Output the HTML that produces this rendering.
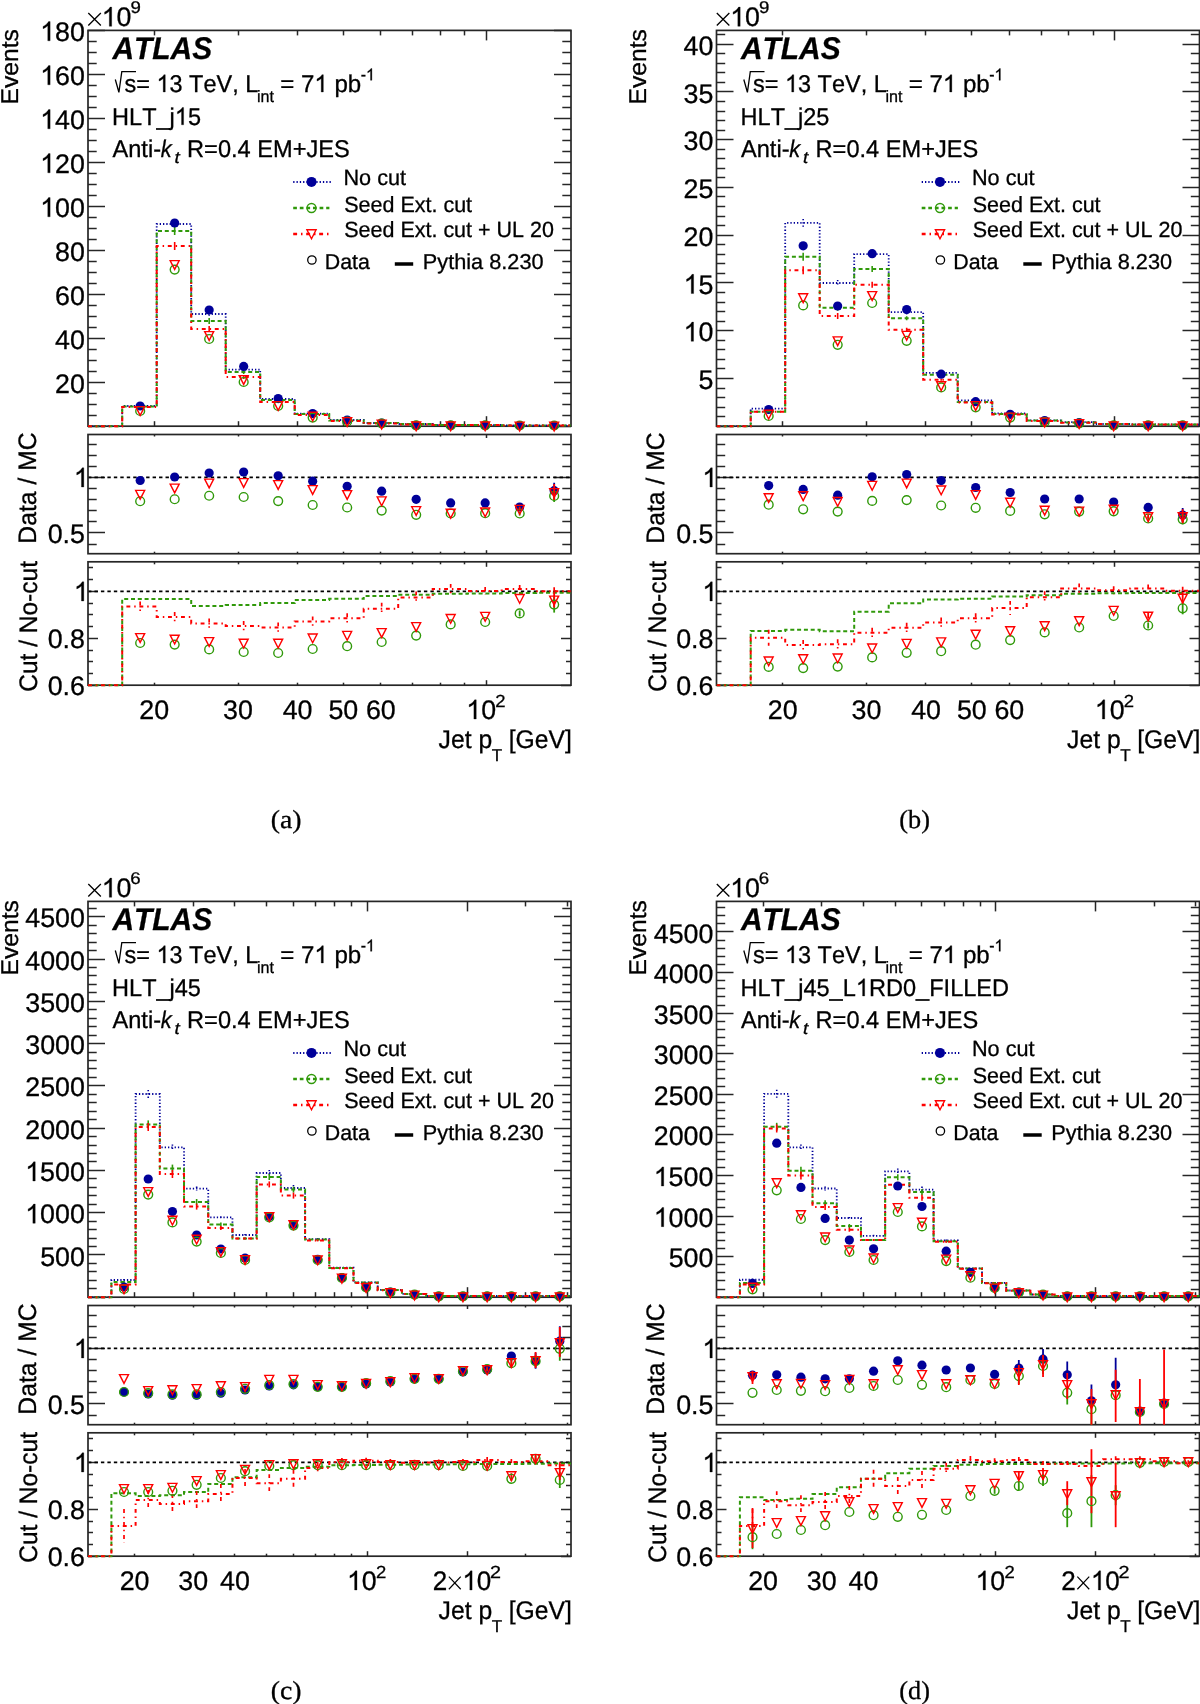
<!DOCTYPE html>
<html><head><meta charset="utf-8"><style>
html,body{margin:0;padding:0;background:#fff;}
body{width:1200px;height:1704px;overflow:hidden;}
svg{display:block;}
text{white-space:pre;fill:#000;stroke:#000;stroke-width:0.3px;font-kerning:none;text-rendering:geometricPrecision;}
svg{will-change:transform;}
</style></head><body>
<svg width="1200" height="1704" viewBox="0 0 1200 1704">
<rect x="0" y="0" width="1200" height="1704" fill="#fff"/>
<clipPath id="ca0"><rect x="88" y="29.4" width="483" height="401.8"/></clipPath>
<clipPath id="ca1"><rect x="82" y="434.5" width="495" height="119.2"/></clipPath>
<clipPath id="ca2"><rect x="88" y="561.8" width="483" height="124.9"/></clipPath>
<line x1="88" y1="415.5" x2="96.7" y2="415.5" stroke="#262626" stroke-width="1.5"/>
<line x1="571" y1="415.5" x2="562.3" y2="415.5" stroke="#262626" stroke-width="1.5"/>
<line x1="88" y1="404.5" x2="96.7" y2="404.5" stroke="#262626" stroke-width="1.5"/>
<line x1="571" y1="404.5" x2="562.3" y2="404.5" stroke="#262626" stroke-width="1.5"/>
<line x1="88" y1="393.5" x2="96.7" y2="393.5" stroke="#262626" stroke-width="1.5"/>
<line x1="571" y1="393.5" x2="562.3" y2="393.5" stroke="#262626" stroke-width="1.5"/>
<line x1="88" y1="371.5" x2="96.7" y2="371.5" stroke="#262626" stroke-width="1.5"/>
<line x1="571" y1="371.5" x2="562.3" y2="371.5" stroke="#262626" stroke-width="1.5"/>
<line x1="88" y1="360.5" x2="96.7" y2="360.5" stroke="#262626" stroke-width="1.5"/>
<line x1="571" y1="360.5" x2="562.3" y2="360.5" stroke="#262626" stroke-width="1.5"/>
<line x1="88" y1="349.5" x2="96.7" y2="349.5" stroke="#262626" stroke-width="1.5"/>
<line x1="571" y1="349.5" x2="562.3" y2="349.5" stroke="#262626" stroke-width="1.5"/>
<line x1="88" y1="327.5" x2="96.7" y2="327.5" stroke="#262626" stroke-width="1.5"/>
<line x1="571" y1="327.5" x2="562.3" y2="327.5" stroke="#262626" stroke-width="1.5"/>
<line x1="88" y1="316.5" x2="96.7" y2="316.5" stroke="#262626" stroke-width="1.5"/>
<line x1="571" y1="316.5" x2="562.3" y2="316.5" stroke="#262626" stroke-width="1.5"/>
<line x1="88" y1="305.5" x2="96.7" y2="305.5" stroke="#262626" stroke-width="1.5"/>
<line x1="571" y1="305.5" x2="562.3" y2="305.5" stroke="#262626" stroke-width="1.5"/>
<line x1="88" y1="283.5" x2="96.7" y2="283.5" stroke="#262626" stroke-width="1.5"/>
<line x1="571" y1="283.5" x2="562.3" y2="283.5" stroke="#262626" stroke-width="1.5"/>
<line x1="88" y1="272.5" x2="96.7" y2="272.5" stroke="#262626" stroke-width="1.5"/>
<line x1="571" y1="272.5" x2="562.3" y2="272.5" stroke="#262626" stroke-width="1.5"/>
<line x1="88" y1="261.5" x2="96.7" y2="261.5" stroke="#262626" stroke-width="1.5"/>
<line x1="571" y1="261.5" x2="562.3" y2="261.5" stroke="#262626" stroke-width="1.5"/>
<line x1="88" y1="239.5" x2="96.7" y2="239.5" stroke="#262626" stroke-width="1.5"/>
<line x1="571" y1="239.5" x2="562.3" y2="239.5" stroke="#262626" stroke-width="1.5"/>
<line x1="88" y1="228.5" x2="96.7" y2="228.5" stroke="#262626" stroke-width="1.5"/>
<line x1="571" y1="228.5" x2="562.3" y2="228.5" stroke="#262626" stroke-width="1.5"/>
<line x1="88" y1="217.5" x2="96.7" y2="217.5" stroke="#262626" stroke-width="1.5"/>
<line x1="571" y1="217.5" x2="562.3" y2="217.5" stroke="#262626" stroke-width="1.5"/>
<line x1="88" y1="195.5" x2="96.7" y2="195.5" stroke="#262626" stroke-width="1.5"/>
<line x1="571" y1="195.5" x2="562.3" y2="195.5" stroke="#262626" stroke-width="1.5"/>
<line x1="88" y1="184.5" x2="96.7" y2="184.5" stroke="#262626" stroke-width="1.5"/>
<line x1="571" y1="184.5" x2="562.3" y2="184.5" stroke="#262626" stroke-width="1.5"/>
<line x1="88" y1="173.5" x2="96.7" y2="173.5" stroke="#262626" stroke-width="1.5"/>
<line x1="571" y1="173.5" x2="562.3" y2="173.5" stroke="#262626" stroke-width="1.5"/>
<line x1="88" y1="151.5" x2="96.7" y2="151.5" stroke="#262626" stroke-width="1.5"/>
<line x1="571" y1="151.5" x2="562.3" y2="151.5" stroke="#262626" stroke-width="1.5"/>
<line x1="88" y1="140.5" x2="96.7" y2="140.5" stroke="#262626" stroke-width="1.5"/>
<line x1="571" y1="140.5" x2="562.3" y2="140.5" stroke="#262626" stroke-width="1.5"/>
<line x1="88" y1="129.5" x2="96.7" y2="129.5" stroke="#262626" stroke-width="1.5"/>
<line x1="571" y1="129.5" x2="562.3" y2="129.5" stroke="#262626" stroke-width="1.5"/>
<line x1="88" y1="107.5" x2="96.7" y2="107.5" stroke="#262626" stroke-width="1.5"/>
<line x1="571" y1="107.5" x2="562.3" y2="107.5" stroke="#262626" stroke-width="1.5"/>
<line x1="88" y1="96.5" x2="96.7" y2="96.5" stroke="#262626" stroke-width="1.5"/>
<line x1="571" y1="96.5" x2="562.3" y2="96.5" stroke="#262626" stroke-width="1.5"/>
<line x1="88" y1="85.5" x2="96.7" y2="85.5" stroke="#262626" stroke-width="1.5"/>
<line x1="571" y1="85.5" x2="562.3" y2="85.5" stroke="#262626" stroke-width="1.5"/>
<line x1="88" y1="63.5" x2="96.7" y2="63.5" stroke="#262626" stroke-width="1.5"/>
<line x1="571" y1="63.5" x2="562.3" y2="63.5" stroke="#262626" stroke-width="1.5"/>
<line x1="88" y1="52.5" x2="96.7" y2="52.5" stroke="#262626" stroke-width="1.5"/>
<line x1="571" y1="52.5" x2="562.3" y2="52.5" stroke="#262626" stroke-width="1.5"/>
<line x1="88" y1="41.5" x2="96.7" y2="41.5" stroke="#262626" stroke-width="1.5"/>
<line x1="571" y1="41.5" x2="562.3" y2="41.5" stroke="#262626" stroke-width="1.5"/>
<line x1="88" y1="426.5" x2="105" y2="426.5" stroke="#262626" stroke-width="1.5"/>
<line x1="571" y1="426.5" x2="554" y2="426.5" stroke="#262626" stroke-width="1.5"/>
<line x1="88" y1="382.5" x2="105" y2="382.5" stroke="#262626" stroke-width="1.5"/>
<line x1="571" y1="382.5" x2="554" y2="382.5" stroke="#262626" stroke-width="1.5"/>
<line x1="88" y1="338.5" x2="105" y2="338.5" stroke="#262626" stroke-width="1.5"/>
<line x1="571" y1="338.5" x2="554" y2="338.5" stroke="#262626" stroke-width="1.5"/>
<line x1="88" y1="294.5" x2="105" y2="294.5" stroke="#262626" stroke-width="1.5"/>
<line x1="571" y1="294.5" x2="554" y2="294.5" stroke="#262626" stroke-width="1.5"/>
<line x1="88" y1="250.5" x2="105" y2="250.5" stroke="#262626" stroke-width="1.5"/>
<line x1="571" y1="250.5" x2="554" y2="250.5" stroke="#262626" stroke-width="1.5"/>
<line x1="88" y1="206.5" x2="105" y2="206.5" stroke="#262626" stroke-width="1.5"/>
<line x1="571" y1="206.5" x2="554" y2="206.5" stroke="#262626" stroke-width="1.5"/>
<line x1="88" y1="162.5" x2="105" y2="162.5" stroke="#262626" stroke-width="1.5"/>
<line x1="571" y1="162.5" x2="554" y2="162.5" stroke="#262626" stroke-width="1.5"/>
<line x1="88" y1="118.5" x2="105" y2="118.5" stroke="#262626" stroke-width="1.5"/>
<line x1="571" y1="118.5" x2="554" y2="118.5" stroke="#262626" stroke-width="1.5"/>
<line x1="88" y1="74.5" x2="105" y2="74.5" stroke="#262626" stroke-width="1.5"/>
<line x1="571" y1="74.5" x2="554" y2="74.5" stroke="#262626" stroke-width="1.5"/>
<line x1="88" y1="30.5" x2="105" y2="30.5" stroke="#262626" stroke-width="1.5"/>
<line x1="571" y1="30.5" x2="554" y2="30.5" stroke="#262626" stroke-width="1.5"/>
<g transform="translate(55.04 392.8)"><text xml:space="preserve" x="0" y="0" font-size="26.8" font-family='"Liberation Sans", sans-serif'>20</text></g>
<g transform="translate(55.04 348.8)"><text xml:space="preserve" x="0" y="0" font-size="26.8" font-family='"Liberation Sans", sans-serif'>40</text></g>
<g transform="translate(55.04 304.8)"><text xml:space="preserve" x="0" y="0" font-size="26.8" font-family='"Liberation Sans", sans-serif'>60</text></g>
<g transform="translate(55.04 260.8)"><text xml:space="preserve" x="0" y="0" font-size="26.8" font-family='"Liberation Sans", sans-serif'>80</text></g>
<g transform="translate(40.13 216.8)"><path d="M10 0L7.64 0L7.64 -15.01C7.07 -14.46 6.32 -13.91 5.4 -13.36C4.49 -12.81 3.66 -12.39 2.92 -12.1L2.92 -14.38C4.21 -15 5.35 -15.74 6.33 -16.62C7.32 -17.5 8.01 -18.35 8.41 -19.18L10 -19.18Z" fill="#000" stroke="#000" stroke-width="0.3"/><text xml:space="preserve" x="14.9" y="0" font-size="26.8" font-family='"Liberation Sans", sans-serif'>00</text></g>
<g transform="translate(40.13 172.8)"><path d="M10 0L7.64 0L7.64 -15.01C7.07 -14.46 6.32 -13.91 5.4 -13.36C4.49 -12.81 3.66 -12.39 2.92 -12.1L2.92 -14.38C4.21 -15 5.35 -15.74 6.33 -16.62C7.32 -17.5 8.01 -18.35 8.41 -19.18L10 -19.18Z" fill="#000" stroke="#000" stroke-width="0.3"/><text xml:space="preserve" x="14.9" y="0" font-size="26.8" font-family='"Liberation Sans", sans-serif'>20</text></g>
<g transform="translate(40.13 128.8)"><path d="M10 0L7.64 0L7.64 -15.01C7.07 -14.46 6.32 -13.91 5.4 -13.36C4.49 -12.81 3.66 -12.39 2.92 -12.1L2.92 -14.38C4.21 -15 5.35 -15.74 6.33 -16.62C7.32 -17.5 8.01 -18.35 8.41 -19.18L10 -19.18Z" fill="#000" stroke="#000" stroke-width="0.3"/><text xml:space="preserve" x="14.9" y="0" font-size="26.8" font-family='"Liberation Sans", sans-serif'>40</text></g>
<g transform="translate(40.13 84.8)"><path d="M10 0L7.64 0L7.64 -15.01C7.07 -14.46 6.32 -13.91 5.4 -13.36C4.49 -12.81 3.66 -12.39 2.92 -12.1L2.92 -14.38C4.21 -15 5.35 -15.74 6.33 -16.62C7.32 -17.5 8.01 -18.35 8.41 -19.18L10 -19.18Z" fill="#000" stroke="#000" stroke-width="0.3"/><text xml:space="preserve" x="14.9" y="0" font-size="26.8" font-family='"Liberation Sans", sans-serif'>60</text></g>
<g transform="translate(40.13 40.8)"><path d="M10 0L7.64 0L7.64 -15.01C7.07 -14.46 6.32 -13.91 5.4 -13.36C4.49 -12.81 3.66 -12.39 2.92 -12.1L2.92 -14.38C4.21 -15 5.35 -15.74 6.33 -16.62C7.32 -17.5 8.01 -18.35 8.41 -19.18L10 -19.18Z" fill="#000" stroke="#000" stroke-width="0.3"/><text xml:space="preserve" x="14.9" y="0" font-size="26.8" font-family='"Liberation Sans", sans-serif'>80</text></g>
<line x1="154.5" y1="426.2" x2="154.5" y2="421.2" stroke="#262626" stroke-width="1.5"/>
<line x1="154.5" y1="30.4" x2="154.5" y2="35.4" stroke="#262626" stroke-width="1.5"/>
<line x1="238.5" y1="426.2" x2="238.5" y2="421.2" stroke="#262626" stroke-width="1.5"/>
<line x1="238.5" y1="30.4" x2="238.5" y2="35.4" stroke="#262626" stroke-width="1.5"/>
<line x1="297.5" y1="426.2" x2="297.5" y2="421.2" stroke="#262626" stroke-width="1.5"/>
<line x1="297.5" y1="30.4" x2="297.5" y2="35.4" stroke="#262626" stroke-width="1.5"/>
<line x1="343.5" y1="426.2" x2="343.5" y2="421.2" stroke="#262626" stroke-width="1.5"/>
<line x1="343.5" y1="30.4" x2="343.5" y2="35.4" stroke="#262626" stroke-width="1.5"/>
<line x1="380.5" y1="426.2" x2="380.5" y2="421.2" stroke="#262626" stroke-width="1.5"/>
<line x1="380.5" y1="30.4" x2="380.5" y2="35.4" stroke="#262626" stroke-width="1.5"/>
<line x1="412.5" y1="426.2" x2="412.5" y2="421.2" stroke="#262626" stroke-width="1.5"/>
<line x1="412.5" y1="30.4" x2="412.5" y2="35.4" stroke="#262626" stroke-width="1.5"/>
<line x1="440.5" y1="426.2" x2="440.5" y2="421.2" stroke="#262626" stroke-width="1.5"/>
<line x1="440.5" y1="30.4" x2="440.5" y2="35.4" stroke="#262626" stroke-width="1.5"/>
<line x1="464.5" y1="426.2" x2="464.5" y2="421.2" stroke="#262626" stroke-width="1.5"/>
<line x1="464.5" y1="30.4" x2="464.5" y2="35.4" stroke="#262626" stroke-width="1.5"/>
<line x1="486.5" y1="426.2" x2="486.5" y2="416.2" stroke="#262626" stroke-width="1.5"/>
<line x1="486.5" y1="30.4" x2="486.5" y2="40.4" stroke="#262626" stroke-width="1.5"/>
<rect x="88" y="30.4" width="483" height="395.8" fill="none" stroke="#262626" stroke-width="1.7"/>
<g clip-path="url(#ca0)">
<path d="M88 426.2L122.2 426.2L122.2 406L156.7 406L156.7 224L191.2 224L191.2 314L225.7 314L225.7 369.6L260.2 369.6L260.2 399L294.7 399L294.7 413.6L329.2 413.6L329.2 420L363.7 420L363.7 423L398.2 423L398.2 424L432.7 424L432.7 425L467.2 425L467.2 425L501.7 425L501.7 425.5L536.2 425.5L536.2 425.5L570.7 425.5" stroke="#000099" stroke-width="1.8" fill="none" stroke-dasharray="1.3 2.0" stroke-linejoin="miter"/>
<path d="M88 426.2L122.2 426.2L122.2 406.5L156.7 406.5L156.7 231L191.2 231L191.2 321L225.7 321L225.7 372L260.2 372L260.2 400L294.7 400L294.7 414L329.2 414L329.2 420.5L363.7 420.5L363.7 423L398.2 423L398.2 424L432.7 424L432.7 425L467.2 425L467.2 425L501.7 425L501.7 425.5L536.2 425.5L536.2 425.5L570.7 425.5" stroke="#30990a" stroke-width="2" fill="none" stroke-dasharray="4 2.8" stroke-linejoin="miter"/>
<path d="M88 426.2L122.2 426.2L122.2 407L156.7 407L156.7 246L191.2 246L191.2 329L225.7 329L225.7 377L260.2 377L260.2 402L294.7 402L294.7 415L329.2 415L329.2 421L363.7 421L363.7 423.5L398.2 423.5L398.2 424.5L432.7 424.5L432.7 425L467.2 425L467.2 425L501.7 425L501.7 425.5L536.2 425.5L536.2 425.5L570.7 425.5" stroke="#ff0000" stroke-width="2" fill="none" stroke-dasharray="3.9 3.9 1.5 3.7" stroke-linejoin="miter"/>
<line x1="140.17" y1="405" x2="140.17" y2="407" stroke="#000099" stroke-width="1.6" stroke-dasharray="1.3 2.0"/>
<line x1="174.67" y1="221" x2="174.67" y2="227" stroke="#000099" stroke-width="1.6" stroke-dasharray="1.3 2.0"/>
<line x1="209.17" y1="312" x2="209.17" y2="316" stroke="#000099" stroke-width="1.6" stroke-dasharray="1.3 2.0"/>
<line x1="243.67" y1="368.6" x2="243.67" y2="370.6" stroke="#000099" stroke-width="1.6" stroke-dasharray="1.3 2.0"/>
<line x1="278.17" y1="398" x2="278.17" y2="400" stroke="#000099" stroke-width="1.6" stroke-dasharray="1.3 2.0"/>
<line x1="140.17" y1="405.5" x2="140.17" y2="407.5" stroke="#30990a" stroke-width="1.6"/>
<line x1="174.67" y1="227" x2="174.67" y2="235" stroke="#30990a" stroke-width="1.6"/>
<line x1="209.17" y1="318" x2="209.17" y2="324" stroke="#30990a" stroke-width="1.6"/>
<line x1="243.67" y1="370" x2="243.67" y2="374" stroke="#30990a" stroke-width="1.6"/>
<line x1="278.17" y1="399" x2="278.17" y2="401" stroke="#30990a" stroke-width="1.6"/>
<line x1="140.17" y1="406" x2="140.17" y2="408" stroke="#ff0000" stroke-width="1.6"/>
<line x1="174.67" y1="242" x2="174.67" y2="250" stroke="#ff0000" stroke-width="1.6"/>
<line x1="209.17" y1="326" x2="209.17" y2="332" stroke="#ff0000" stroke-width="1.6"/>
<line x1="243.67" y1="375" x2="243.67" y2="379" stroke="#ff0000" stroke-width="1.6"/>
<line x1="278.17" y1="401" x2="278.17" y2="403" stroke="#ff0000" stroke-width="1.6"/>
</g>
<circle cx="140.17" cy="406" r="4.6" fill="#000099"/>
<circle cx="140.17" cy="411" r="4.4" fill="none" stroke="#30990a" stroke-width="1.4"/>
<path d="M135.67 406.58L144.67 406.58L140.17 415.4Z" stroke="#ff0000" stroke-width="1.4" fill="none" stroke-linejoin="miter"/>
<circle cx="174.67" cy="223" r="4.6" fill="#000099"/>
<circle cx="174.67" cy="269.6" r="4.4" fill="none" stroke="#30990a" stroke-width="1.4"/>
<path d="M170.17 260.58L179.17 260.58L174.67 269.4Z" stroke="#ff0000" stroke-width="1.4" fill="none" stroke-linejoin="miter"/>
<circle cx="209.17" cy="310" r="4.6" fill="#000099"/>
<circle cx="209.17" cy="339" r="4.4" fill="none" stroke="#30990a" stroke-width="1.4"/>
<path d="M204.67 331.58L213.67 331.58L209.17 340.4Z" stroke="#ff0000" stroke-width="1.4" fill="none" stroke-linejoin="miter"/>
<circle cx="243.67" cy="366.4" r="4.6" fill="#000099"/>
<circle cx="243.67" cy="382" r="4.4" fill="none" stroke="#30990a" stroke-width="1.4"/>
<path d="M239.17 375.58L248.17 375.58L243.67 384.4Z" stroke="#ff0000" stroke-width="1.4" fill="none" stroke-linejoin="miter"/>
<circle cx="278.17" cy="398.6" r="4.6" fill="#000099"/>
<circle cx="278.17" cy="406" r="4.4" fill="none" stroke="#30990a" stroke-width="1.4"/>
<path d="M273.67 401.58L282.67 401.58L278.17 410.4Z" stroke="#ff0000" stroke-width="1.4" fill="none" stroke-linejoin="miter"/>
<circle cx="312.67" cy="413.6" r="4.6" fill="#000099"/>
<circle cx="312.67" cy="417.6" r="4.4" fill="none" stroke="#30990a" stroke-width="1.4"/>
<path d="M308.17 412.18L317.17 412.18L312.67 421Z" stroke="#ff0000" stroke-width="1.4" fill="none" stroke-linejoin="miter"/>
<circle cx="347.17" cy="420" r="4.6" fill="#000099"/>
<circle cx="347.17" cy="421.5" r="4.4" fill="none" stroke="#30990a" stroke-width="1.4"/>
<path d="M342.67 417.58L351.67 417.58L347.17 426.4Z" stroke="#ff0000" stroke-width="1.4" fill="none" stroke-linejoin="miter"/>
<circle cx="381.67" cy="423" r="4.6" fill="#000099"/>
<circle cx="381.67" cy="423.5" r="4.4" fill="none" stroke="#30990a" stroke-width="1.4"/>
<path d="M377.17 420.08L386.17 420.08L381.67 428.9Z" stroke="#ff0000" stroke-width="1.4" fill="none" stroke-linejoin="miter"/>
<circle cx="416.17" cy="425.4" r="4.6" fill="#000099"/>
<circle cx="416.17" cy="425.4" r="4.4" fill="none" stroke="#30990a" stroke-width="1.4"/>
<path d="M411.67 421.98L420.67 421.98L416.17 430.8Z" stroke="#ff0000" stroke-width="1.4" fill="none" stroke-linejoin="miter"/>
<circle cx="450.67" cy="425.4" r="4.6" fill="#000099"/>
<circle cx="450.67" cy="425.4" r="4.4" fill="none" stroke="#30990a" stroke-width="1.4"/>
<path d="M446.17 421.98L455.17 421.98L450.67 430.8Z" stroke="#ff0000" stroke-width="1.4" fill="none" stroke-linejoin="miter"/>
<circle cx="485.17" cy="425.4" r="4.6" fill="#000099"/>
<circle cx="485.17" cy="425.4" r="4.4" fill="none" stroke="#30990a" stroke-width="1.4"/>
<path d="M480.67 421.98L489.67 421.98L485.17 430.8Z" stroke="#ff0000" stroke-width="1.4" fill="none" stroke-linejoin="miter"/>
<circle cx="519.67" cy="425.5" r="4.6" fill="#000099"/>
<circle cx="519.67" cy="425.5" r="4.4" fill="none" stroke="#30990a" stroke-width="1.4"/>
<path d="M515.17 422.08L524.17 422.08L519.67 430.9Z" stroke="#ff0000" stroke-width="1.4" fill="none" stroke-linejoin="miter"/>
<circle cx="554.17" cy="425.5" r="4.6" fill="#000099"/>
<circle cx="554.17" cy="425.5" r="4.4" fill="none" stroke="#30990a" stroke-width="1.4"/>
<path d="M549.67 422.08L558.67 422.08L554.17 430.9Z" stroke="#ff0000" stroke-width="1.4" fill="none" stroke-linejoin="miter"/>
<line x1="88" y1="544.5" x2="96.7" y2="544.5" stroke="#262626" stroke-width="1.5"/>
<line x1="571" y1="544.5" x2="562.3" y2="544.5" stroke="#262626" stroke-width="1.5"/>
<line x1="88" y1="521.5" x2="96.7" y2="521.5" stroke="#262626" stroke-width="1.5"/>
<line x1="571" y1="521.5" x2="562.3" y2="521.5" stroke="#262626" stroke-width="1.5"/>
<line x1="88" y1="510.5" x2="96.7" y2="510.5" stroke="#262626" stroke-width="1.5"/>
<line x1="571" y1="510.5" x2="562.3" y2="510.5" stroke="#262626" stroke-width="1.5"/>
<line x1="88" y1="499.5" x2="96.7" y2="499.5" stroke="#262626" stroke-width="1.5"/>
<line x1="571" y1="499.5" x2="562.3" y2="499.5" stroke="#262626" stroke-width="1.5"/>
<line x1="88" y1="488.5" x2="96.7" y2="488.5" stroke="#262626" stroke-width="1.5"/>
<line x1="571" y1="488.5" x2="562.3" y2="488.5" stroke="#262626" stroke-width="1.5"/>
<line x1="88" y1="466.5" x2="96.7" y2="466.5" stroke="#262626" stroke-width="1.5"/>
<line x1="571" y1="466.5" x2="562.3" y2="466.5" stroke="#262626" stroke-width="1.5"/>
<line x1="88" y1="455.5" x2="96.7" y2="455.5" stroke="#262626" stroke-width="1.5"/>
<line x1="571" y1="455.5" x2="562.3" y2="455.5" stroke="#262626" stroke-width="1.5"/>
<line x1="88" y1="444.5" x2="96.7" y2="444.5" stroke="#262626" stroke-width="1.5"/>
<line x1="571" y1="444.5" x2="562.3" y2="444.5" stroke="#262626" stroke-width="1.5"/>
<line x1="88" y1="532.5" x2="105" y2="532.5" stroke="#262626" stroke-width="1.5"/>
<line x1="571" y1="532.5" x2="554" y2="532.5" stroke="#262626" stroke-width="1.5"/>
<line x1="88" y1="477.5" x2="105" y2="477.5" stroke="#262626" stroke-width="1.5"/>
<line x1="571" y1="477.5" x2="554" y2="477.5" stroke="#262626" stroke-width="1.5"/>
<g transform="translate(73.8 487)"><path d="M10 0L7.64 0L7.64 -15.01C7.07 -14.46 6.32 -13.91 5.4 -13.36C4.49 -12.81 3.66 -12.39 2.92 -12.1L2.92 -14.38C4.21 -15 5.35 -15.74 6.33 -16.62C7.32 -17.5 8.01 -18.35 8.41 -19.18L10 -19.18Z" fill="#000" stroke="#000" stroke-width="0.3"/></g>
<g transform="translate(47.67 542.5)"><text xml:space="preserve" x="0" y="0" font-size="26.8" font-family='"Liberation Sans", sans-serif'>0.5</text></g>
<line x1="154.5" y1="553.7" x2="154.5" y2="551.7" stroke="#262626" stroke-width="1.5"/>
<line x1="154.5" y1="434.5" x2="154.5" y2="436.5" stroke="#262626" stroke-width="1.5"/>
<line x1="238.5" y1="553.7" x2="238.5" y2="551.7" stroke="#262626" stroke-width="1.5"/>
<line x1="238.5" y1="434.5" x2="238.5" y2="436.5" stroke="#262626" stroke-width="1.5"/>
<line x1="297.5" y1="553.7" x2="297.5" y2="551.7" stroke="#262626" stroke-width="1.5"/>
<line x1="297.5" y1="434.5" x2="297.5" y2="436.5" stroke="#262626" stroke-width="1.5"/>
<line x1="343.5" y1="553.7" x2="343.5" y2="551.7" stroke="#262626" stroke-width="1.5"/>
<line x1="343.5" y1="434.5" x2="343.5" y2="436.5" stroke="#262626" stroke-width="1.5"/>
<line x1="380.5" y1="553.7" x2="380.5" y2="551.7" stroke="#262626" stroke-width="1.5"/>
<line x1="380.5" y1="434.5" x2="380.5" y2="436.5" stroke="#262626" stroke-width="1.5"/>
<line x1="412.5" y1="553.7" x2="412.5" y2="551.7" stroke="#262626" stroke-width="1.5"/>
<line x1="412.5" y1="434.5" x2="412.5" y2="436.5" stroke="#262626" stroke-width="1.5"/>
<line x1="440.5" y1="553.7" x2="440.5" y2="551.7" stroke="#262626" stroke-width="1.5"/>
<line x1="440.5" y1="434.5" x2="440.5" y2="436.5" stroke="#262626" stroke-width="1.5"/>
<line x1="464.5" y1="553.7" x2="464.5" y2="551.7" stroke="#262626" stroke-width="1.5"/>
<line x1="464.5" y1="434.5" x2="464.5" y2="436.5" stroke="#262626" stroke-width="1.5"/>
<line x1="486.5" y1="553.7" x2="486.5" y2="550.2" stroke="#262626" stroke-width="1.5"/>
<line x1="486.5" y1="434.5" x2="486.5" y2="438" stroke="#262626" stroke-width="1.5"/>
<line x1="88" y1="477.4" x2="571" y2="477.4" stroke="#000000" stroke-width="1.6" stroke-dasharray="3.4 3.06"/>
<rect x="88" y="434.5" width="483" height="119.2" fill="none" stroke="#262626" stroke-width="1.7"/>
<g clip-path="url(#ca1)">
<circle cx="140.17" cy="480.5" r="4.6" fill="#000099"/>
<circle cx="174.67" cy="477" r="4.6" fill="#000099"/>
<circle cx="209.17" cy="473" r="4.6" fill="#000099"/>
<circle cx="243.67" cy="472" r="4.6" fill="#000099"/>
<circle cx="278.17" cy="475.8" r="4.6" fill="#000099"/>
<circle cx="312.67" cy="481.2" r="4.6" fill="#000099"/>
<circle cx="347.17" cy="486.3" r="4.6" fill="#000099"/>
<circle cx="381.67" cy="491.2" r="4.6" fill="#000099"/>
<circle cx="416.17" cy="499.3" r="4.6" fill="#000099"/>
<circle cx="450.67" cy="502.9" r="4.6" fill="#000099"/>
<circle cx="485.17" cy="502.9" r="4.6" fill="#000099"/>
<line x1="519.67" y1="505" x2="519.67" y2="509" stroke="#000099" stroke-width="1.8"/>
<circle cx="519.67" cy="507" r="4.6" fill="#000099"/>
<line x1="554.17" y1="482.7" x2="554.17" y2="498.7" stroke="#000099" stroke-width="1.8"/>
<circle cx="554.17" cy="490.7" r="4.6" fill="#000099"/>
<circle cx="140.17" cy="501.25" r="4.4" fill="none" stroke="#30990a" stroke-width="1.4"/>
<circle cx="174.67" cy="499.25" r="4.4" fill="none" stroke="#30990a" stroke-width="1.4"/>
<circle cx="209.17" cy="495.75" r="4.4" fill="none" stroke="#30990a" stroke-width="1.4"/>
<circle cx="243.67" cy="497" r="4.4" fill="none" stroke="#30990a" stroke-width="1.4"/>
<circle cx="278.17" cy="501.1" r="4.4" fill="none" stroke="#30990a" stroke-width="1.4"/>
<circle cx="312.67" cy="505" r="4.4" fill="none" stroke="#30990a" stroke-width="1.4"/>
<circle cx="347.17" cy="507.5" r="4.4" fill="none" stroke="#30990a" stroke-width="1.4"/>
<circle cx="381.67" cy="510.6" r="4.4" fill="none" stroke="#30990a" stroke-width="1.4"/>
<circle cx="416.17" cy="514.8" r="4.4" fill="none" stroke="#30990a" stroke-width="1.4"/>
<circle cx="450.67" cy="513.5" r="4.4" fill="none" stroke="#30990a" stroke-width="1.4"/>
<circle cx="485.17" cy="513.2" r="4.4" fill="none" stroke="#30990a" stroke-width="1.4"/>
<line x1="519.67" y1="511.5" x2="519.67" y2="515.5" stroke="#30990a" stroke-width="1.8"/>
<circle cx="519.67" cy="513.5" r="4.4" fill="none" stroke="#30990a" stroke-width="1.4"/>
<line x1="554.17" y1="489.9" x2="554.17" y2="501.9" stroke="#30990a" stroke-width="1.8"/>
<circle cx="554.17" cy="495.9" r="4.4" fill="none" stroke="#30990a" stroke-width="1.4"/>
<path d="M135.67 490.33L144.67 490.33L140.17 499.15Z" stroke="#ff0000" stroke-width="1.4" fill="none" stroke-linejoin="miter"/>
<path d="M170.17 484.08L179.17 484.08L174.67 492.9Z" stroke="#ff0000" stroke-width="1.4" fill="none" stroke-linejoin="miter"/>
<path d="M204.67 479.08L213.67 479.08L209.17 487.9Z" stroke="#ff0000" stroke-width="1.4" fill="none" stroke-linejoin="miter"/>
<path d="M239.17 478.58L248.17 478.58L243.67 487.4Z" stroke="#ff0000" stroke-width="1.4" fill="none" stroke-linejoin="miter"/>
<path d="M273.67 480.58L282.67 480.58L278.17 489.4Z" stroke="#ff0000" stroke-width="1.4" fill="none" stroke-linejoin="miter"/>
<path d="M308.17 485.58L317.17 485.58L312.67 494.4Z" stroke="#ff0000" stroke-width="1.4" fill="none" stroke-linejoin="miter"/>
<path d="M342.67 490.58L351.67 490.58L347.17 499.4Z" stroke="#ff0000" stroke-width="1.4" fill="none" stroke-linejoin="miter"/>
<path d="M377.17 496.88L386.17 496.88L381.67 505.7Z" stroke="#ff0000" stroke-width="1.4" fill="none" stroke-linejoin="miter"/>
<path d="M411.67 506.58L420.67 506.58L416.17 515.4Z" stroke="#ff0000" stroke-width="1.4" fill="none" stroke-linejoin="miter"/>
<path d="M446.17 509.28L455.17 509.28L450.67 518.1Z" stroke="#ff0000" stroke-width="1.4" fill="none" stroke-linejoin="miter"/>
<path d="M480.67 507.98L489.67 507.98L485.17 516.8Z" stroke="#ff0000" stroke-width="1.4" fill="none" stroke-linejoin="miter"/>
<line x1="519.67" y1="506.8" x2="519.67" y2="510.8" stroke="#ff0000" stroke-width="1.8"/>
<path d="M515.17 505.38L524.17 505.38L519.67 514.2Z" stroke="#ff0000" stroke-width="1.4" fill="none" stroke-linejoin="miter"/>
<line x1="554.17" y1="484" x2="554.17" y2="500" stroke="#ff0000" stroke-width="1.8"/>
<path d="M549.67 488.58L558.67 488.58L554.17 497.4Z" stroke="#ff0000" stroke-width="1.4" fill="none" stroke-linejoin="miter"/>
</g>
<line x1="88" y1="673.5" x2="93" y2="673.5" stroke="#262626" stroke-width="1.5"/>
<line x1="571" y1="673.5" x2="566" y2="673.5" stroke="#262626" stroke-width="1.5"/>
<line x1="88" y1="661.5" x2="93" y2="661.5" stroke="#262626" stroke-width="1.5"/>
<line x1="571" y1="661.5" x2="566" y2="661.5" stroke="#262626" stroke-width="1.5"/>
<line x1="88" y1="650.5" x2="93" y2="650.5" stroke="#262626" stroke-width="1.5"/>
<line x1="571" y1="650.5" x2="566" y2="650.5" stroke="#262626" stroke-width="1.5"/>
<line x1="88" y1="626.5" x2="93" y2="626.5" stroke="#262626" stroke-width="1.5"/>
<line x1="571" y1="626.5" x2="566" y2="626.5" stroke="#262626" stroke-width="1.5"/>
<line x1="88" y1="614.5" x2="93" y2="614.5" stroke="#262626" stroke-width="1.5"/>
<line x1="571" y1="614.5" x2="566" y2="614.5" stroke="#262626" stroke-width="1.5"/>
<line x1="88" y1="603.5" x2="93" y2="603.5" stroke="#262626" stroke-width="1.5"/>
<line x1="571" y1="603.5" x2="566" y2="603.5" stroke="#262626" stroke-width="1.5"/>
<line x1="88" y1="579.5" x2="93" y2="579.5" stroke="#262626" stroke-width="1.5"/>
<line x1="571" y1="579.5" x2="566" y2="579.5" stroke="#262626" stroke-width="1.5"/>
<line x1="88" y1="567.5" x2="93" y2="567.5" stroke="#262626" stroke-width="1.5"/>
<line x1="571" y1="567.5" x2="566" y2="567.5" stroke="#262626" stroke-width="1.5"/>
<line x1="88" y1="685.5" x2="98" y2="685.5" stroke="#262626" stroke-width="1.5"/>
<line x1="571" y1="685.5" x2="561" y2="685.5" stroke="#262626" stroke-width="1.5"/>
<line x1="88" y1="638.5" x2="98" y2="638.5" stroke="#262626" stroke-width="1.5"/>
<line x1="571" y1="638.5" x2="561" y2="638.5" stroke="#262626" stroke-width="1.5"/>
<line x1="88" y1="591.5" x2="98" y2="591.5" stroke="#262626" stroke-width="1.5"/>
<line x1="571" y1="591.5" x2="561" y2="591.5" stroke="#262626" stroke-width="1.5"/>
<g transform="translate(73.8 601)"><path d="M10 0L7.64 0L7.64 -15.01C7.07 -14.46 6.32 -13.91 5.4 -13.36C4.49 -12.81 3.66 -12.39 2.92 -12.1L2.92 -14.38C4.21 -15 5.35 -15.74 6.33 -16.62C7.32 -17.5 8.01 -18.35 8.41 -19.18L10 -19.18Z" fill="#000" stroke="#000" stroke-width="0.3"/></g>
<g transform="translate(47.71 648)"><text xml:space="preserve" x="0" y="0" font-size="26.8" font-family='"Liberation Sans", sans-serif'>0.8</text></g>
<g transform="translate(47.72 695)"><text xml:space="preserve" x="0" y="0" font-size="26.8" font-family='"Liberation Sans", sans-serif'>0.6</text></g>
<line x1="154.5" y1="685.2" x2="154.5" y2="682.7" stroke="#262626" stroke-width="1.5"/>
<line x1="154.5" y1="561.8" x2="154.5" y2="564.3" stroke="#262626" stroke-width="1.5"/>
<line x1="238.5" y1="685.2" x2="238.5" y2="682.7" stroke="#262626" stroke-width="1.5"/>
<line x1="238.5" y1="561.8" x2="238.5" y2="564.3" stroke="#262626" stroke-width="1.5"/>
<line x1="297.5" y1="685.2" x2="297.5" y2="682.7" stroke="#262626" stroke-width="1.5"/>
<line x1="297.5" y1="561.8" x2="297.5" y2="564.3" stroke="#262626" stroke-width="1.5"/>
<line x1="343.5" y1="685.2" x2="343.5" y2="682.7" stroke="#262626" stroke-width="1.5"/>
<line x1="343.5" y1="561.8" x2="343.5" y2="564.3" stroke="#262626" stroke-width="1.5"/>
<line x1="380.5" y1="685.2" x2="380.5" y2="682.7" stroke="#262626" stroke-width="1.5"/>
<line x1="380.5" y1="561.8" x2="380.5" y2="564.3" stroke="#262626" stroke-width="1.5"/>
<line x1="412.5" y1="685.2" x2="412.5" y2="682.7" stroke="#262626" stroke-width="1.5"/>
<line x1="412.5" y1="561.8" x2="412.5" y2="564.3" stroke="#262626" stroke-width="1.5"/>
<line x1="440.5" y1="685.2" x2="440.5" y2="682.7" stroke="#262626" stroke-width="1.5"/>
<line x1="440.5" y1="561.8" x2="440.5" y2="564.3" stroke="#262626" stroke-width="1.5"/>
<line x1="464.5" y1="685.2" x2="464.5" y2="682.7" stroke="#262626" stroke-width="1.5"/>
<line x1="464.5" y1="561.8" x2="464.5" y2="564.3" stroke="#262626" stroke-width="1.5"/>
<line x1="486.5" y1="685.2" x2="486.5" y2="680.2" stroke="#262626" stroke-width="1.5"/>
<line x1="486.5" y1="561.8" x2="486.5" y2="566.8" stroke="#262626" stroke-width="1.5"/>
<line x1="88" y1="591.4" x2="571" y2="591.4" stroke="#000000" stroke-width="1.6" stroke-dasharray="3.4 3.06"/>
<rect x="88" y="561.8" width="483" height="123.4" fill="none" stroke="#262626" stroke-width="1.7"/>
<g clip-path="url(#ca2)">
<path d="M88 685.2L122.2 685.2L122.2 599L156.7 599L156.7 599L191.2 599L191.2 606L225.7 606L225.7 605L260.2 605L260.2 603L294.7 603L294.7 600L329.2 600L329.2 598.8L363.7 598.8L363.7 596L398.2 596L398.2 594.8L432.7 594.8L432.7 593.8L467.2 593.8L467.2 593.4L501.7 593.4L501.7 593L536.2 593L536.2 592.8L570.7 592.8" stroke="#30990a" stroke-width="2" fill="none" stroke-dasharray="4 2.8" stroke-linejoin="miter"/>
<path d="M88 685.2L122.2 685.2L122.2 606.6L156.7 606.6L156.7 617L191.2 617L191.2 623.4L225.7 623.4L225.7 626L260.2 626L260.2 627.4L294.7 627.4L294.7 621.4L329.2 621.4L329.2 618.3L363.7 618.3L363.7 608.7L398.2 608.7L398.2 597.4L432.7 597.4L432.7 588.9L467.2 588.9L467.2 591L501.7 591L501.7 588.9L536.2 588.9L536.2 591.3L570.7 591.3" stroke="#ff0000" stroke-width="2" fill="none" stroke-dasharray="3.9 3.9 1.5 3.7" stroke-linejoin="miter"/>
<line x1="140.17" y1="601.6" x2="140.17" y2="611.6" stroke="#ff0000" stroke-width="1.7" stroke-dasharray="3.9 3.9 1.5 3.7"/>
<line x1="174.67" y1="612" x2="174.67" y2="622" stroke="#ff0000" stroke-width="1.7" stroke-dasharray="3.9 3.9 1.5 3.7"/>
<line x1="209.17" y1="618.4" x2="209.17" y2="628.4" stroke="#ff0000" stroke-width="1.7" stroke-dasharray="3.9 3.9 1.5 3.7"/>
<line x1="243.67" y1="621" x2="243.67" y2="631" stroke="#ff0000" stroke-width="1.7" stroke-dasharray="3.9 3.9 1.5 3.7"/>
<line x1="278.17" y1="622.4" x2="278.17" y2="632.4" stroke="#ff0000" stroke-width="1.7" stroke-dasharray="3.9 3.9 1.5 3.7"/>
<line x1="312.67" y1="616.4" x2="312.67" y2="626.4" stroke="#ff0000" stroke-width="1.7" stroke-dasharray="3.9 3.9 1.5 3.7"/>
<line x1="347.17" y1="613.3" x2="347.17" y2="623.3" stroke="#ff0000" stroke-width="1.7" stroke-dasharray="3.9 3.9 1.5 3.7"/>
<line x1="381.67" y1="602.7" x2="381.67" y2="614.7" stroke="#ff0000" stroke-width="1.7" stroke-dasharray="3.9 3.9 1.5 3.7"/>
<line x1="416.17" y1="591.4" x2="416.17" y2="603.4" stroke="#ff0000" stroke-width="1.7" stroke-dasharray="3.9 3.9 1.5 3.7"/>
<line x1="450.67" y1="583.9" x2="450.67" y2="593.9" stroke="#ff0000" stroke-width="1.7" stroke-dasharray="3.9 3.9 1.5 3.7"/>
<line x1="485.17" y1="587" x2="485.17" y2="595" stroke="#ff0000" stroke-width="1.7" stroke-dasharray="3.9 3.9 1.5 3.7"/>
<line x1="519.67" y1="584.9" x2="519.67" y2="592.9" stroke="#ff0000" stroke-width="1.7" stroke-dasharray="3.9 3.9 1.5 3.7"/>
<line x1="554.17" y1="587.3" x2="554.17" y2="595.3" stroke="#ff0000" stroke-width="1.7" stroke-dasharray="3.9 3.9 1.5 3.7"/>
</g>
<circle cx="140.17" cy="643" r="4.4" fill="none" stroke="#30990a" stroke-width="1.4"/>
<path d="M135.67 633.58L144.67 633.58L140.17 642.4Z" stroke="#ff0000" stroke-width="1.4" fill="none" stroke-linejoin="miter"/>
<circle cx="174.67" cy="644.6" r="4.4" fill="none" stroke="#30990a" stroke-width="1.4"/>
<path d="M170.17 635.18L179.17 635.18L174.67 644Z" stroke="#ff0000" stroke-width="1.4" fill="none" stroke-linejoin="miter"/>
<circle cx="209.17" cy="649.4" r="4.4" fill="none" stroke="#30990a" stroke-width="1.4"/>
<path d="M204.67 637.58L213.67 637.58L209.17 646.4Z" stroke="#ff0000" stroke-width="1.4" fill="none" stroke-linejoin="miter"/>
<circle cx="243.67" cy="652" r="4.4" fill="none" stroke="#30990a" stroke-width="1.4"/>
<path d="M239.17 639.18L248.17 639.18L243.67 648Z" stroke="#ff0000" stroke-width="1.4" fill="none" stroke-linejoin="miter"/>
<circle cx="278.17" cy="653" r="4.4" fill="none" stroke="#30990a" stroke-width="1.4"/>
<path d="M273.67 639.18L282.67 639.18L278.17 648Z" stroke="#ff0000" stroke-width="1.4" fill="none" stroke-linejoin="miter"/>
<circle cx="312.67" cy="649" r="4.4" fill="none" stroke="#30990a" stroke-width="1.4"/>
<path d="M308.17 633.98L317.17 633.98L312.67 642.8Z" stroke="#ff0000" stroke-width="1.4" fill="none" stroke-linejoin="miter"/>
<circle cx="347.17" cy="646.2" r="4.4" fill="none" stroke="#30990a" stroke-width="1.4"/>
<path d="M342.67 631.38L351.67 631.38L347.17 640.2Z" stroke="#ff0000" stroke-width="1.4" fill="none" stroke-linejoin="miter"/>
<circle cx="381.67" cy="642" r="4.4" fill="none" stroke="#30990a" stroke-width="1.4"/>
<path d="M377.17 628.58L386.17 628.58L381.67 637.4Z" stroke="#ff0000" stroke-width="1.4" fill="none" stroke-linejoin="miter"/>
<circle cx="416.17" cy="635.6" r="4.4" fill="none" stroke="#30990a" stroke-width="1.4"/>
<path d="M411.67 622.58L420.67 622.58L416.17 631.4Z" stroke="#ff0000" stroke-width="1.4" fill="none" stroke-linejoin="miter"/>
<circle cx="450.67" cy="624.4" r="4.4" fill="none" stroke="#30990a" stroke-width="1.4"/>
<path d="M446.17 614.48L455.17 614.48L450.67 623.3Z" stroke="#ff0000" stroke-width="1.4" fill="none" stroke-linejoin="miter"/>
<circle cx="485.17" cy="622" r="4.4" fill="none" stroke="#30990a" stroke-width="1.4"/>
<path d="M480.67 612.38L489.67 612.38L485.17 621.2Z" stroke="#ff0000" stroke-width="1.4" fill="none" stroke-linejoin="miter"/>
<line x1="519.67" y1="610.4" x2="519.67" y2="616.4" stroke="#30990a" stroke-width="1.8"/>
<circle cx="519.67" cy="613.4" r="4.4" fill="none" stroke="#30990a" stroke-width="1.4"/>
<path d="M515.17 594.48L524.17 594.48L519.67 603.3Z" stroke="#ff0000" stroke-width="1.4" fill="none" stroke-linejoin="miter"/>
<line x1="554.17" y1="596.6" x2="554.17" y2="612.6" stroke="#30990a" stroke-width="1.8"/>
<line x1="554.17" y1="591.5" x2="554.17" y2="607.5" stroke="#ff0000" stroke-width="1.8"/>
<circle cx="554.17" cy="604.6" r="4.4" fill="none" stroke="#30990a" stroke-width="1.4"/>
<path d="M549.67 596.08L558.67 596.08L554.17 604.9Z" stroke="#ff0000" stroke-width="1.4" fill="none" stroke-linejoin="miter"/>
<g transform="translate(139.34 719)"><text xml:space="preserve" x="0" y="0" font-size="26.8" font-family='"Liberation Sans", sans-serif'>20</text></g>
<g transform="translate(223.12 719)"><text xml:space="preserve" x="0" y="0" font-size="26.8" font-family='"Liberation Sans", sans-serif'>30</text></g>
<g transform="translate(282.64 719)"><text xml:space="preserve" x="0" y="0" font-size="26.8" font-family='"Liberation Sans", sans-serif'>40</text></g>
<g transform="translate(328.42 719)"><text xml:space="preserve" x="0" y="0" font-size="26.8" font-family='"Liberation Sans", sans-serif'>50</text></g>
<g transform="translate(365.88 719)"><text xml:space="preserve" x="0" y="0" font-size="26.8" font-family='"Liberation Sans", sans-serif'>60</text></g>
<g transform="translate(466.26 719) scale(0.9983 1)"><path d="M10 0L7.64 0L7.64 -15.01C7.07 -14.46 6.32 -13.91 5.4 -13.36C4.49 -12.81 3.66 -12.39 2.92 -12.1L2.92 -14.38C4.21 -15 5.35 -15.74 6.33 -16.62C7.32 -17.5 8.01 -18.35 8.41 -19.18L10 -19.18Z" fill="#000" stroke="#000" stroke-width="0.3"/><text xml:space="preserve" x="14.9" y="0" font-size="26.8" font-family='"Liberation Sans", sans-serif'>0</text></g>
<g transform="translate(495.24 706.8) scale(1.0536 1)"><text xml:space="preserve" x="0" y="0" font-size="17.5" font-family='"Liberation Sans", sans-serif'>2</text></g>
<g transform="translate(438.61 748) scale(0.9671 1)"><text xml:space="preserve" x="0" y="0" font-size="25.6" font-family='"Liberation Sans", sans-serif'>Jet p</text></g>
<g transform="translate(491.87 760.75) scale(1.0039 1)"><text xml:space="preserve" x="0" y="0" font-size="17" font-family='"Liberation Sans", sans-serif'>T</text></g>
<g transform="translate(508.64 748) scale(0.9644 1)"><text xml:space="preserve" x="0" y="0" font-size="25.6" font-family='"Liberation Sans", sans-serif'>[GeV]</text></g>
<text x="18" y="104.52" font-size="24.3" font-family='"Liberation Sans", sans-serif' textLength="75.41" lengthAdjust="spacingAndGlyphs" transform="rotate(-90 18 104.52)">Events</text>
<text x="36" y="543.73" font-size="25.3" font-family='"Liberation Sans", sans-serif' textLength="111.37" lengthAdjust="spacingAndGlyphs" transform="rotate(-90 36 543.73)">Data / MC</text>
<text x="37.3" y="691.74" font-size="25.3" font-family='"Liberation Sans", sans-serif' textLength="130.72" lengthAdjust="spacingAndGlyphs" transform="rotate(-90 37.3 691.74)">Cut / No-cut</text>
<g transform="translate(86.56 26.3) scale(1.0243 1)"><path d="M1.7 -13.35L13.95 -0.79M1.7 -0.79L13.95 -13.35" stroke="#000" stroke-width="1.25" fill="none"/></g>
<g transform="translate(101.69 26.3) scale(0.9983 1)"><path d="M10 0L7.64 0L7.64 -15.01C7.07 -14.46 6.32 -13.91 5.4 -13.36C4.49 -12.81 3.66 -12.39 2.92 -12.1L2.92 -14.38C4.21 -15 5.35 -15.74 6.33 -16.62C7.32 -17.5 8.01 -18.35 8.41 -19.18L10 -19.18Z" fill="#000" stroke="#000" stroke-width="0.3"/><text xml:space="preserve" x="14.9" y="0" font-size="26.8" font-family='"Liberation Sans", sans-serif'>0</text></g>
<g transform="translate(130.43 13.3) scale(1.0952 1)"><text xml:space="preserve" x="0" y="0" font-size="17" font-family='"Liberation Sans", sans-serif'>9</text></g>
<g transform="translate(112.41 59.3) scale(0.9526 1)"><text xml:space="preserve" x="0" y="0" font-size="31.4" font-family='"Liberation Sans", sans-serif' font-weight="bold" font-style="italic">ATLAS</text></g>
<path d="M115.3 79.5L118.9 92.3L121.8 71.6L136 71.6" stroke="#000000" stroke-width="1.3" fill="none"/>
<g transform="translate(124.55 92) scale(0.9699 1)"><text xml:space="preserve" x="0" y="0" font-size="24.2" font-family='"Liberation Sans", sans-serif'>s= </text><path d="M41.98 0L39.86 0L39.86 -13.55C39.34 -13.06 38.66 -12.56 37.84 -12.06C37.01 -11.57 36.26 -11.19 35.59 -10.93L35.59 -12.99C36.76 -13.54 37.79 -14.22 38.68 -15.01C39.56 -15.8 40.19 -16.57 40.55 -17.32L41.98 -17.32Z" fill="#000" stroke="#000" stroke-width="0.3"/><text xml:space="preserve" x="46.41" y="0" font-size="24.2" font-family='"Liberation Sans", sans-serif'>3 TeV, L</text></g>
<g transform="translate(256.92 102.2) scale(0.9752 1)"><text xml:space="preserve" x="0" y="0" font-size="16.5" font-family='"Liberation Sans", sans-serif'>int</text></g>
<g transform="translate(280.22 92) scale(0.9947 1)"><text xml:space="preserve" x="0" y="0" font-size="24.2" font-family='"Liberation Sans", sans-serif'>= 7</text><path d="M43.34 0L41.22 0L41.22 -13.55C40.7 -13.06 40.02 -12.56 39.2 -12.06C38.37 -11.57 37.62 -11.19 36.95 -10.93L36.95 -12.99C38.12 -13.54 39.15 -14.22 40.03 -15.01C40.92 -15.8 41.55 -16.57 41.91 -17.32L43.34 -17.32Z" fill="#000" stroke="#000" stroke-width="0.3"/><text xml:space="preserve" x="47.77" y="0" font-size="24.2" font-family='"Liberation Sans", sans-serif'> pb</text></g>
<g transform="translate(360.69 80.3) scale(0.9618 1)"><text xml:space="preserve" x="0" y="0" font-size="16.5" font-family='"Liberation Sans", sans-serif'>-</text><path d="M11.65 0L10.2 0L10.2 -9.24C9.85 -8.9 9.39 -8.56 8.82 -8.23C8.26 -7.89 7.75 -7.63 7.29 -7.45L7.29 -8.85C8.09 -9.23 8.79 -9.69 9.39 -10.23C10 -10.77 10.43 -11.3 10.68 -11.81L11.65 -11.81Z" fill="#000" stroke="#000" stroke-width="0.3"/></g>
<g transform="translate(112.07 124.8) scale(0.9721 1)"><text xml:space="preserve" x="0" y="0" font-size="24.2" font-family='"Liberation Sans", sans-serif'>HLT_j</text><path d="M73.58 0L71.45 0L71.45 -13.55C70.93 -13.06 70.26 -12.56 69.43 -12.06C68.61 -11.57 67.86 -11.19 67.19 -10.93L67.19 -12.99C68.36 -13.54 69.39 -14.22 70.27 -15.01C71.16 -15.8 71.78 -16.57 72.15 -17.32L73.58 -17.32Z" fill="#000" stroke="#000" stroke-width="0.3"/><text xml:space="preserve" x="78.01" y="0" font-size="24.2" font-family='"Liberation Sans", sans-serif'>5</text></g>
<g transform="translate(112.45 157.4) scale(0.9766 1)"><text xml:space="preserve" x="0" y="0" font-size="24.2" font-family='"Liberation Sans", sans-serif'>Anti-</text></g>
<g transform="translate(160.64 157.4) scale(0.9045 1)"><text xml:space="preserve" x="0" y="0" font-size="24.2" font-family='"Liberation Sans", sans-serif' font-style="italic">k</text></g>
<g transform="translate(174.45 163.4) scale(1.1346 1)"><text xml:space="preserve" x="0" y="0" font-size="16.5" font-family='"Liberation Sans", sans-serif' font-style="italic">t</text></g>
<g transform="translate(187.06 157.4) scale(0.9759 1)"><text xml:space="preserve" x="0" y="0" font-size="24.2" font-family='"Liberation Sans", sans-serif'>R=0.4 EM+JES</text></g>
<line x1="293.2" y1="181.9" x2="331" y2="181.9" stroke="#000099" stroke-width="2" stroke-dasharray="1.3 2.0"/>
<line x1="293.2" y1="208" x2="329.4" y2="208" stroke="#30990a" stroke-width="2.4" stroke-dasharray="3.7 2.9"/>
<line x1="293.2" y1="234" x2="328.8" y2="234" stroke="#ff0000" stroke-width="2.4" stroke-dasharray="3.9 3.9 1.5 3.7"/>
<circle cx="311.5" cy="181.9" r="5" fill="#000099"/>
<circle cx="311.5" cy="208" r="4.45" fill="none" stroke="#30990a" stroke-width="1.4"/>
<path d="M306.9 229.7L316.1 229.7L311.5 238.72Z" stroke="#ff0000" stroke-width="1.4" fill="none" stroke-linejoin="miter"/>
<g transform="translate(343.47 185.4) scale(0.9843 1)"><text xml:space="preserve" x="0" y="0" font-size="22" font-family='"Liberation Sans", sans-serif'>No cut</text></g>
<g transform="translate(344.27 212.2) scale(0.9766 1)"><text xml:space="preserve" x="0" y="0" font-size="22" font-family='"Liberation Sans", sans-serif'>Seed Ext. cut</text></g>
<g transform="translate(344.27 237.4) scale(0.9764 1)"><text xml:space="preserve" x="0" y="0" font-size="22" font-family='"Liberation Sans", sans-serif'>Seed Ext. cut + UL 20</text></g>
<circle cx="311.9" cy="260" r="4.2" fill="none" stroke="#000000" stroke-width="1.3"/>
<g transform="translate(324.75 268.6) scale(0.9896 1)"><text xml:space="preserve" x="0" y="0" font-size="21.6" font-family='"Liberation Sans", sans-serif'>Data</text></g>
<line x1="394.8" y1="264" x2="413.2" y2="264" stroke="#000000" stroke-width="3.5"/>
<g transform="translate(422.82 268.6) scale(1.0062 1)"><text xml:space="preserve" x="0" y="0" font-size="21.6" font-family='"Liberation Sans", sans-serif'>Pythia 8.230</text></g>
<g transform="translate(270.78 828.4) scale(1.0651 1)"><text xml:space="preserve" x="0" y="0" font-size="26" font-family='"Liberation Serif", serif'>(a)</text></g>
<clipPath id="cb0"><rect x="716.5" y="29.4" width="483" height="401.8"/></clipPath>
<clipPath id="cb1"><rect x="710.5" y="434.5" width="495" height="119.2"/></clipPath>
<clipPath id="cb2"><rect x="716.5" y="561.8" width="483" height="124.9"/></clipPath>
<line x1="716.5" y1="416.5" x2="725.2" y2="416.5" stroke="#262626" stroke-width="1.5"/>
<line x1="1199.5" y1="416.5" x2="1190.8" y2="416.5" stroke="#262626" stroke-width="1.5"/>
<line x1="716.5" y1="407.5" x2="725.2" y2="407.5" stroke="#262626" stroke-width="1.5"/>
<line x1="1199.5" y1="407.5" x2="1190.8" y2="407.5" stroke="#262626" stroke-width="1.5"/>
<line x1="716.5" y1="397.5" x2="725.2" y2="397.5" stroke="#262626" stroke-width="1.5"/>
<line x1="1199.5" y1="397.5" x2="1190.8" y2="397.5" stroke="#262626" stroke-width="1.5"/>
<line x1="716.5" y1="388.5" x2="725.2" y2="388.5" stroke="#262626" stroke-width="1.5"/>
<line x1="1199.5" y1="388.5" x2="1190.8" y2="388.5" stroke="#262626" stroke-width="1.5"/>
<line x1="716.5" y1="368.5" x2="725.2" y2="368.5" stroke="#262626" stroke-width="1.5"/>
<line x1="1199.5" y1="368.5" x2="1190.8" y2="368.5" stroke="#262626" stroke-width="1.5"/>
<line x1="716.5" y1="359.5" x2="725.2" y2="359.5" stroke="#262626" stroke-width="1.5"/>
<line x1="1199.5" y1="359.5" x2="1190.8" y2="359.5" stroke="#262626" stroke-width="1.5"/>
<line x1="716.5" y1="349.5" x2="725.2" y2="349.5" stroke="#262626" stroke-width="1.5"/>
<line x1="1199.5" y1="349.5" x2="1190.8" y2="349.5" stroke="#262626" stroke-width="1.5"/>
<line x1="716.5" y1="340.5" x2="725.2" y2="340.5" stroke="#262626" stroke-width="1.5"/>
<line x1="1199.5" y1="340.5" x2="1190.8" y2="340.5" stroke="#262626" stroke-width="1.5"/>
<line x1="716.5" y1="321.5" x2="725.2" y2="321.5" stroke="#262626" stroke-width="1.5"/>
<line x1="1199.5" y1="321.5" x2="1190.8" y2="321.5" stroke="#262626" stroke-width="1.5"/>
<line x1="716.5" y1="311.5" x2="725.2" y2="311.5" stroke="#262626" stroke-width="1.5"/>
<line x1="1199.5" y1="311.5" x2="1190.8" y2="311.5" stroke="#262626" stroke-width="1.5"/>
<line x1="716.5" y1="302.5" x2="725.2" y2="302.5" stroke="#262626" stroke-width="1.5"/>
<line x1="1199.5" y1="302.5" x2="1190.8" y2="302.5" stroke="#262626" stroke-width="1.5"/>
<line x1="716.5" y1="292.5" x2="725.2" y2="292.5" stroke="#262626" stroke-width="1.5"/>
<line x1="1199.5" y1="292.5" x2="1190.8" y2="292.5" stroke="#262626" stroke-width="1.5"/>
<line x1="716.5" y1="273.5" x2="725.2" y2="273.5" stroke="#262626" stroke-width="1.5"/>
<line x1="1199.5" y1="273.5" x2="1190.8" y2="273.5" stroke="#262626" stroke-width="1.5"/>
<line x1="716.5" y1="263.5" x2="725.2" y2="263.5" stroke="#262626" stroke-width="1.5"/>
<line x1="1199.5" y1="263.5" x2="1190.8" y2="263.5" stroke="#262626" stroke-width="1.5"/>
<line x1="716.5" y1="254.5" x2="725.2" y2="254.5" stroke="#262626" stroke-width="1.5"/>
<line x1="1199.5" y1="254.5" x2="1190.8" y2="254.5" stroke="#262626" stroke-width="1.5"/>
<line x1="716.5" y1="244.5" x2="725.2" y2="244.5" stroke="#262626" stroke-width="1.5"/>
<line x1="1199.5" y1="244.5" x2="1190.8" y2="244.5" stroke="#262626" stroke-width="1.5"/>
<line x1="716.5" y1="225.5" x2="725.2" y2="225.5" stroke="#262626" stroke-width="1.5"/>
<line x1="1199.5" y1="225.5" x2="1190.8" y2="225.5" stroke="#262626" stroke-width="1.5"/>
<line x1="716.5" y1="216.5" x2="725.2" y2="216.5" stroke="#262626" stroke-width="1.5"/>
<line x1="1199.5" y1="216.5" x2="1190.8" y2="216.5" stroke="#262626" stroke-width="1.5"/>
<line x1="716.5" y1="206.5" x2="725.2" y2="206.5" stroke="#262626" stroke-width="1.5"/>
<line x1="1199.5" y1="206.5" x2="1190.8" y2="206.5" stroke="#262626" stroke-width="1.5"/>
<line x1="716.5" y1="196.5" x2="725.2" y2="196.5" stroke="#262626" stroke-width="1.5"/>
<line x1="1199.5" y1="196.5" x2="1190.8" y2="196.5" stroke="#262626" stroke-width="1.5"/>
<line x1="716.5" y1="177.5" x2="725.2" y2="177.5" stroke="#262626" stroke-width="1.5"/>
<line x1="1199.5" y1="177.5" x2="1190.8" y2="177.5" stroke="#262626" stroke-width="1.5"/>
<line x1="716.5" y1="168.5" x2="725.2" y2="168.5" stroke="#262626" stroke-width="1.5"/>
<line x1="1199.5" y1="168.5" x2="1190.8" y2="168.5" stroke="#262626" stroke-width="1.5"/>
<line x1="716.5" y1="158.5" x2="725.2" y2="158.5" stroke="#262626" stroke-width="1.5"/>
<line x1="1199.5" y1="158.5" x2="1190.8" y2="158.5" stroke="#262626" stroke-width="1.5"/>
<line x1="716.5" y1="149.5" x2="725.2" y2="149.5" stroke="#262626" stroke-width="1.5"/>
<line x1="1199.5" y1="149.5" x2="1190.8" y2="149.5" stroke="#262626" stroke-width="1.5"/>
<line x1="716.5" y1="130.5" x2="725.2" y2="130.5" stroke="#262626" stroke-width="1.5"/>
<line x1="1199.5" y1="130.5" x2="1190.8" y2="130.5" stroke="#262626" stroke-width="1.5"/>
<line x1="716.5" y1="120.5" x2="725.2" y2="120.5" stroke="#262626" stroke-width="1.5"/>
<line x1="1199.5" y1="120.5" x2="1190.8" y2="120.5" stroke="#262626" stroke-width="1.5"/>
<line x1="716.5" y1="111.5" x2="725.2" y2="111.5" stroke="#262626" stroke-width="1.5"/>
<line x1="1199.5" y1="111.5" x2="1190.8" y2="111.5" stroke="#262626" stroke-width="1.5"/>
<line x1="716.5" y1="101.5" x2="725.2" y2="101.5" stroke="#262626" stroke-width="1.5"/>
<line x1="1199.5" y1="101.5" x2="1190.8" y2="101.5" stroke="#262626" stroke-width="1.5"/>
<line x1="716.5" y1="82.5" x2="725.2" y2="82.5" stroke="#262626" stroke-width="1.5"/>
<line x1="1199.5" y1="82.5" x2="1190.8" y2="82.5" stroke="#262626" stroke-width="1.5"/>
<line x1="716.5" y1="72.5" x2="725.2" y2="72.5" stroke="#262626" stroke-width="1.5"/>
<line x1="1199.5" y1="72.5" x2="1190.8" y2="72.5" stroke="#262626" stroke-width="1.5"/>
<line x1="716.5" y1="63.5" x2="725.2" y2="63.5" stroke="#262626" stroke-width="1.5"/>
<line x1="1199.5" y1="63.5" x2="1190.8" y2="63.5" stroke="#262626" stroke-width="1.5"/>
<line x1="716.5" y1="53.5" x2="725.2" y2="53.5" stroke="#262626" stroke-width="1.5"/>
<line x1="1199.5" y1="53.5" x2="1190.8" y2="53.5" stroke="#262626" stroke-width="1.5"/>
<line x1="716.5" y1="34.5" x2="725.2" y2="34.5" stroke="#262626" stroke-width="1.5"/>
<line x1="1199.5" y1="34.5" x2="1190.8" y2="34.5" stroke="#262626" stroke-width="1.5"/>
<line x1="716.5" y1="426.5" x2="733.5" y2="426.5" stroke="#262626" stroke-width="1.5"/>
<line x1="1199.5" y1="426.5" x2="1182.5" y2="426.5" stroke="#262626" stroke-width="1.5"/>
<line x1="716.5" y1="378.5" x2="733.5" y2="378.5" stroke="#262626" stroke-width="1.5"/>
<line x1="1199.5" y1="378.5" x2="1182.5" y2="378.5" stroke="#262626" stroke-width="1.5"/>
<line x1="716.5" y1="330.5" x2="733.5" y2="330.5" stroke="#262626" stroke-width="1.5"/>
<line x1="1199.5" y1="330.5" x2="1182.5" y2="330.5" stroke="#262626" stroke-width="1.5"/>
<line x1="716.5" y1="282.5" x2="733.5" y2="282.5" stroke="#262626" stroke-width="1.5"/>
<line x1="1199.5" y1="282.5" x2="1182.5" y2="282.5" stroke="#262626" stroke-width="1.5"/>
<line x1="716.5" y1="235.5" x2="733.5" y2="235.5" stroke="#262626" stroke-width="1.5"/>
<line x1="1199.5" y1="235.5" x2="1182.5" y2="235.5" stroke="#262626" stroke-width="1.5"/>
<line x1="716.5" y1="187.5" x2="733.5" y2="187.5" stroke="#262626" stroke-width="1.5"/>
<line x1="1199.5" y1="187.5" x2="1182.5" y2="187.5" stroke="#262626" stroke-width="1.5"/>
<line x1="716.5" y1="139.5" x2="733.5" y2="139.5" stroke="#262626" stroke-width="1.5"/>
<line x1="1199.5" y1="139.5" x2="1182.5" y2="139.5" stroke="#262626" stroke-width="1.5"/>
<line x1="716.5" y1="91.5" x2="733.5" y2="91.5" stroke="#262626" stroke-width="1.5"/>
<line x1="1199.5" y1="91.5" x2="1182.5" y2="91.5" stroke="#262626" stroke-width="1.5"/>
<line x1="716.5" y1="44.5" x2="733.5" y2="44.5" stroke="#262626" stroke-width="1.5"/>
<line x1="1199.5" y1="44.5" x2="1182.5" y2="44.5" stroke="#262626" stroke-width="1.5"/>
<g transform="translate(698.52 389.05)"><text xml:space="preserve" x="0" y="0" font-size="26.8" font-family='"Liberation Sans", sans-serif'>5</text></g>
<g transform="translate(683.54 341.3)"><path d="M10 0L7.64 0L7.64 -15.01C7.07 -14.46 6.32 -13.91 5.4 -13.36C4.49 -12.81 3.66 -12.39 2.92 -12.1L2.92 -14.38C4.21 -15 5.35 -15.74 6.33 -16.62C7.32 -17.5 8.01 -18.35 8.41 -19.18L10 -19.18Z" fill="#000" stroke="#000" stroke-width="0.3"/><text xml:space="preserve" x="14.9" y="0" font-size="26.8" font-family='"Liberation Sans", sans-serif'>0</text></g>
<g transform="translate(683.62 293.55)"><path d="M10 0L7.64 0L7.64 -15.01C7.07 -14.46 6.32 -13.91 5.4 -13.36C4.49 -12.81 3.66 -12.39 2.92 -12.1L2.92 -14.38C4.21 -15 5.35 -15.74 6.33 -16.62C7.32 -17.5 8.01 -18.35 8.41 -19.18L10 -19.18Z" fill="#000" stroke="#000" stroke-width="0.3"/><text xml:space="preserve" x="14.9" y="0" font-size="26.8" font-family='"Liberation Sans", sans-serif'>5</text></g>
<g transform="translate(683.54 245.8)"><text xml:space="preserve" x="0" y="0" font-size="26.8" font-family='"Liberation Sans", sans-serif'>20</text></g>
<g transform="translate(683.62 198.05)"><text xml:space="preserve" x="0" y="0" font-size="26.8" font-family='"Liberation Sans", sans-serif'>25</text></g>
<g transform="translate(683.54 150.3)"><text xml:space="preserve" x="0" y="0" font-size="26.8" font-family='"Liberation Sans", sans-serif'>30</text></g>
<g transform="translate(683.62 102.55)"><text xml:space="preserve" x="0" y="0" font-size="26.8" font-family='"Liberation Sans", sans-serif'>35</text></g>
<g transform="translate(683.54 54.8)"><text xml:space="preserve" x="0" y="0" font-size="26.8" font-family='"Liberation Sans", sans-serif'>40</text></g>
<line x1="782.5" y1="426.2" x2="782.5" y2="421.2" stroke="#262626" stroke-width="1.5"/>
<line x1="782.5" y1="30.4" x2="782.5" y2="35.4" stroke="#262626" stroke-width="1.5"/>
<line x1="866.5" y1="426.2" x2="866.5" y2="421.2" stroke="#262626" stroke-width="1.5"/>
<line x1="866.5" y1="30.4" x2="866.5" y2="35.4" stroke="#262626" stroke-width="1.5"/>
<line x1="925.5" y1="426.2" x2="925.5" y2="421.2" stroke="#262626" stroke-width="1.5"/>
<line x1="925.5" y1="30.4" x2="925.5" y2="35.4" stroke="#262626" stroke-width="1.5"/>
<line x1="971.5" y1="426.2" x2="971.5" y2="421.2" stroke="#262626" stroke-width="1.5"/>
<line x1="971.5" y1="30.4" x2="971.5" y2="35.4" stroke="#262626" stroke-width="1.5"/>
<line x1="1009.5" y1="426.2" x2="1009.5" y2="421.2" stroke="#262626" stroke-width="1.5"/>
<line x1="1009.5" y1="30.4" x2="1009.5" y2="35.4" stroke="#262626" stroke-width="1.5"/>
<line x1="1041.5" y1="426.2" x2="1041.5" y2="421.2" stroke="#262626" stroke-width="1.5"/>
<line x1="1041.5" y1="30.4" x2="1041.5" y2="35.4" stroke="#262626" stroke-width="1.5"/>
<line x1="1068.5" y1="426.2" x2="1068.5" y2="421.2" stroke="#262626" stroke-width="1.5"/>
<line x1="1068.5" y1="30.4" x2="1068.5" y2="35.4" stroke="#262626" stroke-width="1.5"/>
<line x1="1093.5" y1="426.2" x2="1093.5" y2="421.2" stroke="#262626" stroke-width="1.5"/>
<line x1="1093.5" y1="30.4" x2="1093.5" y2="35.4" stroke="#262626" stroke-width="1.5"/>
<line x1="1114.5" y1="426.2" x2="1114.5" y2="416.2" stroke="#262626" stroke-width="1.5"/>
<line x1="1114.5" y1="30.4" x2="1114.5" y2="40.4" stroke="#262626" stroke-width="1.5"/>
<rect x="716.5" y="30.4" width="483" height="395.8" fill="none" stroke="#262626" stroke-width="1.7"/>
<g clip-path="url(#cb0)">
<path d="M716.5 426.2L750.7 426.2L750.7 408.6L785.2 408.6L785.2 222.9L819.7 222.9L819.7 283L854.2 283L854.2 254.1L888.7 254.1L888.7 312.2L923.2 312.2L923.2 372.9L957.7 372.9L957.7 400.3L992.2 400.3L992.2 413.4L1026.7 413.4L1026.7 420.3L1061.2 420.3L1061.2 422.2L1095.7 422.2L1095.7 424L1130.2 424L1130.2 424.5L1164.7 424.5L1164.7 424.5L1199.2 424.5" stroke="#000099" stroke-width="1.8" fill="none" stroke-dasharray="1.3 2.0" stroke-linejoin="miter"/>
<path d="M716.5 426.2L750.7 426.2L750.7 411.75L785.2 411.75L785.2 256.8L819.7 256.8L819.7 307.8L854.2 307.8L854.2 269.1L888.7 269.1L888.7 318.25L923.2 318.25L923.2 374.7L957.7 374.7L957.7 402L992.2 402L992.2 414L1026.7 414L1026.7 420.5L1061.2 420.5L1061.2 422.5L1095.7 422.5L1095.7 424L1130.2 424L1130.2 424.5L1164.7 424.5L1164.7 424.5L1199.2 424.5" stroke="#30990a" stroke-width="2" fill="none" stroke-dasharray="4 2.8" stroke-linejoin="miter"/>
<path d="M716.5 426.2L750.7 426.2L750.7 411.75L785.2 411.75L785.2 270.2L819.7 270.2L819.7 315.9L854.2 315.9L854.2 284.7L888.7 284.7L888.7 329.8L923.2 329.8L923.2 379.7L957.7 379.7L957.7 402.5L992.2 402.5L992.2 414.5L1026.7 414.5L1026.7 421L1061.2 421L1061.2 422.7L1095.7 422.7L1095.7 424L1130.2 424L1130.2 424.5L1164.7 424.5L1164.7 424.5L1199.2 424.5" stroke="#ff0000" stroke-width="2" fill="none" stroke-dasharray="3.9 3.9 1.5 3.7" stroke-linejoin="miter"/>
<line x1="768.67" y1="407.6" x2="768.67" y2="409.6" stroke="#000099" stroke-width="1.6" stroke-dasharray="1.3 2.0"/>
<line x1="803.17" y1="218.9" x2="803.17" y2="226.9" stroke="#000099" stroke-width="1.6" stroke-dasharray="1.3 2.0"/>
<line x1="837.67" y1="280" x2="837.67" y2="286" stroke="#000099" stroke-width="1.6" stroke-dasharray="1.3 2.0"/>
<line x1="872.17" y1="251.1" x2="872.17" y2="257.1" stroke="#000099" stroke-width="1.6" stroke-dasharray="1.3 2.0"/>
<line x1="906.67" y1="310.2" x2="906.67" y2="314.2" stroke="#000099" stroke-width="1.6" stroke-dasharray="1.3 2.0"/>
<line x1="941.17" y1="371.9" x2="941.17" y2="373.9" stroke="#000099" stroke-width="1.6" stroke-dasharray="1.3 2.0"/>
<line x1="768.67" y1="410.75" x2="768.67" y2="412.75" stroke="#30990a" stroke-width="1.6"/>
<line x1="803.17" y1="252.8" x2="803.17" y2="260.8" stroke="#30990a" stroke-width="1.6"/>
<line x1="837.67" y1="304.8" x2="837.67" y2="310.8" stroke="#30990a" stroke-width="1.6"/>
<line x1="872.17" y1="266.1" x2="872.17" y2="272.1" stroke="#30990a" stroke-width="1.6"/>
<line x1="906.67" y1="316.25" x2="906.67" y2="320.25" stroke="#30990a" stroke-width="1.6"/>
<line x1="941.17" y1="373.7" x2="941.17" y2="375.7" stroke="#30990a" stroke-width="1.6"/>
<line x1="768.67" y1="410.75" x2="768.67" y2="412.75" stroke="#ff0000" stroke-width="1.6"/>
<line x1="803.17" y1="266.2" x2="803.17" y2="274.2" stroke="#ff0000" stroke-width="1.6"/>
<line x1="837.67" y1="312.9" x2="837.67" y2="318.9" stroke="#ff0000" stroke-width="1.6"/>
<line x1="872.17" y1="281.7" x2="872.17" y2="287.7" stroke="#ff0000" stroke-width="1.6"/>
<line x1="906.67" y1="327.8" x2="906.67" y2="331.8" stroke="#ff0000" stroke-width="1.6"/>
<line x1="941.17" y1="378.7" x2="941.17" y2="380.7" stroke="#ff0000" stroke-width="1.6"/>
</g>
<circle cx="768.67" cy="409.5" r="4.6" fill="#000099"/>
<circle cx="768.67" cy="416" r="4.4" fill="none" stroke="#30990a" stroke-width="1.4"/>
<path d="M764.17 410.18L773.17 410.18L768.67 419Z" stroke="#ff0000" stroke-width="1.4" fill="none" stroke-linejoin="miter"/>
<circle cx="803.17" cy="245.8" r="4.6" fill="#000099"/>
<circle cx="803.17" cy="305.4" r="4.4" fill="none" stroke="#30990a" stroke-width="1.4"/>
<path d="M798.67 293.78L807.67 293.78L803.17 302.6Z" stroke="#ff0000" stroke-width="1.4" fill="none" stroke-linejoin="miter"/>
<circle cx="837.67" cy="306" r="4.6" fill="#000099"/>
<circle cx="837.67" cy="344.8" r="4.4" fill="none" stroke="#30990a" stroke-width="1.4"/>
<path d="M833.17 336.83L842.17 336.83L837.67 345.65Z" stroke="#ff0000" stroke-width="1.4" fill="none" stroke-linejoin="miter"/>
<circle cx="872.17" cy="253.7" r="4.6" fill="#000099"/>
<circle cx="872.17" cy="303" r="4.4" fill="none" stroke="#30990a" stroke-width="1.4"/>
<path d="M867.67 291.58L876.67 291.58L872.17 300.4Z" stroke="#ff0000" stroke-width="1.4" fill="none" stroke-linejoin="miter"/>
<circle cx="906.67" cy="309.6" r="4.6" fill="#000099"/>
<circle cx="906.67" cy="340.8" r="4.4" fill="none" stroke="#30990a" stroke-width="1.4"/>
<path d="M902.17 331.33L911.17 331.33L906.67 340.15Z" stroke="#ff0000" stroke-width="1.4" fill="none" stroke-linejoin="miter"/>
<circle cx="941.17" cy="374.2" r="4.6" fill="#000099"/>
<circle cx="941.17" cy="387.4" r="4.4" fill="none" stroke="#30990a" stroke-width="1.4"/>
<path d="M936.67 381.78L945.67 381.78L941.17 390.6Z" stroke="#ff0000" stroke-width="1.4" fill="none" stroke-linejoin="miter"/>
<circle cx="975.67" cy="401.7" r="4.6" fill="#000099"/>
<circle cx="975.67" cy="407.3" r="4.4" fill="none" stroke="#30990a" stroke-width="1.4"/>
<path d="M971.17 401.58L980.17 401.58L975.67 410.4Z" stroke="#ff0000" stroke-width="1.4" fill="none" stroke-linejoin="miter"/>
<circle cx="1010.17" cy="414.3" r="4.6" fill="#000099"/>
<circle cx="1010.17" cy="417.6" r="4.4" fill="none" stroke="#30990a" stroke-width="1.4"/>
<path d="M1005.67 413.08L1014.67 413.08L1010.17 421.9Z" stroke="#ff0000" stroke-width="1.4" fill="none" stroke-linejoin="miter"/>
<circle cx="1044.67" cy="420.5" r="4.6" fill="#000099"/>
<circle cx="1044.67" cy="422" r="4.4" fill="none" stroke="#30990a" stroke-width="1.4"/>
<path d="M1040.17 418.08L1049.17 418.08L1044.67 426.9Z" stroke="#ff0000" stroke-width="1.4" fill="none" stroke-linejoin="miter"/>
<circle cx="1079.17" cy="422.5" r="4.6" fill="#000099"/>
<circle cx="1079.17" cy="423.5" r="4.4" fill="none" stroke="#30990a" stroke-width="1.4"/>
<path d="M1074.67 419.58L1083.67 419.58L1079.17 428.4Z" stroke="#ff0000" stroke-width="1.4" fill="none" stroke-linejoin="miter"/>
<circle cx="1113.67" cy="425.4" r="4.6" fill="#000099"/>
<circle cx="1113.67" cy="425.4" r="4.4" fill="none" stroke="#30990a" stroke-width="1.4"/>
<path d="M1109.17 421.98L1118.17 421.98L1113.67 430.8Z" stroke="#ff0000" stroke-width="1.4" fill="none" stroke-linejoin="miter"/>
<circle cx="1148.17" cy="425.4" r="4.6" fill="#000099"/>
<circle cx="1148.17" cy="425.4" r="4.4" fill="none" stroke="#30990a" stroke-width="1.4"/>
<path d="M1143.67 421.98L1152.67 421.98L1148.17 430.8Z" stroke="#ff0000" stroke-width="1.4" fill="none" stroke-linejoin="miter"/>
<circle cx="1182.67" cy="425.4" r="4.6" fill="#000099"/>
<circle cx="1182.67" cy="425.4" r="4.4" fill="none" stroke="#30990a" stroke-width="1.4"/>
<path d="M1178.17 421.98L1187.17 421.98L1182.67 430.8Z" stroke="#ff0000" stroke-width="1.4" fill="none" stroke-linejoin="miter"/>
<line x1="716.5" y1="544.5" x2="725.2" y2="544.5" stroke="#262626" stroke-width="1.5"/>
<line x1="1199.5" y1="544.5" x2="1190.8" y2="544.5" stroke="#262626" stroke-width="1.5"/>
<line x1="716.5" y1="521.5" x2="725.2" y2="521.5" stroke="#262626" stroke-width="1.5"/>
<line x1="1199.5" y1="521.5" x2="1190.8" y2="521.5" stroke="#262626" stroke-width="1.5"/>
<line x1="716.5" y1="510.5" x2="725.2" y2="510.5" stroke="#262626" stroke-width="1.5"/>
<line x1="1199.5" y1="510.5" x2="1190.8" y2="510.5" stroke="#262626" stroke-width="1.5"/>
<line x1="716.5" y1="499.5" x2="725.2" y2="499.5" stroke="#262626" stroke-width="1.5"/>
<line x1="1199.5" y1="499.5" x2="1190.8" y2="499.5" stroke="#262626" stroke-width="1.5"/>
<line x1="716.5" y1="488.5" x2="725.2" y2="488.5" stroke="#262626" stroke-width="1.5"/>
<line x1="1199.5" y1="488.5" x2="1190.8" y2="488.5" stroke="#262626" stroke-width="1.5"/>
<line x1="716.5" y1="466.5" x2="725.2" y2="466.5" stroke="#262626" stroke-width="1.5"/>
<line x1="1199.5" y1="466.5" x2="1190.8" y2="466.5" stroke="#262626" stroke-width="1.5"/>
<line x1="716.5" y1="455.5" x2="725.2" y2="455.5" stroke="#262626" stroke-width="1.5"/>
<line x1="1199.5" y1="455.5" x2="1190.8" y2="455.5" stroke="#262626" stroke-width="1.5"/>
<line x1="716.5" y1="444.5" x2="725.2" y2="444.5" stroke="#262626" stroke-width="1.5"/>
<line x1="1199.5" y1="444.5" x2="1190.8" y2="444.5" stroke="#262626" stroke-width="1.5"/>
<line x1="716.5" y1="532.5" x2="733.5" y2="532.5" stroke="#262626" stroke-width="1.5"/>
<line x1="1199.5" y1="532.5" x2="1182.5" y2="532.5" stroke="#262626" stroke-width="1.5"/>
<line x1="716.5" y1="477.5" x2="733.5" y2="477.5" stroke="#262626" stroke-width="1.5"/>
<line x1="1199.5" y1="477.5" x2="1182.5" y2="477.5" stroke="#262626" stroke-width="1.5"/>
<g transform="translate(702.3 487)"><path d="M10 0L7.64 0L7.64 -15.01C7.07 -14.46 6.32 -13.91 5.4 -13.36C4.49 -12.81 3.66 -12.39 2.92 -12.1L2.92 -14.38C4.21 -15 5.35 -15.74 6.33 -16.62C7.32 -17.5 8.01 -18.35 8.41 -19.18L10 -19.18Z" fill="#000" stroke="#000" stroke-width="0.3"/></g>
<g transform="translate(676.17 542.5)"><text xml:space="preserve" x="0" y="0" font-size="26.8" font-family='"Liberation Sans", sans-serif'>0.5</text></g>
<line x1="782.5" y1="553.7" x2="782.5" y2="551.7" stroke="#262626" stroke-width="1.5"/>
<line x1="782.5" y1="434.5" x2="782.5" y2="436.5" stroke="#262626" stroke-width="1.5"/>
<line x1="866.5" y1="553.7" x2="866.5" y2="551.7" stroke="#262626" stroke-width="1.5"/>
<line x1="866.5" y1="434.5" x2="866.5" y2="436.5" stroke="#262626" stroke-width="1.5"/>
<line x1="925.5" y1="553.7" x2="925.5" y2="551.7" stroke="#262626" stroke-width="1.5"/>
<line x1="925.5" y1="434.5" x2="925.5" y2="436.5" stroke="#262626" stroke-width="1.5"/>
<line x1="971.5" y1="553.7" x2="971.5" y2="551.7" stroke="#262626" stroke-width="1.5"/>
<line x1="971.5" y1="434.5" x2="971.5" y2="436.5" stroke="#262626" stroke-width="1.5"/>
<line x1="1009.5" y1="553.7" x2="1009.5" y2="551.7" stroke="#262626" stroke-width="1.5"/>
<line x1="1009.5" y1="434.5" x2="1009.5" y2="436.5" stroke="#262626" stroke-width="1.5"/>
<line x1="1041.5" y1="553.7" x2="1041.5" y2="551.7" stroke="#262626" stroke-width="1.5"/>
<line x1="1041.5" y1="434.5" x2="1041.5" y2="436.5" stroke="#262626" stroke-width="1.5"/>
<line x1="1068.5" y1="553.7" x2="1068.5" y2="551.7" stroke="#262626" stroke-width="1.5"/>
<line x1="1068.5" y1="434.5" x2="1068.5" y2="436.5" stroke="#262626" stroke-width="1.5"/>
<line x1="1093.5" y1="553.7" x2="1093.5" y2="551.7" stroke="#262626" stroke-width="1.5"/>
<line x1="1093.5" y1="434.5" x2="1093.5" y2="436.5" stroke="#262626" stroke-width="1.5"/>
<line x1="1114.5" y1="553.7" x2="1114.5" y2="550.2" stroke="#262626" stroke-width="1.5"/>
<line x1="1114.5" y1="434.5" x2="1114.5" y2="438" stroke="#262626" stroke-width="1.5"/>
<line x1="716.5" y1="477.4" x2="1199.5" y2="477.4" stroke="#000000" stroke-width="1.6" stroke-dasharray="3.4 3.06"/>
<rect x="716.5" y="434.5" width="483" height="119.2" fill="none" stroke="#262626" stroke-width="1.7"/>
<g clip-path="url(#cb1)">
<circle cx="768.67" cy="485.6" r="4.6" fill="#000099"/>
<circle cx="803.17" cy="489.4" r="4.6" fill="#000099"/>
<circle cx="837.67" cy="495.2" r="4.6" fill="#000099"/>
<circle cx="872.17" cy="476.8" r="4.6" fill="#000099"/>
<circle cx="906.67" cy="474.5" r="4.6" fill="#000099"/>
<circle cx="941.17" cy="480.6" r="4.6" fill="#000099"/>
<circle cx="975.67" cy="487.5" r="4.6" fill="#000099"/>
<circle cx="1010.17" cy="492.5" r="4.6" fill="#000099"/>
<circle cx="1044.67" cy="499" r="4.6" fill="#000099"/>
<circle cx="1079.17" cy="499" r="4.6" fill="#000099"/>
<circle cx="1113.67" cy="502" r="4.6" fill="#000099"/>
<line x1="1148.17" y1="505.4" x2="1148.17" y2="509.4" stroke="#000099" stroke-width="1.8"/>
<circle cx="1148.17" cy="507.4" r="4.6" fill="#000099"/>
<line x1="1182.67" y1="508.1" x2="1182.67" y2="522.1" stroke="#000099" stroke-width="1.8"/>
<circle cx="1182.67" cy="515.1" r="4.6" fill="#000099"/>
<circle cx="768.67" cy="504.7" r="4.4" fill="none" stroke="#30990a" stroke-width="1.4"/>
<circle cx="803.17" cy="509.3" r="4.4" fill="none" stroke="#30990a" stroke-width="1.4"/>
<circle cx="837.67" cy="511.6" r="4.4" fill="none" stroke="#30990a" stroke-width="1.4"/>
<circle cx="872.17" cy="500.9" r="4.4" fill="none" stroke="#30990a" stroke-width="1.4"/>
<circle cx="906.67" cy="500.1" r="4.4" fill="none" stroke="#30990a" stroke-width="1.4"/>
<circle cx="941.17" cy="505.5" r="4.4" fill="none" stroke="#30990a" stroke-width="1.4"/>
<circle cx="975.67" cy="507.8" r="4.4" fill="none" stroke="#30990a" stroke-width="1.4"/>
<circle cx="1010.17" cy="510.9" r="4.4" fill="none" stroke="#30990a" stroke-width="1.4"/>
<circle cx="1044.67" cy="514.3" r="4.4" fill="none" stroke="#30990a" stroke-width="1.4"/>
<circle cx="1079.17" cy="511.6" r="4.4" fill="none" stroke="#30990a" stroke-width="1.4"/>
<circle cx="1113.67" cy="511.3" r="4.4" fill="none" stroke="#30990a" stroke-width="1.4"/>
<line x1="1148.17" y1="516.5" x2="1148.17" y2="520.5" stroke="#30990a" stroke-width="1.8"/>
<circle cx="1148.17" cy="518.5" r="4.4" fill="none" stroke="#30990a" stroke-width="1.4"/>
<line x1="1182.67" y1="514.3" x2="1182.67" y2="524.3" stroke="#30990a" stroke-width="1.8"/>
<circle cx="1182.67" cy="519.3" r="4.4" fill="none" stroke="#30990a" stroke-width="1.4"/>
<path d="M764.17 493.68L773.17 493.68L768.67 502.5Z" stroke="#ff0000" stroke-width="1.4" fill="none" stroke-linejoin="miter"/>
<path d="M798.67 491.78L807.67 491.78L803.17 500.6Z" stroke="#ff0000" stroke-width="1.4" fill="none" stroke-linejoin="miter"/>
<path d="M833.17 497.48L842.17 497.48L837.67 506.3Z" stroke="#ff0000" stroke-width="1.4" fill="none" stroke-linejoin="miter"/>
<path d="M867.67 481.38L876.67 481.38L872.17 490.2Z" stroke="#ff0000" stroke-width="1.4" fill="none" stroke-linejoin="miter"/>
<path d="M902.17 479.08L911.17 479.08L906.67 487.9Z" stroke="#ff0000" stroke-width="1.4" fill="none" stroke-linejoin="miter"/>
<path d="M936.67 485.98L945.67 485.98L941.17 494.8Z" stroke="#ff0000" stroke-width="1.4" fill="none" stroke-linejoin="miter"/>
<path d="M971.17 490.58L980.17 490.58L975.67 499.4Z" stroke="#ff0000" stroke-width="1.4" fill="none" stroke-linejoin="miter"/>
<path d="M1005.67 498.28L1014.67 498.28L1010.17 507.1Z" stroke="#ff0000" stroke-width="1.4" fill="none" stroke-linejoin="miter"/>
<path d="M1040.17 506.28L1049.17 506.28L1044.67 515.1Z" stroke="#ff0000" stroke-width="1.4" fill="none" stroke-linejoin="miter"/>
<path d="M1074.67 507.08L1083.67 507.08L1079.17 515.9Z" stroke="#ff0000" stroke-width="1.4" fill="none" stroke-linejoin="miter"/>
<path d="M1109.17 505.18L1118.17 505.18L1113.67 514Z" stroke="#ff0000" stroke-width="1.4" fill="none" stroke-linejoin="miter"/>
<line x1="1148.17" y1="514.2" x2="1148.17" y2="518.2" stroke="#ff0000" stroke-width="1.8"/>
<path d="M1143.67 512.78L1152.67 512.78L1148.17 521.6Z" stroke="#ff0000" stroke-width="1.4" fill="none" stroke-linejoin="miter"/>
<line x1="1182.67" y1="509.2" x2="1182.67" y2="523.2" stroke="#ff0000" stroke-width="1.8"/>
<path d="M1178.17 512.78L1187.17 512.78L1182.67 521.6Z" stroke="#ff0000" stroke-width="1.4" fill="none" stroke-linejoin="miter"/>
</g>
<line x1="716.5" y1="673.5" x2="721.5" y2="673.5" stroke="#262626" stroke-width="1.5"/>
<line x1="1199.5" y1="673.5" x2="1194.5" y2="673.5" stroke="#262626" stroke-width="1.5"/>
<line x1="716.5" y1="661.5" x2="721.5" y2="661.5" stroke="#262626" stroke-width="1.5"/>
<line x1="1199.5" y1="661.5" x2="1194.5" y2="661.5" stroke="#262626" stroke-width="1.5"/>
<line x1="716.5" y1="650.5" x2="721.5" y2="650.5" stroke="#262626" stroke-width="1.5"/>
<line x1="1199.5" y1="650.5" x2="1194.5" y2="650.5" stroke="#262626" stroke-width="1.5"/>
<line x1="716.5" y1="626.5" x2="721.5" y2="626.5" stroke="#262626" stroke-width="1.5"/>
<line x1="1199.5" y1="626.5" x2="1194.5" y2="626.5" stroke="#262626" stroke-width="1.5"/>
<line x1="716.5" y1="614.5" x2="721.5" y2="614.5" stroke="#262626" stroke-width="1.5"/>
<line x1="1199.5" y1="614.5" x2="1194.5" y2="614.5" stroke="#262626" stroke-width="1.5"/>
<line x1="716.5" y1="603.5" x2="721.5" y2="603.5" stroke="#262626" stroke-width="1.5"/>
<line x1="1199.5" y1="603.5" x2="1194.5" y2="603.5" stroke="#262626" stroke-width="1.5"/>
<line x1="716.5" y1="579.5" x2="721.5" y2="579.5" stroke="#262626" stroke-width="1.5"/>
<line x1="1199.5" y1="579.5" x2="1194.5" y2="579.5" stroke="#262626" stroke-width="1.5"/>
<line x1="716.5" y1="567.5" x2="721.5" y2="567.5" stroke="#262626" stroke-width="1.5"/>
<line x1="1199.5" y1="567.5" x2="1194.5" y2="567.5" stroke="#262626" stroke-width="1.5"/>
<line x1="716.5" y1="685.5" x2="726.5" y2="685.5" stroke="#262626" stroke-width="1.5"/>
<line x1="1199.5" y1="685.5" x2="1189.5" y2="685.5" stroke="#262626" stroke-width="1.5"/>
<line x1="716.5" y1="638.5" x2="726.5" y2="638.5" stroke="#262626" stroke-width="1.5"/>
<line x1="1199.5" y1="638.5" x2="1189.5" y2="638.5" stroke="#262626" stroke-width="1.5"/>
<line x1="716.5" y1="591.5" x2="726.5" y2="591.5" stroke="#262626" stroke-width="1.5"/>
<line x1="1199.5" y1="591.5" x2="1189.5" y2="591.5" stroke="#262626" stroke-width="1.5"/>
<g transform="translate(702.3 601)"><path d="M10 0L7.64 0L7.64 -15.01C7.07 -14.46 6.32 -13.91 5.4 -13.36C4.49 -12.81 3.66 -12.39 2.92 -12.1L2.92 -14.38C4.21 -15 5.35 -15.74 6.33 -16.62C7.32 -17.5 8.01 -18.35 8.41 -19.18L10 -19.18Z" fill="#000" stroke="#000" stroke-width="0.3"/></g>
<g transform="translate(676.21 648)"><text xml:space="preserve" x="0" y="0" font-size="26.8" font-family='"Liberation Sans", sans-serif'>0.8</text></g>
<g transform="translate(676.22 695)"><text xml:space="preserve" x="0" y="0" font-size="26.8" font-family='"Liberation Sans", sans-serif'>0.6</text></g>
<line x1="782.5" y1="685.2" x2="782.5" y2="682.7" stroke="#262626" stroke-width="1.5"/>
<line x1="782.5" y1="561.8" x2="782.5" y2="564.3" stroke="#262626" stroke-width="1.5"/>
<line x1="866.5" y1="685.2" x2="866.5" y2="682.7" stroke="#262626" stroke-width="1.5"/>
<line x1="866.5" y1="561.8" x2="866.5" y2="564.3" stroke="#262626" stroke-width="1.5"/>
<line x1="925.5" y1="685.2" x2="925.5" y2="682.7" stroke="#262626" stroke-width="1.5"/>
<line x1="925.5" y1="561.8" x2="925.5" y2="564.3" stroke="#262626" stroke-width="1.5"/>
<line x1="971.5" y1="685.2" x2="971.5" y2="682.7" stroke="#262626" stroke-width="1.5"/>
<line x1="971.5" y1="561.8" x2="971.5" y2="564.3" stroke="#262626" stroke-width="1.5"/>
<line x1="1009.5" y1="685.2" x2="1009.5" y2="682.7" stroke="#262626" stroke-width="1.5"/>
<line x1="1009.5" y1="561.8" x2="1009.5" y2="564.3" stroke="#262626" stroke-width="1.5"/>
<line x1="1041.5" y1="685.2" x2="1041.5" y2="682.7" stroke="#262626" stroke-width="1.5"/>
<line x1="1041.5" y1="561.8" x2="1041.5" y2="564.3" stroke="#262626" stroke-width="1.5"/>
<line x1="1068.5" y1="685.2" x2="1068.5" y2="682.7" stroke="#262626" stroke-width="1.5"/>
<line x1="1068.5" y1="561.8" x2="1068.5" y2="564.3" stroke="#262626" stroke-width="1.5"/>
<line x1="1093.5" y1="685.2" x2="1093.5" y2="682.7" stroke="#262626" stroke-width="1.5"/>
<line x1="1093.5" y1="561.8" x2="1093.5" y2="564.3" stroke="#262626" stroke-width="1.5"/>
<line x1="1114.5" y1="685.2" x2="1114.5" y2="680.2" stroke="#262626" stroke-width="1.5"/>
<line x1="1114.5" y1="561.8" x2="1114.5" y2="566.8" stroke="#262626" stroke-width="1.5"/>
<line x1="716.5" y1="591.4" x2="1199.5" y2="591.4" stroke="#000000" stroke-width="1.6" stroke-dasharray="3.4 3.06"/>
<rect x="716.5" y="561.8" width="483" height="123.4" fill="none" stroke="#262626" stroke-width="1.7"/>
<g clip-path="url(#cb2)">
<path d="M716.5 685.2L750.7 685.2L750.7 630.9L785.2 630.9L785.2 629.8L819.7 629.8L819.7 631.3L854.2 631.3L854.2 611.7L888.7 611.7L888.7 603.3L923.2 603.3L923.2 599.5L957.7 599.5L957.7 598.7L992.2 598.7L992.2 596.4L1026.7 596.4L1026.7 595.3L1061.2 595.3L1061.2 593.7L1095.7 593.7L1095.7 593.3L1130.2 593.3L1130.2 593L1164.7 593L1164.7 593L1199.2 593" stroke="#30990a" stroke-width="2" fill="none" stroke-dasharray="4 2.8" stroke-linejoin="miter"/>
<path d="M716.5 685.2L750.7 685.2L750.7 637.8L785.2 637.8L785.2 645.1L819.7 645.1L819.7 644.3L854.2 644.3L854.2 632.8L888.7 632.8L888.7 627.8L923.2 627.8L923.2 622.5L957.7 622.5L957.7 618.3L992.2 618.3L992.2 607.9L1026.7 607.9L1026.7 597.2L1061.2 597.2L1061.2 588.4L1095.7 588.4L1095.7 590.3L1130.2 590.3L1130.2 588.4L1164.7 588.4L1164.7 590.7L1199.2 590.7" stroke="#ff0000" stroke-width="2" fill="none" stroke-dasharray="3.9 3.9 1.5 3.7" stroke-linejoin="miter"/>
<line x1="768.67" y1="629.8" x2="768.67" y2="645.8" stroke="#ff0000" stroke-width="1.7" stroke-dasharray="3.9 3.9 1.5 3.7"/>
<line x1="803.17" y1="640.1" x2="803.17" y2="650.1" stroke="#ff0000" stroke-width="1.7" stroke-dasharray="3.9 3.9 1.5 3.7"/>
<line x1="837.67" y1="639.3" x2="837.67" y2="649.3" stroke="#ff0000" stroke-width="1.7" stroke-dasharray="3.9 3.9 1.5 3.7"/>
<line x1="872.17" y1="627.8" x2="872.17" y2="637.8" stroke="#ff0000" stroke-width="1.7" stroke-dasharray="3.9 3.9 1.5 3.7"/>
<line x1="906.67" y1="622.8" x2="906.67" y2="632.8" stroke="#ff0000" stroke-width="1.7" stroke-dasharray="3.9 3.9 1.5 3.7"/>
<line x1="941.17" y1="617.5" x2="941.17" y2="627.5" stroke="#ff0000" stroke-width="1.7" stroke-dasharray="3.9 3.9 1.5 3.7"/>
<line x1="975.67" y1="613.3" x2="975.67" y2="623.3" stroke="#ff0000" stroke-width="1.7" stroke-dasharray="3.9 3.9 1.5 3.7"/>
<line x1="1010.17" y1="600.9" x2="1010.17" y2="614.9" stroke="#ff0000" stroke-width="1.7" stroke-dasharray="3.9 3.9 1.5 3.7"/>
<line x1="1044.67" y1="591.2" x2="1044.67" y2="603.2" stroke="#ff0000" stroke-width="1.7" stroke-dasharray="3.9 3.9 1.5 3.7"/>
<line x1="1079.17" y1="583.4" x2="1079.17" y2="593.4" stroke="#ff0000" stroke-width="1.7" stroke-dasharray="3.9 3.9 1.5 3.7"/>
<line x1="1113.67" y1="586.3" x2="1113.67" y2="594.3" stroke="#ff0000" stroke-width="1.7" stroke-dasharray="3.9 3.9 1.5 3.7"/>
<line x1="1148.17" y1="584.4" x2="1148.17" y2="592.4" stroke="#ff0000" stroke-width="1.7" stroke-dasharray="3.9 3.9 1.5 3.7"/>
<line x1="1182.67" y1="586.7" x2="1182.67" y2="594.7" stroke="#ff0000" stroke-width="1.7" stroke-dasharray="3.9 3.9 1.5 3.7"/>
</g>
<circle cx="768.67" cy="666.9" r="4.4" fill="none" stroke="#30990a" stroke-width="1.4"/>
<path d="M764.17 656.98L773.17 656.98L768.67 665.8Z" stroke="#ff0000" stroke-width="1.4" fill="none" stroke-linejoin="miter"/>
<circle cx="803.17" cy="668.1" r="4.4" fill="none" stroke="#30990a" stroke-width="1.4"/>
<path d="M798.67 654.68L807.67 654.68L803.17 663.5Z" stroke="#ff0000" stroke-width="1.4" fill="none" stroke-linejoin="miter"/>
<circle cx="837.67" cy="666.6" r="4.4" fill="none" stroke="#30990a" stroke-width="1.4"/>
<path d="M833.17 653.98L842.17 653.98L837.67 662.8Z" stroke="#ff0000" stroke-width="1.4" fill="none" stroke-linejoin="miter"/>
<circle cx="872.17" cy="657.4" r="4.4" fill="none" stroke="#30990a" stroke-width="1.4"/>
<path d="M867.67 643.98L876.67 643.98L872.17 652.8Z" stroke="#ff0000" stroke-width="1.4" fill="none" stroke-linejoin="miter"/>
<circle cx="906.67" cy="652.8" r="4.4" fill="none" stroke="#30990a" stroke-width="1.4"/>
<path d="M902.17 639.38L911.17 639.38L906.67 648.2Z" stroke="#ff0000" stroke-width="1.4" fill="none" stroke-linejoin="miter"/>
<circle cx="941.17" cy="651.2" r="4.4" fill="none" stroke="#30990a" stroke-width="1.4"/>
<path d="M936.67 637.88L945.67 637.88L941.17 646.7Z" stroke="#ff0000" stroke-width="1.4" fill="none" stroke-linejoin="miter"/>
<circle cx="975.67" cy="644.7" r="4.4" fill="none" stroke="#30990a" stroke-width="1.4"/>
<path d="M971.17 630.18L980.17 630.18L975.67 639Z" stroke="#ff0000" stroke-width="1.4" fill="none" stroke-linejoin="miter"/>
<circle cx="1010.17" cy="640.1" r="4.4" fill="none" stroke="#30990a" stroke-width="1.4"/>
<path d="M1005.67 626.68L1014.67 626.68L1010.17 635.5Z" stroke="#ff0000" stroke-width="1.4" fill="none" stroke-linejoin="miter"/>
<circle cx="1044.67" cy="632.4" r="4.4" fill="none" stroke="#30990a" stroke-width="1.4"/>
<path d="M1040.17 621.78L1049.17 621.78L1044.67 630.6Z" stroke="#ff0000" stroke-width="1.4" fill="none" stroke-linejoin="miter"/>
<circle cx="1079.17" cy="627.5" r="4.4" fill="none" stroke="#30990a" stroke-width="1.4"/>
<path d="M1074.67 616.78L1083.67 616.78L1079.17 625.6Z" stroke="#ff0000" stroke-width="1.4" fill="none" stroke-linejoin="miter"/>
<circle cx="1113.67" cy="616" r="4.4" fill="none" stroke="#30990a" stroke-width="1.4"/>
<path d="M1109.17 606.38L1118.17 606.38L1113.67 615.2Z" stroke="#ff0000" stroke-width="1.4" fill="none" stroke-linejoin="miter"/>
<line x1="1148.17" y1="622.5" x2="1148.17" y2="628.5" stroke="#30990a" stroke-width="1.8"/>
<line x1="1148.17" y1="612.6" x2="1148.17" y2="618.6" stroke="#ff0000" stroke-width="1.8"/>
<circle cx="1148.17" cy="625.5" r="4.4" fill="none" stroke="#30990a" stroke-width="1.4"/>
<path d="M1143.67 612.18L1152.67 612.18L1148.17 621Z" stroke="#ff0000" stroke-width="1.4" fill="none" stroke-linejoin="miter"/>
<line x1="1182.67" y1="602.3" x2="1182.67" y2="614.3" stroke="#30990a" stroke-width="1.8"/>
<line x1="1182.67" y1="591.6" x2="1182.67" y2="603.6" stroke="#ff0000" stroke-width="1.8"/>
<circle cx="1182.67" cy="608.3" r="4.4" fill="none" stroke="#30990a" stroke-width="1.4"/>
<path d="M1178.17 594.18L1187.17 594.18L1182.67 603Z" stroke="#ff0000" stroke-width="1.4" fill="none" stroke-linejoin="miter"/>
<g transform="translate(767.84 719)"><text xml:space="preserve" x="0" y="0" font-size="26.8" font-family='"Liberation Sans", sans-serif'>20</text></g>
<g transform="translate(851.62 719)"><text xml:space="preserve" x="0" y="0" font-size="26.8" font-family='"Liberation Sans", sans-serif'>30</text></g>
<g transform="translate(911.14 719)"><text xml:space="preserve" x="0" y="0" font-size="26.8" font-family='"Liberation Sans", sans-serif'>40</text></g>
<g transform="translate(956.92 719)"><text xml:space="preserve" x="0" y="0" font-size="26.8" font-family='"Liberation Sans", sans-serif'>50</text></g>
<g transform="translate(994.38 719)"><text xml:space="preserve" x="0" y="0" font-size="26.8" font-family='"Liberation Sans", sans-serif'>60</text></g>
<g transform="translate(1094.76 719) scale(0.9983 1)"><path d="M10 0L7.64 0L7.64 -15.01C7.07 -14.46 6.32 -13.91 5.4 -13.36C4.49 -12.81 3.66 -12.39 2.92 -12.1L2.92 -14.38C4.21 -15 5.35 -15.74 6.33 -16.62C7.32 -17.5 8.01 -18.35 8.41 -19.18L10 -19.18Z" fill="#000" stroke="#000" stroke-width="0.3"/><text xml:space="preserve" x="14.9" y="0" font-size="26.8" font-family='"Liberation Sans", sans-serif'>0</text></g>
<g transform="translate(1123.74 706.8) scale(1.0536 1)"><text xml:space="preserve" x="0" y="0" font-size="17.5" font-family='"Liberation Sans", sans-serif'>2</text></g>
<g transform="translate(1067.11 748) scale(0.9671 1)"><text xml:space="preserve" x="0" y="0" font-size="25.6" font-family='"Liberation Sans", sans-serif'>Jet p</text></g>
<g transform="translate(1120.37 760.75) scale(1.0039 1)"><text xml:space="preserve" x="0" y="0" font-size="17" font-family='"Liberation Sans", sans-serif'>T</text></g>
<g transform="translate(1137.14 748) scale(0.9644 1)"><text xml:space="preserve" x="0" y="0" font-size="25.6" font-family='"Liberation Sans", sans-serif'>[GeV]</text></g>
<text x="646.5" y="104.52" font-size="24.3" font-family='"Liberation Sans", sans-serif' textLength="75.41" lengthAdjust="spacingAndGlyphs" transform="rotate(-90 646.5 104.52)">Events</text>
<text x="664.5" y="543.73" font-size="25.3" font-family='"Liberation Sans", sans-serif' textLength="111.37" lengthAdjust="spacingAndGlyphs" transform="rotate(-90 664.5 543.73)">Data / MC</text>
<text x="665.8" y="691.74" font-size="25.3" font-family='"Liberation Sans", sans-serif' textLength="130.72" lengthAdjust="spacingAndGlyphs" transform="rotate(-90 665.8 691.74)">Cut / No-cut</text>
<g transform="translate(715.06 26.3) scale(1.0243 1)"><path d="M1.7 -13.35L13.95 -0.79M1.7 -0.79L13.95 -13.35" stroke="#000" stroke-width="1.25" fill="none"/></g>
<g transform="translate(730.19 26.3) scale(0.9983 1)"><path d="M10 0L7.64 0L7.64 -15.01C7.07 -14.46 6.32 -13.91 5.4 -13.36C4.49 -12.81 3.66 -12.39 2.92 -12.1L2.92 -14.38C4.21 -15 5.35 -15.74 6.33 -16.62C7.32 -17.5 8.01 -18.35 8.41 -19.18L10 -19.18Z" fill="#000" stroke="#000" stroke-width="0.3"/><text xml:space="preserve" x="14.9" y="0" font-size="26.8" font-family='"Liberation Sans", sans-serif'>0</text></g>
<g transform="translate(758.93 13.3) scale(1.0952 1)"><text xml:space="preserve" x="0" y="0" font-size="17" font-family='"Liberation Sans", sans-serif'>9</text></g>
<g transform="translate(740.91 59.3) scale(0.9526 1)"><text xml:space="preserve" x="0" y="0" font-size="31.4" font-family='"Liberation Sans", sans-serif' font-weight="bold" font-style="italic">ATLAS</text></g>
<path d="M743.8 79.5L747.4 92.3L750.3 71.6L764.5 71.6" stroke="#000000" stroke-width="1.3" fill="none"/>
<g transform="translate(753.05 92) scale(0.9699 1)"><text xml:space="preserve" x="0" y="0" font-size="24.2" font-family='"Liberation Sans", sans-serif'>s= </text><path d="M41.98 0L39.86 0L39.86 -13.55C39.34 -13.06 38.66 -12.56 37.84 -12.06C37.01 -11.57 36.26 -11.19 35.59 -10.93L35.59 -12.99C36.76 -13.54 37.79 -14.22 38.68 -15.01C39.56 -15.8 40.19 -16.57 40.55 -17.32L41.98 -17.32Z" fill="#000" stroke="#000" stroke-width="0.3"/><text xml:space="preserve" x="46.41" y="0" font-size="24.2" font-family='"Liberation Sans", sans-serif'>3 TeV, L</text></g>
<g transform="translate(885.42 102.2) scale(0.9752 1)"><text xml:space="preserve" x="0" y="0" font-size="16.5" font-family='"Liberation Sans", sans-serif'>int</text></g>
<g transform="translate(908.72 92) scale(0.9947 1)"><text xml:space="preserve" x="0" y="0" font-size="24.2" font-family='"Liberation Sans", sans-serif'>= 7</text><path d="M43.34 0L41.22 0L41.22 -13.55C40.7 -13.06 40.02 -12.56 39.2 -12.06C38.37 -11.57 37.62 -11.19 36.95 -10.93L36.95 -12.99C38.12 -13.54 39.15 -14.22 40.03 -15.01C40.92 -15.8 41.55 -16.57 41.91 -17.32L43.34 -17.32Z" fill="#000" stroke="#000" stroke-width="0.3"/><text xml:space="preserve" x="47.77" y="0" font-size="24.2" font-family='"Liberation Sans", sans-serif'> pb</text></g>
<g transform="translate(989.19 80.3) scale(0.9618 1)"><text xml:space="preserve" x="0" y="0" font-size="16.5" font-family='"Liberation Sans", sans-serif'>-</text><path d="M11.65 0L10.2 0L10.2 -9.24C9.85 -8.9 9.39 -8.56 8.82 -8.23C8.26 -7.89 7.75 -7.63 7.29 -7.45L7.29 -8.85C8.09 -9.23 8.79 -9.69 9.39 -10.23C10 -10.77 10.43 -11.3 10.68 -11.81L11.65 -11.81Z" fill="#000" stroke="#000" stroke-width="0.3"/></g>
<g transform="translate(740.57 124.8) scale(0.9721 1)"><text xml:space="preserve" x="0" y="0" font-size="24.2" font-family='"Liberation Sans", sans-serif'>HLT_j25</text></g>
<g transform="translate(740.95 157.4) scale(0.9766 1)"><text xml:space="preserve" x="0" y="0" font-size="24.2" font-family='"Liberation Sans", sans-serif'>Anti-</text></g>
<g transform="translate(789.14 157.4) scale(0.9045 1)"><text xml:space="preserve" x="0" y="0" font-size="24.2" font-family='"Liberation Sans", sans-serif' font-style="italic">k</text></g>
<g transform="translate(802.95 163.4) scale(1.1346 1)"><text xml:space="preserve" x="0" y="0" font-size="16.5" font-family='"Liberation Sans", sans-serif' font-style="italic">t</text></g>
<g transform="translate(815.56 157.4) scale(0.9759 1)"><text xml:space="preserve" x="0" y="0" font-size="24.2" font-family='"Liberation Sans", sans-serif'>R=0.4 EM+JES</text></g>
<line x1="921.7" y1="181.9" x2="959.5" y2="181.9" stroke="#000099" stroke-width="2" stroke-dasharray="1.3 2.0"/>
<line x1="921.7" y1="208" x2="957.9" y2="208" stroke="#30990a" stroke-width="2.4" stroke-dasharray="3.7 2.9"/>
<line x1="921.7" y1="234" x2="957.3" y2="234" stroke="#ff0000" stroke-width="2.4" stroke-dasharray="3.9 3.9 1.5 3.7"/>
<circle cx="940" cy="181.9" r="5" fill="#000099"/>
<circle cx="940" cy="208" r="4.45" fill="none" stroke="#30990a" stroke-width="1.4"/>
<path d="M935.4 229.7L944.6 229.7L940 238.72Z" stroke="#ff0000" stroke-width="1.4" fill="none" stroke-linejoin="miter"/>
<g transform="translate(971.97 185.4) scale(0.9843 1)"><text xml:space="preserve" x="0" y="0" font-size="22" font-family='"Liberation Sans", sans-serif'>No cut</text></g>
<g transform="translate(972.77 212.2) scale(0.9766 1)"><text xml:space="preserve" x="0" y="0" font-size="22" font-family='"Liberation Sans", sans-serif'>Seed Ext. cut</text></g>
<g transform="translate(972.77 237.4) scale(0.9764 1)"><text xml:space="preserve" x="0" y="0" font-size="22" font-family='"Liberation Sans", sans-serif'>Seed Ext. cut + UL 20</text></g>
<circle cx="940.4" cy="260" r="4.2" fill="none" stroke="#000000" stroke-width="1.3"/>
<g transform="translate(953.25 268.6) scale(0.9896 1)"><text xml:space="preserve" x="0" y="0" font-size="21.6" font-family='"Liberation Sans", sans-serif'>Data</text></g>
<line x1="1023.3" y1="264" x2="1041.7" y2="264" stroke="#000000" stroke-width="3.5"/>
<g transform="translate(1051.32 268.6) scale(1.0062 1)"><text xml:space="preserve" x="0" y="0" font-size="21.6" font-family='"Liberation Sans", sans-serif'>Pythia 8.230</text></g>
<g transform="translate(899.35 828.4) scale(1.0096 1)"><text xml:space="preserve" x="0" y="0" font-size="26" font-family='"Liberation Serif", serif'>(b)</text></g>
<clipPath id="cc0"><rect x="88" y="900.4" width="483" height="401.8"/></clipPath>
<clipPath id="cc1"><rect x="82" y="1305.5" width="495" height="119.2"/></clipPath>
<clipPath id="cc2"><rect x="88" y="1432.8" width="483" height="124.9"/></clipPath>
<line x1="88" y1="1288.5" x2="96.7" y2="1288.5" stroke="#262626" stroke-width="1.5"/>
<line x1="571" y1="1288.5" x2="562.3" y2="1288.5" stroke="#262626" stroke-width="1.5"/>
<line x1="88" y1="1280.5" x2="96.7" y2="1280.5" stroke="#262626" stroke-width="1.5"/>
<line x1="571" y1="1280.5" x2="562.3" y2="1280.5" stroke="#262626" stroke-width="1.5"/>
<line x1="88" y1="1271.5" x2="96.7" y2="1271.5" stroke="#262626" stroke-width="1.5"/>
<line x1="571" y1="1271.5" x2="562.3" y2="1271.5" stroke="#262626" stroke-width="1.5"/>
<line x1="88" y1="1263.5" x2="96.7" y2="1263.5" stroke="#262626" stroke-width="1.5"/>
<line x1="571" y1="1263.5" x2="562.3" y2="1263.5" stroke="#262626" stroke-width="1.5"/>
<line x1="88" y1="1246.5" x2="96.7" y2="1246.5" stroke="#262626" stroke-width="1.5"/>
<line x1="571" y1="1246.5" x2="562.3" y2="1246.5" stroke="#262626" stroke-width="1.5"/>
<line x1="88" y1="1238.5" x2="96.7" y2="1238.5" stroke="#262626" stroke-width="1.5"/>
<line x1="571" y1="1238.5" x2="562.3" y2="1238.5" stroke="#262626" stroke-width="1.5"/>
<line x1="88" y1="1229.5" x2="96.7" y2="1229.5" stroke="#262626" stroke-width="1.5"/>
<line x1="571" y1="1229.5" x2="562.3" y2="1229.5" stroke="#262626" stroke-width="1.5"/>
<line x1="88" y1="1221.5" x2="96.7" y2="1221.5" stroke="#262626" stroke-width="1.5"/>
<line x1="571" y1="1221.5" x2="562.3" y2="1221.5" stroke="#262626" stroke-width="1.5"/>
<line x1="88" y1="1204.5" x2="96.7" y2="1204.5" stroke="#262626" stroke-width="1.5"/>
<line x1="571" y1="1204.5" x2="562.3" y2="1204.5" stroke="#262626" stroke-width="1.5"/>
<line x1="88" y1="1195.5" x2="96.7" y2="1195.5" stroke="#262626" stroke-width="1.5"/>
<line x1="571" y1="1195.5" x2="562.3" y2="1195.5" stroke="#262626" stroke-width="1.5"/>
<line x1="88" y1="1187.5" x2="96.7" y2="1187.5" stroke="#262626" stroke-width="1.5"/>
<line x1="571" y1="1187.5" x2="562.3" y2="1187.5" stroke="#262626" stroke-width="1.5"/>
<line x1="88" y1="1178.5" x2="96.7" y2="1178.5" stroke="#262626" stroke-width="1.5"/>
<line x1="571" y1="1178.5" x2="562.3" y2="1178.5" stroke="#262626" stroke-width="1.5"/>
<line x1="88" y1="1161.5" x2="96.7" y2="1161.5" stroke="#262626" stroke-width="1.5"/>
<line x1="571" y1="1161.5" x2="562.3" y2="1161.5" stroke="#262626" stroke-width="1.5"/>
<line x1="88" y1="1153.5" x2="96.7" y2="1153.5" stroke="#262626" stroke-width="1.5"/>
<line x1="571" y1="1153.5" x2="562.3" y2="1153.5" stroke="#262626" stroke-width="1.5"/>
<line x1="88" y1="1145.5" x2="96.7" y2="1145.5" stroke="#262626" stroke-width="1.5"/>
<line x1="571" y1="1145.5" x2="562.3" y2="1145.5" stroke="#262626" stroke-width="1.5"/>
<line x1="88" y1="1136.5" x2="96.7" y2="1136.5" stroke="#262626" stroke-width="1.5"/>
<line x1="571" y1="1136.5" x2="562.3" y2="1136.5" stroke="#262626" stroke-width="1.5"/>
<line x1="88" y1="1119.5" x2="96.7" y2="1119.5" stroke="#262626" stroke-width="1.5"/>
<line x1="571" y1="1119.5" x2="562.3" y2="1119.5" stroke="#262626" stroke-width="1.5"/>
<line x1="88" y1="1111.5" x2="96.7" y2="1111.5" stroke="#262626" stroke-width="1.5"/>
<line x1="571" y1="1111.5" x2="562.3" y2="1111.5" stroke="#262626" stroke-width="1.5"/>
<line x1="88" y1="1102.5" x2="96.7" y2="1102.5" stroke="#262626" stroke-width="1.5"/>
<line x1="571" y1="1102.5" x2="562.3" y2="1102.5" stroke="#262626" stroke-width="1.5"/>
<line x1="88" y1="1094.5" x2="96.7" y2="1094.5" stroke="#262626" stroke-width="1.5"/>
<line x1="571" y1="1094.5" x2="562.3" y2="1094.5" stroke="#262626" stroke-width="1.5"/>
<line x1="88" y1="1077.5" x2="96.7" y2="1077.5" stroke="#262626" stroke-width="1.5"/>
<line x1="571" y1="1077.5" x2="562.3" y2="1077.5" stroke="#262626" stroke-width="1.5"/>
<line x1="88" y1="1068.5" x2="96.7" y2="1068.5" stroke="#262626" stroke-width="1.5"/>
<line x1="571" y1="1068.5" x2="562.3" y2="1068.5" stroke="#262626" stroke-width="1.5"/>
<line x1="88" y1="1060.5" x2="96.7" y2="1060.5" stroke="#262626" stroke-width="1.5"/>
<line x1="571" y1="1060.5" x2="562.3" y2="1060.5" stroke="#262626" stroke-width="1.5"/>
<line x1="88" y1="1052.5" x2="96.7" y2="1052.5" stroke="#262626" stroke-width="1.5"/>
<line x1="571" y1="1052.5" x2="562.3" y2="1052.5" stroke="#262626" stroke-width="1.5"/>
<line x1="88" y1="1035.5" x2="96.7" y2="1035.5" stroke="#262626" stroke-width="1.5"/>
<line x1="571" y1="1035.5" x2="562.3" y2="1035.5" stroke="#262626" stroke-width="1.5"/>
<line x1="88" y1="1026.5" x2="96.7" y2="1026.5" stroke="#262626" stroke-width="1.5"/>
<line x1="571" y1="1026.5" x2="562.3" y2="1026.5" stroke="#262626" stroke-width="1.5"/>
<line x1="88" y1="1018.5" x2="96.7" y2="1018.5" stroke="#262626" stroke-width="1.5"/>
<line x1="571" y1="1018.5" x2="562.3" y2="1018.5" stroke="#262626" stroke-width="1.5"/>
<line x1="88" y1="1009.5" x2="96.7" y2="1009.5" stroke="#262626" stroke-width="1.5"/>
<line x1="571" y1="1009.5" x2="562.3" y2="1009.5" stroke="#262626" stroke-width="1.5"/>
<line x1="88" y1="992.5" x2="96.7" y2="992.5" stroke="#262626" stroke-width="1.5"/>
<line x1="571" y1="992.5" x2="562.3" y2="992.5" stroke="#262626" stroke-width="1.5"/>
<line x1="88" y1="984.5" x2="96.7" y2="984.5" stroke="#262626" stroke-width="1.5"/>
<line x1="571" y1="984.5" x2="562.3" y2="984.5" stroke="#262626" stroke-width="1.5"/>
<line x1="88" y1="975.5" x2="96.7" y2="975.5" stroke="#262626" stroke-width="1.5"/>
<line x1="571" y1="975.5" x2="562.3" y2="975.5" stroke="#262626" stroke-width="1.5"/>
<line x1="88" y1="967.5" x2="96.7" y2="967.5" stroke="#262626" stroke-width="1.5"/>
<line x1="571" y1="967.5" x2="562.3" y2="967.5" stroke="#262626" stroke-width="1.5"/>
<line x1="88" y1="950.5" x2="96.7" y2="950.5" stroke="#262626" stroke-width="1.5"/>
<line x1="571" y1="950.5" x2="562.3" y2="950.5" stroke="#262626" stroke-width="1.5"/>
<line x1="88" y1="942.5" x2="96.7" y2="942.5" stroke="#262626" stroke-width="1.5"/>
<line x1="571" y1="942.5" x2="562.3" y2="942.5" stroke="#262626" stroke-width="1.5"/>
<line x1="88" y1="933.5" x2="96.7" y2="933.5" stroke="#262626" stroke-width="1.5"/>
<line x1="571" y1="933.5" x2="562.3" y2="933.5" stroke="#262626" stroke-width="1.5"/>
<line x1="88" y1="925.5" x2="96.7" y2="925.5" stroke="#262626" stroke-width="1.5"/>
<line x1="571" y1="925.5" x2="562.3" y2="925.5" stroke="#262626" stroke-width="1.5"/>
<line x1="88" y1="908.5" x2="96.7" y2="908.5" stroke="#262626" stroke-width="1.5"/>
<line x1="571" y1="908.5" x2="562.3" y2="908.5" stroke="#262626" stroke-width="1.5"/>
<line x1="88" y1="1297.5" x2="105" y2="1297.5" stroke="#262626" stroke-width="1.5"/>
<line x1="571" y1="1297.5" x2="554" y2="1297.5" stroke="#262626" stroke-width="1.5"/>
<line x1="88" y1="1254.5" x2="105" y2="1254.5" stroke="#262626" stroke-width="1.5"/>
<line x1="571" y1="1254.5" x2="554" y2="1254.5" stroke="#262626" stroke-width="1.5"/>
<line x1="88" y1="1212.5" x2="105" y2="1212.5" stroke="#262626" stroke-width="1.5"/>
<line x1="571" y1="1212.5" x2="554" y2="1212.5" stroke="#262626" stroke-width="1.5"/>
<line x1="88" y1="1170.5" x2="105" y2="1170.5" stroke="#262626" stroke-width="1.5"/>
<line x1="571" y1="1170.5" x2="554" y2="1170.5" stroke="#262626" stroke-width="1.5"/>
<line x1="88" y1="1128.5" x2="105" y2="1128.5" stroke="#262626" stroke-width="1.5"/>
<line x1="571" y1="1128.5" x2="554" y2="1128.5" stroke="#262626" stroke-width="1.5"/>
<line x1="88" y1="1085.5" x2="105" y2="1085.5" stroke="#262626" stroke-width="1.5"/>
<line x1="571" y1="1085.5" x2="554" y2="1085.5" stroke="#262626" stroke-width="1.5"/>
<line x1="88" y1="1043.5" x2="105" y2="1043.5" stroke="#262626" stroke-width="1.5"/>
<line x1="571" y1="1043.5" x2="554" y2="1043.5" stroke="#262626" stroke-width="1.5"/>
<line x1="88" y1="1001.5" x2="105" y2="1001.5" stroke="#262626" stroke-width="1.5"/>
<line x1="571" y1="1001.5" x2="554" y2="1001.5" stroke="#262626" stroke-width="1.5"/>
<line x1="88" y1="959.5" x2="105" y2="959.5" stroke="#262626" stroke-width="1.5"/>
<line x1="571" y1="959.5" x2="554" y2="959.5" stroke="#262626" stroke-width="1.5"/>
<line x1="88" y1="916.5" x2="105" y2="916.5" stroke="#262626" stroke-width="1.5"/>
<line x1="571" y1="916.5" x2="554" y2="916.5" stroke="#262626" stroke-width="1.5"/>
<g transform="translate(40.13 1265.53)"><text xml:space="preserve" x="0" y="0" font-size="26.8" font-family='"Liberation Sans", sans-serif'>500</text></g>
<g transform="translate(25.23 1223.26)"><path d="M10 0L7.64 0L7.64 -15.01C7.07 -14.46 6.32 -13.91 5.4 -13.36C4.49 -12.81 3.66 -12.39 2.92 -12.1L2.92 -14.38C4.21 -15 5.35 -15.74 6.33 -16.62C7.32 -17.5 8.01 -18.35 8.41 -19.18L10 -19.18Z" fill="#000" stroke="#000" stroke-width="0.3"/><text xml:space="preserve" x="14.9" y="0" font-size="26.8" font-family='"Liberation Sans", sans-serif'>000</text></g>
<g transform="translate(25.23 1181)"><path d="M10 0L7.64 0L7.64 -15.01C7.07 -14.46 6.32 -13.91 5.4 -13.36C4.49 -12.81 3.66 -12.39 2.92 -12.1L2.92 -14.38C4.21 -15 5.35 -15.74 6.33 -16.62C7.32 -17.5 8.01 -18.35 8.41 -19.18L10 -19.18Z" fill="#000" stroke="#000" stroke-width="0.3"/><text xml:space="preserve" x="14.9" y="0" font-size="26.8" font-family='"Liberation Sans", sans-serif'>500</text></g>
<g transform="translate(25.23 1138.73)"><text xml:space="preserve" x="0" y="0" font-size="26.8" font-family='"Liberation Sans", sans-serif'>2000</text></g>
<g transform="translate(25.23 1096.46)"><text xml:space="preserve" x="0" y="0" font-size="26.8" font-family='"Liberation Sans", sans-serif'>2500</text></g>
<g transform="translate(25.23 1054.19)"><text xml:space="preserve" x="0" y="0" font-size="26.8" font-family='"Liberation Sans", sans-serif'>3000</text></g>
<g transform="translate(25.23 1011.93)"><text xml:space="preserve" x="0" y="0" font-size="26.8" font-family='"Liberation Sans", sans-serif'>3500</text></g>
<g transform="translate(25.23 969.66)"><text xml:space="preserve" x="0" y="0" font-size="26.8" font-family='"Liberation Sans", sans-serif'>4000</text></g>
<g transform="translate(25.23 927.39)"><text xml:space="preserve" x="0" y="0" font-size="26.8" font-family='"Liberation Sans", sans-serif'>4500</text></g>
<line x1="134.5" y1="1297.2" x2="134.5" y2="1292.2" stroke="#262626" stroke-width="1.5"/>
<line x1="134.5" y1="901.4" x2="134.5" y2="906.4" stroke="#262626" stroke-width="1.5"/>
<line x1="193.5" y1="1297.2" x2="193.5" y2="1292.2" stroke="#262626" stroke-width="1.5"/>
<line x1="193.5" y1="901.4" x2="193.5" y2="906.4" stroke="#262626" stroke-width="1.5"/>
<line x1="234.5" y1="1297.2" x2="234.5" y2="1292.2" stroke="#262626" stroke-width="1.5"/>
<line x1="234.5" y1="901.4" x2="234.5" y2="906.4" stroke="#262626" stroke-width="1.5"/>
<line x1="266.5" y1="1297.2" x2="266.5" y2="1292.2" stroke="#262626" stroke-width="1.5"/>
<line x1="266.5" y1="901.4" x2="266.5" y2="906.4" stroke="#262626" stroke-width="1.5"/>
<line x1="293.5" y1="1297.2" x2="293.5" y2="1292.2" stroke="#262626" stroke-width="1.5"/>
<line x1="293.5" y1="901.4" x2="293.5" y2="906.4" stroke="#262626" stroke-width="1.5"/>
<line x1="315.5" y1="1297.2" x2="315.5" y2="1292.2" stroke="#262626" stroke-width="1.5"/>
<line x1="315.5" y1="901.4" x2="315.5" y2="906.4" stroke="#262626" stroke-width="1.5"/>
<line x1="334.5" y1="1297.2" x2="334.5" y2="1292.2" stroke="#262626" stroke-width="1.5"/>
<line x1="334.5" y1="901.4" x2="334.5" y2="906.4" stroke="#262626" stroke-width="1.5"/>
<line x1="351.5" y1="1297.2" x2="351.5" y2="1292.2" stroke="#262626" stroke-width="1.5"/>
<line x1="351.5" y1="901.4" x2="351.5" y2="906.4" stroke="#262626" stroke-width="1.5"/>
<line x1="525.5" y1="1297.2" x2="525.5" y2="1292.2" stroke="#262626" stroke-width="1.5"/>
<line x1="525.5" y1="901.4" x2="525.5" y2="906.4" stroke="#262626" stroke-width="1.5"/>
<line x1="567.5" y1="1297.2" x2="567.5" y2="1292.2" stroke="#262626" stroke-width="1.5"/>
<line x1="567.5" y1="901.4" x2="567.5" y2="906.4" stroke="#262626" stroke-width="1.5"/>
<line x1="367.5" y1="1297.2" x2="367.5" y2="1287.2" stroke="#262626" stroke-width="1.5"/>
<line x1="367.5" y1="901.4" x2="367.5" y2="911.4" stroke="#262626" stroke-width="1.5"/>
<line x1="467.5" y1="1297.2" x2="467.5" y2="1287.2" stroke="#262626" stroke-width="1.5"/>
<line x1="467.5" y1="901.4" x2="467.5" y2="911.4" stroke="#262626" stroke-width="1.5"/>
<rect x="88" y="901.4" width="483" height="395.8" fill="none" stroke="#262626" stroke-width="1.7"/>
<g clip-path="url(#cc0)">
<path d="M88 1297.2L111.4 1297.2L111.4 1280L135.61 1280L135.61 1094L159.82 1094L159.82 1147.4L184.03 1147.4L184.03 1188.6L208.24 1188.6L208.24 1217.4L232.45 1217.4L232.45 1235L256.66 1235L256.66 1173L280.87 1173L280.87 1188L305.08 1188L305.08 1239.2L329.29 1239.2L329.29 1267.7L353.51 1267.7L353.51 1282.4L377.72 1282.4L377.72 1289.8L401.93 1289.8L401.93 1293.8L426.14 1293.8L426.14 1296L450.35 1296L450.35 1296L474.56 1296L474.56 1296L498.77 1296L498.77 1296L522.98 1296L522.98 1296L547.19 1296L547.19 1296L571.4 1296" stroke="#000099" stroke-width="1.8" fill="none" stroke-dasharray="1.3 2.0" stroke-linejoin="miter"/>
<path d="M88 1297.2L111.4 1297.2L111.4 1282L135.61 1282L135.61 1124.4L159.82 1124.4L159.82 1168.6L184.03 1168.6L184.03 1202L208.24 1202L208.24 1224.6L232.45 1224.6L232.45 1238.6L256.66 1238.6L256.66 1177L280.87 1177L280.87 1189.6L305.08 1189.6L305.08 1239.6L329.29 1239.6L329.29 1268L353.51 1268L353.51 1282.6L377.72 1282.6L377.72 1290L401.93 1290L401.93 1294L426.14 1294L426.14 1296L450.35 1296L450.35 1296L474.56 1296L474.56 1296L498.77 1296L498.77 1296L522.98 1296L522.98 1296L547.19 1296L547.19 1296L571.4 1296" stroke="#30990a" stroke-width="2" fill="none" stroke-dasharray="4 2.8" stroke-linejoin="miter"/>
<path d="M88 1297.2L111.4 1297.2L111.4 1284.4L135.61 1284.4L135.61 1127L159.82 1127L159.82 1174L184.03 1174L184.03 1206.6L208.24 1206.6L208.24 1228L232.45 1228L232.45 1238.6L256.66 1238.6L256.66 1184.4L280.87 1184.4L280.87 1195.6L305.08 1195.6L305.08 1240.4L329.29 1240.4L329.29 1268.3L353.51 1268.3L353.51 1283L377.72 1283L377.72 1290.2L401.93 1290.2L401.93 1294L426.14 1294L426.14 1296L450.35 1296L450.35 1296L474.56 1296L474.56 1296L498.77 1296L498.77 1296L522.98 1296L522.98 1296L547.19 1296L547.19 1296L571.4 1296" stroke="#ff0000" stroke-width="2" fill="none" stroke-dasharray="3.9 3.9 1.5 3.7" stroke-linejoin="miter"/>
<line x1="124.01" y1="1279" x2="124.01" y2="1281" stroke="#000099" stroke-width="1.6" stroke-dasharray="1.3 2.0"/>
<line x1="148.22" y1="1090" x2="148.22" y2="1098" stroke="#000099" stroke-width="1.6" stroke-dasharray="1.3 2.0"/>
<line x1="172.43" y1="1144.4" x2="172.43" y2="1150.4" stroke="#000099" stroke-width="1.6" stroke-dasharray="1.3 2.0"/>
<line x1="196.64" y1="1186.6" x2="196.64" y2="1190.6" stroke="#000099" stroke-width="1.6" stroke-dasharray="1.3 2.0"/>
<line x1="220.85" y1="1216.4" x2="220.85" y2="1218.4" stroke="#000099" stroke-width="1.6" stroke-dasharray="1.3 2.0"/>
<line x1="245.06" y1="1234" x2="245.06" y2="1236" stroke="#000099" stroke-width="1.6" stroke-dasharray="1.3 2.0"/>
<line x1="269.27" y1="1170" x2="269.27" y2="1176" stroke="#000099" stroke-width="1.6" stroke-dasharray="1.3 2.0"/>
<line x1="293.48" y1="1185" x2="293.48" y2="1191" stroke="#000099" stroke-width="1.6" stroke-dasharray="1.3 2.0"/>
<line x1="317.69" y1="1238.2" x2="317.69" y2="1240.2" stroke="#000099" stroke-width="1.6" stroke-dasharray="1.3 2.0"/>
<line x1="124.01" y1="1281" x2="124.01" y2="1283" stroke="#30990a" stroke-width="1.6"/>
<line x1="148.22" y1="1120.4" x2="148.22" y2="1128.4" stroke="#30990a" stroke-width="1.6"/>
<line x1="172.43" y1="1164.6" x2="172.43" y2="1172.6" stroke="#30990a" stroke-width="1.6"/>
<line x1="196.64" y1="1199" x2="196.64" y2="1205" stroke="#30990a" stroke-width="1.6"/>
<line x1="220.85" y1="1222.6" x2="220.85" y2="1226.6" stroke="#30990a" stroke-width="1.6"/>
<line x1="245.06" y1="1237.6" x2="245.06" y2="1239.6" stroke="#30990a" stroke-width="1.6"/>
<line x1="269.27" y1="1174" x2="269.27" y2="1180" stroke="#30990a" stroke-width="1.6"/>
<line x1="293.48" y1="1186.6" x2="293.48" y2="1192.6" stroke="#30990a" stroke-width="1.6"/>
<line x1="317.69" y1="1238.6" x2="317.69" y2="1240.6" stroke="#30990a" stroke-width="1.6"/>
<line x1="124.01" y1="1283.4" x2="124.01" y2="1285.4" stroke="#ff0000" stroke-width="1.6"/>
<line x1="148.22" y1="1123" x2="148.22" y2="1131" stroke="#ff0000" stroke-width="1.6"/>
<line x1="172.43" y1="1170" x2="172.43" y2="1178" stroke="#ff0000" stroke-width="1.6"/>
<line x1="196.64" y1="1203.6" x2="196.64" y2="1209.6" stroke="#ff0000" stroke-width="1.6"/>
<line x1="220.85" y1="1226" x2="220.85" y2="1230" stroke="#ff0000" stroke-width="1.6"/>
<line x1="245.06" y1="1237.6" x2="245.06" y2="1239.6" stroke="#ff0000" stroke-width="1.6"/>
<line x1="269.27" y1="1181.4" x2="269.27" y2="1187.4" stroke="#ff0000" stroke-width="1.6"/>
<line x1="293.48" y1="1192.6" x2="293.48" y2="1198.6" stroke="#ff0000" stroke-width="1.6"/>
<line x1="317.69" y1="1239.4" x2="317.69" y2="1241.4" stroke="#ff0000" stroke-width="1.6"/>
</g>
<circle cx="124.01" cy="1287" r="4.6" fill="#000099"/>
<circle cx="124.01" cy="1289" r="4.4" fill="none" stroke="#30990a" stroke-width="1.4"/>
<path d="M119.51 1284.98L128.51 1284.98L124.01 1293.8Z" stroke="#ff0000" stroke-width="1.4" fill="none" stroke-linejoin="miter"/>
<circle cx="148.22" cy="1179" r="4.6" fill="#000099"/>
<circle cx="148.22" cy="1194.6" r="4.4" fill="none" stroke="#30990a" stroke-width="1.4"/>
<path d="M143.72 1187.58L152.72 1187.58L148.22 1196.4Z" stroke="#ff0000" stroke-width="1.4" fill="none" stroke-linejoin="miter"/>
<circle cx="172.43" cy="1211.6" r="4.6" fill="#000099"/>
<circle cx="172.43" cy="1222.4" r="4.4" fill="none" stroke="#30990a" stroke-width="1.4"/>
<path d="M167.93 1216.18L176.93 1216.18L172.43 1225Z" stroke="#ff0000" stroke-width="1.4" fill="none" stroke-linejoin="miter"/>
<circle cx="196.64" cy="1235" r="4.6" fill="#000099"/>
<circle cx="196.64" cy="1241.6" r="4.4" fill="none" stroke="#30990a" stroke-width="1.4"/>
<path d="M192.14 1235.18L201.14 1235.18L196.64 1244Z" stroke="#ff0000" stroke-width="1.4" fill="none" stroke-linejoin="miter"/>
<circle cx="220.85" cy="1249" r="4.6" fill="#000099"/>
<circle cx="220.85" cy="1253" r="4.4" fill="none" stroke="#30990a" stroke-width="1.4"/>
<path d="M216.35 1247.58L225.35 1247.58L220.85 1256.4Z" stroke="#ff0000" stroke-width="1.4" fill="none" stroke-linejoin="miter"/>
<circle cx="245.06" cy="1258" r="4.6" fill="#000099"/>
<circle cx="245.06" cy="1260" r="4.4" fill="none" stroke="#30990a" stroke-width="1.4"/>
<path d="M240.56 1255.58L249.56 1255.58L245.06 1264.4Z" stroke="#ff0000" stroke-width="1.4" fill="none" stroke-linejoin="miter"/>
<circle cx="269.27" cy="1216.6" r="4.6" fill="#000099"/>
<circle cx="269.27" cy="1217.4" r="4.4" fill="none" stroke="#30990a" stroke-width="1.4"/>
<path d="M264.77 1212.58L273.77 1212.58L269.27 1221.4Z" stroke="#ff0000" stroke-width="1.4" fill="none" stroke-linejoin="miter"/>
<circle cx="293.48" cy="1224.6" r="4.6" fill="#000099"/>
<circle cx="293.48" cy="1225.6" r="4.4" fill="none" stroke="#30990a" stroke-width="1.4"/>
<path d="M288.98 1220.58L297.98 1220.58L293.48 1229.4Z" stroke="#ff0000" stroke-width="1.4" fill="none" stroke-linejoin="miter"/>
<circle cx="317.69" cy="1259.3" r="4.6" fill="#000099"/>
<circle cx="317.69" cy="1260" r="4.4" fill="none" stroke="#30990a" stroke-width="1.4"/>
<path d="M313.19 1255.88L322.19 1255.88L317.69 1264.7Z" stroke="#ff0000" stroke-width="1.4" fill="none" stroke-linejoin="miter"/>
<circle cx="341.9" cy="1277.7" r="4.6" fill="#000099"/>
<circle cx="341.9" cy="1278" r="4.4" fill="none" stroke="#30990a" stroke-width="1.4"/>
<path d="M337.4 1274.28L346.4 1274.28L341.9 1283.1Z" stroke="#ff0000" stroke-width="1.4" fill="none" stroke-linejoin="miter"/>
<circle cx="366.11" cy="1287" r="4.6" fill="#000099"/>
<circle cx="366.11" cy="1287.5" r="4.4" fill="none" stroke="#30990a" stroke-width="1.4"/>
<path d="M361.61 1283.58L370.61 1283.58L366.11 1292.4Z" stroke="#ff0000" stroke-width="1.4" fill="none" stroke-linejoin="miter"/>
<circle cx="390.32" cy="1292.2" r="4.6" fill="#000099"/>
<circle cx="390.32" cy="1292.5" r="4.4" fill="none" stroke="#30990a" stroke-width="1.4"/>
<path d="M385.82 1288.78L394.82 1288.78L390.32 1297.6Z" stroke="#ff0000" stroke-width="1.4" fill="none" stroke-linejoin="miter"/>
<circle cx="414.53" cy="1294.5" r="4.6" fill="#000099"/>
<circle cx="414.53" cy="1294.7" r="4.4" fill="none" stroke="#30990a" stroke-width="1.4"/>
<path d="M410.03 1291.08L419.03 1291.08L414.53 1299.9Z" stroke="#ff0000" stroke-width="1.4" fill="none" stroke-linejoin="miter"/>
<circle cx="438.74" cy="1296.4" r="4.6" fill="#000099"/>
<circle cx="438.74" cy="1296.4" r="4.4" fill="none" stroke="#30990a" stroke-width="1.4"/>
<path d="M434.24 1292.98L443.24 1292.98L438.74 1301.8Z" stroke="#ff0000" stroke-width="1.4" fill="none" stroke-linejoin="miter"/>
<circle cx="462.95" cy="1296.4" r="4.6" fill="#000099"/>
<circle cx="462.95" cy="1296.4" r="4.4" fill="none" stroke="#30990a" stroke-width="1.4"/>
<path d="M458.45 1292.98L467.45 1292.98L462.95 1301.8Z" stroke="#ff0000" stroke-width="1.4" fill="none" stroke-linejoin="miter"/>
<circle cx="487.16" cy="1296.4" r="4.6" fill="#000099"/>
<circle cx="487.16" cy="1296.4" r="4.4" fill="none" stroke="#30990a" stroke-width="1.4"/>
<path d="M482.66 1292.98L491.66 1292.98L487.16 1301.8Z" stroke="#ff0000" stroke-width="1.4" fill="none" stroke-linejoin="miter"/>
<circle cx="511.37" cy="1296.4" r="4.6" fill="#000099"/>
<circle cx="511.37" cy="1296.4" r="4.4" fill="none" stroke="#30990a" stroke-width="1.4"/>
<path d="M506.87 1292.98L515.87 1292.98L511.37 1301.8Z" stroke="#ff0000" stroke-width="1.4" fill="none" stroke-linejoin="miter"/>
<circle cx="535.58" cy="1296.4" r="4.6" fill="#000099"/>
<circle cx="535.58" cy="1296.4" r="4.4" fill="none" stroke="#30990a" stroke-width="1.4"/>
<path d="M531.08 1292.98L540.08 1292.98L535.58 1301.8Z" stroke="#ff0000" stroke-width="1.4" fill="none" stroke-linejoin="miter"/>
<circle cx="559.79" cy="1296.4" r="4.6" fill="#000099"/>
<circle cx="559.79" cy="1296.4" r="4.4" fill="none" stroke="#30990a" stroke-width="1.4"/>
<path d="M555.29 1292.98L564.29 1292.98L559.79 1301.8Z" stroke="#ff0000" stroke-width="1.4" fill="none" stroke-linejoin="miter"/>
<line x1="88" y1="1415.5" x2="96.7" y2="1415.5" stroke="#262626" stroke-width="1.5"/>
<line x1="571" y1="1415.5" x2="562.3" y2="1415.5" stroke="#262626" stroke-width="1.5"/>
<line x1="88" y1="1392.5" x2="96.7" y2="1392.5" stroke="#262626" stroke-width="1.5"/>
<line x1="571" y1="1392.5" x2="562.3" y2="1392.5" stroke="#262626" stroke-width="1.5"/>
<line x1="88" y1="1381.5" x2="96.7" y2="1381.5" stroke="#262626" stroke-width="1.5"/>
<line x1="571" y1="1381.5" x2="562.3" y2="1381.5" stroke="#262626" stroke-width="1.5"/>
<line x1="88" y1="1370.5" x2="96.7" y2="1370.5" stroke="#262626" stroke-width="1.5"/>
<line x1="571" y1="1370.5" x2="562.3" y2="1370.5" stroke="#262626" stroke-width="1.5"/>
<line x1="88" y1="1359.5" x2="96.7" y2="1359.5" stroke="#262626" stroke-width="1.5"/>
<line x1="571" y1="1359.5" x2="562.3" y2="1359.5" stroke="#262626" stroke-width="1.5"/>
<line x1="88" y1="1337.5" x2="96.7" y2="1337.5" stroke="#262626" stroke-width="1.5"/>
<line x1="571" y1="1337.5" x2="562.3" y2="1337.5" stroke="#262626" stroke-width="1.5"/>
<line x1="88" y1="1326.5" x2="96.7" y2="1326.5" stroke="#262626" stroke-width="1.5"/>
<line x1="571" y1="1326.5" x2="562.3" y2="1326.5" stroke="#262626" stroke-width="1.5"/>
<line x1="88" y1="1315.5" x2="96.7" y2="1315.5" stroke="#262626" stroke-width="1.5"/>
<line x1="571" y1="1315.5" x2="562.3" y2="1315.5" stroke="#262626" stroke-width="1.5"/>
<line x1="88" y1="1403.5" x2="105" y2="1403.5" stroke="#262626" stroke-width="1.5"/>
<line x1="571" y1="1403.5" x2="554" y2="1403.5" stroke="#262626" stroke-width="1.5"/>
<line x1="88" y1="1348.5" x2="105" y2="1348.5" stroke="#262626" stroke-width="1.5"/>
<line x1="571" y1="1348.5" x2="554" y2="1348.5" stroke="#262626" stroke-width="1.5"/>
<g transform="translate(73.8 1358)"><path d="M10 0L7.64 0L7.64 -15.01C7.07 -14.46 6.32 -13.91 5.4 -13.36C4.49 -12.81 3.66 -12.39 2.92 -12.1L2.92 -14.38C4.21 -15 5.35 -15.74 6.33 -16.62C7.32 -17.5 8.01 -18.35 8.41 -19.18L10 -19.18Z" fill="#000" stroke="#000" stroke-width="0.3"/></g>
<g transform="translate(47.67 1413.5)"><text xml:space="preserve" x="0" y="0" font-size="26.8" font-family='"Liberation Sans", sans-serif'>0.5</text></g>
<line x1="134.5" y1="1424.7" x2="134.5" y2="1422.7" stroke="#262626" stroke-width="1.5"/>
<line x1="134.5" y1="1305.5" x2="134.5" y2="1307.5" stroke="#262626" stroke-width="1.5"/>
<line x1="193.5" y1="1424.7" x2="193.5" y2="1422.7" stroke="#262626" stroke-width="1.5"/>
<line x1="193.5" y1="1305.5" x2="193.5" y2="1307.5" stroke="#262626" stroke-width="1.5"/>
<line x1="234.5" y1="1424.7" x2="234.5" y2="1422.7" stroke="#262626" stroke-width="1.5"/>
<line x1="234.5" y1="1305.5" x2="234.5" y2="1307.5" stroke="#262626" stroke-width="1.5"/>
<line x1="266.5" y1="1424.7" x2="266.5" y2="1422.7" stroke="#262626" stroke-width="1.5"/>
<line x1="266.5" y1="1305.5" x2="266.5" y2="1307.5" stroke="#262626" stroke-width="1.5"/>
<line x1="293.5" y1="1424.7" x2="293.5" y2="1422.7" stroke="#262626" stroke-width="1.5"/>
<line x1="293.5" y1="1305.5" x2="293.5" y2="1307.5" stroke="#262626" stroke-width="1.5"/>
<line x1="315.5" y1="1424.7" x2="315.5" y2="1422.7" stroke="#262626" stroke-width="1.5"/>
<line x1="315.5" y1="1305.5" x2="315.5" y2="1307.5" stroke="#262626" stroke-width="1.5"/>
<line x1="334.5" y1="1424.7" x2="334.5" y2="1422.7" stroke="#262626" stroke-width="1.5"/>
<line x1="334.5" y1="1305.5" x2="334.5" y2="1307.5" stroke="#262626" stroke-width="1.5"/>
<line x1="351.5" y1="1424.7" x2="351.5" y2="1422.7" stroke="#262626" stroke-width="1.5"/>
<line x1="351.5" y1="1305.5" x2="351.5" y2="1307.5" stroke="#262626" stroke-width="1.5"/>
<line x1="525.5" y1="1424.7" x2="525.5" y2="1422.7" stroke="#262626" stroke-width="1.5"/>
<line x1="525.5" y1="1305.5" x2="525.5" y2="1307.5" stroke="#262626" stroke-width="1.5"/>
<line x1="567.5" y1="1424.7" x2="567.5" y2="1422.7" stroke="#262626" stroke-width="1.5"/>
<line x1="567.5" y1="1305.5" x2="567.5" y2="1307.5" stroke="#262626" stroke-width="1.5"/>
<line x1="367.5" y1="1424.7" x2="367.5" y2="1421.2" stroke="#262626" stroke-width="1.5"/>
<line x1="367.5" y1="1305.5" x2="367.5" y2="1309" stroke="#262626" stroke-width="1.5"/>
<line x1="467.5" y1="1424.7" x2="467.5" y2="1421.2" stroke="#262626" stroke-width="1.5"/>
<line x1="467.5" y1="1305.5" x2="467.5" y2="1309" stroke="#262626" stroke-width="1.5"/>
<line x1="88" y1="1348.4" x2="571" y2="1348.4" stroke="#000000" stroke-width="1.6" stroke-dasharray="3.4 3.06"/>
<rect x="88" y="1305.5" width="483" height="119.2" fill="none" stroke="#262626" stroke-width="1.7"/>
<g clip-path="url(#cc1)">
<circle cx="124.01" cy="1392" r="4.6" fill="#000099"/>
<circle cx="148.22" cy="1394" r="4.6" fill="#000099"/>
<circle cx="172.43" cy="1395.2" r="4.6" fill="#000099"/>
<circle cx="196.64" cy="1395.2" r="4.6" fill="#000099"/>
<circle cx="220.85" cy="1393.2" r="4.6" fill="#000099"/>
<circle cx="245.06" cy="1390" r="4.6" fill="#000099"/>
<circle cx="269.27" cy="1386" r="4.6" fill="#000099"/>
<circle cx="293.48" cy="1384.8" r="4.6" fill="#000099"/>
<circle cx="317.69" cy="1386.8" r="4.6" fill="#000099"/>
<circle cx="341.9" cy="1386.8" r="4.6" fill="#000099"/>
<circle cx="366.11" cy="1384" r="4.6" fill="#000099"/>
<circle cx="390.32" cy="1382" r="4.6" fill="#000099"/>
<circle cx="414.53" cy="1378.8" r="4.6" fill="#000099"/>
<circle cx="438.74" cy="1378.8" r="4.6" fill="#000099"/>
<circle cx="462.95" cy="1372" r="4.6" fill="#000099"/>
<line x1="487.16" y1="1368" x2="487.16" y2="1372" stroke="#000099" stroke-width="1.8"/>
<circle cx="487.16" cy="1370" r="4.6" fill="#000099"/>
<line x1="511.37" y1="1352" x2="511.37" y2="1360" stroke="#000099" stroke-width="1.8"/>
<circle cx="511.37" cy="1356" r="4.6" fill="#000099"/>
<line x1="535.58" y1="1352.8" x2="535.58" y2="1368.8" stroke="#000099" stroke-width="1.8"/>
<circle cx="535.58" cy="1360.8" r="4.6" fill="#000099"/>
<line x1="559.79" y1="1326.2" x2="559.79" y2="1356.2" stroke="#000099" stroke-width="1.8"/>
<circle cx="559.79" cy="1341.2" r="4.6" fill="#000099"/>
<circle cx="124.01" cy="1392" r="4.4" fill="none" stroke="#30990a" stroke-width="1.4"/>
<circle cx="148.22" cy="1393.2" r="4.4" fill="none" stroke="#30990a" stroke-width="1.4"/>
<circle cx="172.43" cy="1394.4" r="4.4" fill="none" stroke="#30990a" stroke-width="1.4"/>
<circle cx="196.64" cy="1394.4" r="4.4" fill="none" stroke="#30990a" stroke-width="1.4"/>
<circle cx="220.85" cy="1392" r="4.4" fill="none" stroke="#30990a" stroke-width="1.4"/>
<circle cx="245.06" cy="1388.8" r="4.4" fill="none" stroke="#30990a" stroke-width="1.4"/>
<circle cx="269.27" cy="1385.2" r="4.4" fill="none" stroke="#30990a" stroke-width="1.4"/>
<circle cx="293.48" cy="1384" r="4.4" fill="none" stroke="#30990a" stroke-width="1.4"/>
<circle cx="317.69" cy="1386.8" r="4.4" fill="none" stroke="#30990a" stroke-width="1.4"/>
<circle cx="341.9" cy="1386.8" r="4.4" fill="none" stroke="#30990a" stroke-width="1.4"/>
<circle cx="366.11" cy="1383.2" r="4.4" fill="none" stroke="#30990a" stroke-width="1.4"/>
<circle cx="390.32" cy="1381.2" r="4.4" fill="none" stroke="#30990a" stroke-width="1.4"/>
<circle cx="414.53" cy="1378.8" r="4.4" fill="none" stroke="#30990a" stroke-width="1.4"/>
<circle cx="438.74" cy="1378.8" r="4.4" fill="none" stroke="#30990a" stroke-width="1.4"/>
<circle cx="462.95" cy="1371.2" r="4.4" fill="none" stroke="#30990a" stroke-width="1.4"/>
<line x1="487.16" y1="1367.2" x2="487.16" y2="1371.2" stroke="#30990a" stroke-width="1.8"/>
<circle cx="487.16" cy="1369.2" r="4.4" fill="none" stroke="#30990a" stroke-width="1.4"/>
<line x1="511.37" y1="1359.2" x2="511.37" y2="1367.2" stroke="#30990a" stroke-width="1.8"/>
<circle cx="511.37" cy="1363.2" r="4.4" fill="none" stroke="#30990a" stroke-width="1.4"/>
<line x1="535.58" y1="1355.2" x2="535.58" y2="1367.2" stroke="#30990a" stroke-width="1.8"/>
<circle cx="535.58" cy="1361.2" r="4.4" fill="none" stroke="#30990a" stroke-width="1.4"/>
<line x1="559.79" y1="1336.8" x2="559.79" y2="1360.8" stroke="#30990a" stroke-width="1.8"/>
<circle cx="559.79" cy="1348.8" r="4.4" fill="none" stroke="#30990a" stroke-width="1.4"/>
<path d="M119.51 1374.58L128.51 1374.58L124.01 1383.4Z" stroke="#ff0000" stroke-width="1.4" fill="none" stroke-linejoin="miter"/>
<path d="M143.72 1386.58L152.72 1386.58L148.22 1395.4Z" stroke="#ff0000" stroke-width="1.4" fill="none" stroke-linejoin="miter"/>
<path d="M167.93 1385.78L176.93 1385.78L172.43 1394.6Z" stroke="#ff0000" stroke-width="1.4" fill="none" stroke-linejoin="miter"/>
<path d="M192.14 1384.58L201.14 1384.58L196.64 1393.4Z" stroke="#ff0000" stroke-width="1.4" fill="none" stroke-linejoin="miter"/>
<path d="M216.35 1381.78L225.35 1381.78L220.85 1390.6Z" stroke="#ff0000" stroke-width="1.4" fill="none" stroke-linejoin="miter"/>
<path d="M240.56 1382.58L249.56 1382.58L245.06 1391.4Z" stroke="#ff0000" stroke-width="1.4" fill="none" stroke-linejoin="miter"/>
<path d="M264.77 1375.38L273.77 1375.38L269.27 1384.2Z" stroke="#ff0000" stroke-width="1.4" fill="none" stroke-linejoin="miter"/>
<path d="M288.98 1375.38L297.98 1375.38L293.48 1384.2Z" stroke="#ff0000" stroke-width="1.4" fill="none" stroke-linejoin="miter"/>
<path d="M313.19 1380.58L322.19 1380.58L317.69 1389.4Z" stroke="#ff0000" stroke-width="1.4" fill="none" stroke-linejoin="miter"/>
<path d="M337.4 1381.78L346.4 1381.78L341.9 1390.6Z" stroke="#ff0000" stroke-width="1.4" fill="none" stroke-linejoin="miter"/>
<path d="M361.61 1379.38L370.61 1379.38L366.11 1388.2Z" stroke="#ff0000" stroke-width="1.4" fill="none" stroke-linejoin="miter"/>
<path d="M385.82 1377.78L394.82 1377.78L390.32 1386.6Z" stroke="#ff0000" stroke-width="1.4" fill="none" stroke-linejoin="miter"/>
<path d="M410.03 1373.78L419.03 1373.78L414.53 1382.6Z" stroke="#ff0000" stroke-width="1.4" fill="none" stroke-linejoin="miter"/>
<path d="M434.24 1374.58L443.24 1374.58L438.74 1383.4Z" stroke="#ff0000" stroke-width="1.4" fill="none" stroke-linejoin="miter"/>
<path d="M458.45 1366.58L467.45 1366.58L462.95 1375.4Z" stroke="#ff0000" stroke-width="1.4" fill="none" stroke-linejoin="miter"/>
<line x1="487.16" y1="1367.2" x2="487.16" y2="1371.2" stroke="#ff0000" stroke-width="1.8"/>
<path d="M482.66 1365.78L491.66 1365.78L487.16 1374.6Z" stroke="#ff0000" stroke-width="1.4" fill="none" stroke-linejoin="miter"/>
<line x1="511.37" y1="1358" x2="511.37" y2="1366" stroke="#ff0000" stroke-width="1.8"/>
<path d="M506.87 1358.58L515.87 1358.58L511.37 1367.4Z" stroke="#ff0000" stroke-width="1.4" fill="none" stroke-linejoin="miter"/>
<line x1="535.58" y1="1352" x2="535.58" y2="1368" stroke="#ff0000" stroke-width="1.8"/>
<path d="M531.08 1356.58L540.08 1356.58L535.58 1365.4Z" stroke="#ff0000" stroke-width="1.4" fill="none" stroke-linejoin="miter"/>
<line x1="559.79" y1="1327" x2="559.79" y2="1357" stroke="#ff0000" stroke-width="1.8"/>
<path d="M555.29 1338.58L564.29 1338.58L559.79 1347.4Z" stroke="#ff0000" stroke-width="1.4" fill="none" stroke-linejoin="miter"/>
</g>
<line x1="88" y1="1544.5" x2="93" y2="1544.5" stroke="#262626" stroke-width="1.5"/>
<line x1="571" y1="1544.5" x2="566" y2="1544.5" stroke="#262626" stroke-width="1.5"/>
<line x1="88" y1="1532.5" x2="93" y2="1532.5" stroke="#262626" stroke-width="1.5"/>
<line x1="571" y1="1532.5" x2="566" y2="1532.5" stroke="#262626" stroke-width="1.5"/>
<line x1="88" y1="1521.5" x2="93" y2="1521.5" stroke="#262626" stroke-width="1.5"/>
<line x1="571" y1="1521.5" x2="566" y2="1521.5" stroke="#262626" stroke-width="1.5"/>
<line x1="88" y1="1497.5" x2="93" y2="1497.5" stroke="#262626" stroke-width="1.5"/>
<line x1="571" y1="1497.5" x2="566" y2="1497.5" stroke="#262626" stroke-width="1.5"/>
<line x1="88" y1="1485.5" x2="93" y2="1485.5" stroke="#262626" stroke-width="1.5"/>
<line x1="571" y1="1485.5" x2="566" y2="1485.5" stroke="#262626" stroke-width="1.5"/>
<line x1="88" y1="1474.5" x2="93" y2="1474.5" stroke="#262626" stroke-width="1.5"/>
<line x1="571" y1="1474.5" x2="566" y2="1474.5" stroke="#262626" stroke-width="1.5"/>
<line x1="88" y1="1450.5" x2="93" y2="1450.5" stroke="#262626" stroke-width="1.5"/>
<line x1="571" y1="1450.5" x2="566" y2="1450.5" stroke="#262626" stroke-width="1.5"/>
<line x1="88" y1="1438.5" x2="93" y2="1438.5" stroke="#262626" stroke-width="1.5"/>
<line x1="571" y1="1438.5" x2="566" y2="1438.5" stroke="#262626" stroke-width="1.5"/>
<line x1="88" y1="1556.5" x2="98" y2="1556.5" stroke="#262626" stroke-width="1.5"/>
<line x1="571" y1="1556.5" x2="561" y2="1556.5" stroke="#262626" stroke-width="1.5"/>
<line x1="88" y1="1509.5" x2="98" y2="1509.5" stroke="#262626" stroke-width="1.5"/>
<line x1="571" y1="1509.5" x2="561" y2="1509.5" stroke="#262626" stroke-width="1.5"/>
<line x1="88" y1="1462.5" x2="98" y2="1462.5" stroke="#262626" stroke-width="1.5"/>
<line x1="571" y1="1462.5" x2="561" y2="1462.5" stroke="#262626" stroke-width="1.5"/>
<g transform="translate(73.8 1472)"><path d="M10 0L7.64 0L7.64 -15.01C7.07 -14.46 6.32 -13.91 5.4 -13.36C4.49 -12.81 3.66 -12.39 2.92 -12.1L2.92 -14.38C4.21 -15 5.35 -15.74 6.33 -16.62C7.32 -17.5 8.01 -18.35 8.41 -19.18L10 -19.18Z" fill="#000" stroke="#000" stroke-width="0.3"/></g>
<g transform="translate(47.71 1519)"><text xml:space="preserve" x="0" y="0" font-size="26.8" font-family='"Liberation Sans", sans-serif'>0.8</text></g>
<g transform="translate(47.72 1566)"><text xml:space="preserve" x="0" y="0" font-size="26.8" font-family='"Liberation Sans", sans-serif'>0.6</text></g>
<line x1="134.5" y1="1556.2" x2="134.5" y2="1553.7" stroke="#262626" stroke-width="1.5"/>
<line x1="134.5" y1="1432.8" x2="134.5" y2="1435.3" stroke="#262626" stroke-width="1.5"/>
<line x1="193.5" y1="1556.2" x2="193.5" y2="1553.7" stroke="#262626" stroke-width="1.5"/>
<line x1="193.5" y1="1432.8" x2="193.5" y2="1435.3" stroke="#262626" stroke-width="1.5"/>
<line x1="234.5" y1="1556.2" x2="234.5" y2="1553.7" stroke="#262626" stroke-width="1.5"/>
<line x1="234.5" y1="1432.8" x2="234.5" y2="1435.3" stroke="#262626" stroke-width="1.5"/>
<line x1="266.5" y1="1556.2" x2="266.5" y2="1553.7" stroke="#262626" stroke-width="1.5"/>
<line x1="266.5" y1="1432.8" x2="266.5" y2="1435.3" stroke="#262626" stroke-width="1.5"/>
<line x1="293.5" y1="1556.2" x2="293.5" y2="1553.7" stroke="#262626" stroke-width="1.5"/>
<line x1="293.5" y1="1432.8" x2="293.5" y2="1435.3" stroke="#262626" stroke-width="1.5"/>
<line x1="315.5" y1="1556.2" x2="315.5" y2="1553.7" stroke="#262626" stroke-width="1.5"/>
<line x1="315.5" y1="1432.8" x2="315.5" y2="1435.3" stroke="#262626" stroke-width="1.5"/>
<line x1="334.5" y1="1556.2" x2="334.5" y2="1553.7" stroke="#262626" stroke-width="1.5"/>
<line x1="334.5" y1="1432.8" x2="334.5" y2="1435.3" stroke="#262626" stroke-width="1.5"/>
<line x1="351.5" y1="1556.2" x2="351.5" y2="1553.7" stroke="#262626" stroke-width="1.5"/>
<line x1="351.5" y1="1432.8" x2="351.5" y2="1435.3" stroke="#262626" stroke-width="1.5"/>
<line x1="525.5" y1="1556.2" x2="525.5" y2="1553.7" stroke="#262626" stroke-width="1.5"/>
<line x1="525.5" y1="1432.8" x2="525.5" y2="1435.3" stroke="#262626" stroke-width="1.5"/>
<line x1="567.5" y1="1556.2" x2="567.5" y2="1553.7" stroke="#262626" stroke-width="1.5"/>
<line x1="567.5" y1="1432.8" x2="567.5" y2="1435.3" stroke="#262626" stroke-width="1.5"/>
<line x1="367.5" y1="1556.2" x2="367.5" y2="1551.2" stroke="#262626" stroke-width="1.5"/>
<line x1="367.5" y1="1432.8" x2="367.5" y2="1437.8" stroke="#262626" stroke-width="1.5"/>
<line x1="467.5" y1="1556.2" x2="467.5" y2="1551.2" stroke="#262626" stroke-width="1.5"/>
<line x1="467.5" y1="1432.8" x2="467.5" y2="1437.8" stroke="#262626" stroke-width="1.5"/>
<line x1="88" y1="1462.4" x2="571" y2="1462.4" stroke="#000000" stroke-width="1.6" stroke-dasharray="3.4 3.06"/>
<rect x="88" y="1432.8" width="483" height="123.4" fill="none" stroke="#262626" stroke-width="1.7"/>
<g clip-path="url(#cc2)">
<path d="M88 1556.2L111.4 1556.2L111.4 1493.2L135.61 1493.2L135.61 1496L159.82 1496L159.82 1495.2L184.03 1495.2L184.03 1492L208.24 1492L208.24 1484L232.45 1484L232.45 1477.2L256.66 1477.2L256.66 1470L280.87 1470L280.87 1468L305.08 1468L305.08 1466.8L329.29 1466.8L329.29 1465.2L353.51 1465.2L353.51 1465L377.72 1465L377.72 1464.8L401.93 1464.8L401.93 1464.6L426.14 1464.6L426.14 1464.4L450.35 1464.4L450.35 1464.2L474.56 1464.2L474.56 1464L498.77 1464L498.77 1464L522.98 1464L522.98 1463.8L547.19 1463.8L547.19 1463.6L571.4 1463.6" stroke="#30990a" stroke-width="2" fill="none" stroke-dasharray="4 2.8" stroke-linejoin="miter"/>
<path d="M88 1556.2L111.4 1556.2L111.4 1526L135.61 1526L135.61 1500L159.82 1500L159.82 1504L184.03 1504L184.03 1501.2L208.24 1501.2L208.24 1494L232.45 1494L232.45 1478L256.66 1478L256.66 1483.2L280.87 1483.2L280.87 1478.8L305.08 1478.8L305.08 1468L329.29 1468L329.29 1462L353.51 1462L353.51 1460.8L377.72 1460.8L377.72 1462L401.93 1462L401.93 1462.8L426.14 1462.8L426.14 1462.5L450.35 1462.5L450.35 1462L474.56 1462L474.56 1460L498.77 1460L498.77 1462L522.98 1462L522.98 1461.2L547.19 1461.2L547.19 1465.2L571.4 1465.2" stroke="#ff0000" stroke-width="2" fill="none" stroke-dasharray="3.9 3.9 1.5 3.7" stroke-linejoin="miter"/>
<line x1="124.01" y1="1509" x2="124.01" y2="1543" stroke="#ff0000" stroke-width="1.7" stroke-dasharray="3.9 3.9 1.5 3.7"/>
<line x1="148.22" y1="1490" x2="148.22" y2="1510" stroke="#ff0000" stroke-width="1.7" stroke-dasharray="3.9 3.9 1.5 3.7"/>
<line x1="172.43" y1="1494" x2="172.43" y2="1514" stroke="#ff0000" stroke-width="1.7" stroke-dasharray="3.9 3.9 1.5 3.7"/>
<line x1="196.64" y1="1491.2" x2="196.64" y2="1511.2" stroke="#ff0000" stroke-width="1.7" stroke-dasharray="3.9 3.9 1.5 3.7"/>
<line x1="220.85" y1="1484" x2="220.85" y2="1504" stroke="#ff0000" stroke-width="1.7" stroke-dasharray="3.9 3.9 1.5 3.7"/>
<line x1="245.06" y1="1469" x2="245.06" y2="1487" stroke="#ff0000" stroke-width="1.7" stroke-dasharray="3.9 3.9 1.5 3.7"/>
<line x1="269.27" y1="1474.2" x2="269.27" y2="1492.2" stroke="#ff0000" stroke-width="1.7" stroke-dasharray="3.9 3.9 1.5 3.7"/>
<line x1="293.48" y1="1469.8" x2="293.48" y2="1487.8" stroke="#ff0000" stroke-width="1.7" stroke-dasharray="3.9 3.9 1.5 3.7"/>
<line x1="317.69" y1="1462" x2="317.69" y2="1474" stroke="#ff0000" stroke-width="1.7" stroke-dasharray="3.9 3.9 1.5 3.7"/>
<line x1="341.9" y1="1458" x2="341.9" y2="1466" stroke="#ff0000" stroke-width="1.7" stroke-dasharray="3.9 3.9 1.5 3.7"/>
<line x1="366.11" y1="1457.8" x2="366.11" y2="1463.8" stroke="#ff0000" stroke-width="1.7" stroke-dasharray="3.9 3.9 1.5 3.7"/>
<line x1="390.32" y1="1459" x2="390.32" y2="1465" stroke="#ff0000" stroke-width="1.7" stroke-dasharray="3.9 3.9 1.5 3.7"/>
<line x1="414.53" y1="1459.8" x2="414.53" y2="1465.8" stroke="#ff0000" stroke-width="1.7" stroke-dasharray="3.9 3.9 1.5 3.7"/>
<line x1="438.74" y1="1459.5" x2="438.74" y2="1465.5" stroke="#ff0000" stroke-width="1.7" stroke-dasharray="3.9 3.9 1.5 3.7"/>
<line x1="462.95" y1="1459" x2="462.95" y2="1465" stroke="#ff0000" stroke-width="1.7" stroke-dasharray="3.9 3.9 1.5 3.7"/>
<line x1="487.16" y1="1457" x2="487.16" y2="1463" stroke="#ff0000" stroke-width="1.7" stroke-dasharray="3.9 3.9 1.5 3.7"/>
<line x1="511.37" y1="1459" x2="511.37" y2="1465" stroke="#ff0000" stroke-width="1.7" stroke-dasharray="3.9 3.9 1.5 3.7"/>
<line x1="535.58" y1="1458.2" x2="535.58" y2="1464.2" stroke="#ff0000" stroke-width="1.7" stroke-dasharray="3.9 3.9 1.5 3.7"/>
<line x1="559.79" y1="1462.2" x2="559.79" y2="1468.2" stroke="#ff0000" stroke-width="1.7" stroke-dasharray="3.9 3.9 1.5 3.7"/>
</g>
<circle cx="124.01" cy="1492" r="4.4" fill="none" stroke="#30990a" stroke-width="1.4"/>
<path d="M119.51 1484.58L128.51 1484.58L124.01 1493.4Z" stroke="#ff0000" stroke-width="1.4" fill="none" stroke-linejoin="miter"/>
<circle cx="148.22" cy="1492" r="4.4" fill="none" stroke="#30990a" stroke-width="1.4"/>
<path d="M143.72 1484.58L152.72 1484.58L148.22 1493.4Z" stroke="#ff0000" stroke-width="1.4" fill="none" stroke-linejoin="miter"/>
<circle cx="172.43" cy="1490.8" r="4.4" fill="none" stroke="#30990a" stroke-width="1.4"/>
<path d="M167.93 1483.38L176.93 1483.38L172.43 1492.2Z" stroke="#ff0000" stroke-width="1.4" fill="none" stroke-linejoin="miter"/>
<circle cx="196.64" cy="1484.8" r="4.4" fill="none" stroke="#30990a" stroke-width="1.4"/>
<path d="M192.14 1476.58L201.14 1476.58L196.64 1485.4Z" stroke="#ff0000" stroke-width="1.4" fill="none" stroke-linejoin="miter"/>
<circle cx="220.85" cy="1478" r="4.4" fill="none" stroke="#30990a" stroke-width="1.4"/>
<path d="M216.35 1470.58L225.35 1470.58L220.85 1479.4Z" stroke="#ff0000" stroke-width="1.4" fill="none" stroke-linejoin="miter"/>
<circle cx="245.06" cy="1471.2" r="4.4" fill="none" stroke="#30990a" stroke-width="1.4"/>
<path d="M240.56 1465.38L249.56 1465.38L245.06 1474.2Z" stroke="#ff0000" stroke-width="1.4" fill="none" stroke-linejoin="miter"/>
<circle cx="269.27" cy="1466" r="4.4" fill="none" stroke="#30990a" stroke-width="1.4"/>
<path d="M264.77 1460.58L273.77 1460.58L269.27 1469.4Z" stroke="#ff0000" stroke-width="1.4" fill="none" stroke-linejoin="miter"/>
<circle cx="293.48" cy="1465.2" r="4.4" fill="none" stroke="#30990a" stroke-width="1.4"/>
<path d="M288.98 1459.78L297.98 1459.78L293.48 1468.6Z" stroke="#ff0000" stroke-width="1.4" fill="none" stroke-linejoin="miter"/>
<circle cx="317.69" cy="1465.2" r="4.4" fill="none" stroke="#30990a" stroke-width="1.4"/>
<path d="M313.19 1459.78L322.19 1459.78L317.69 1468.6Z" stroke="#ff0000" stroke-width="1.4" fill="none" stroke-linejoin="miter"/>
<circle cx="341.9" cy="1465.2" r="4.4" fill="none" stroke="#30990a" stroke-width="1.4"/>
<path d="M337.4 1459.78L346.4 1459.78L341.9 1468.6Z" stroke="#ff0000" stroke-width="1.4" fill="none" stroke-linejoin="miter"/>
<circle cx="366.11" cy="1465.2" r="4.4" fill="none" stroke="#30990a" stroke-width="1.4"/>
<path d="M361.61 1459.78L370.61 1459.78L366.11 1468.6Z" stroke="#ff0000" stroke-width="1.4" fill="none" stroke-linejoin="miter"/>
<circle cx="390.32" cy="1465.2" r="4.4" fill="none" stroke="#30990a" stroke-width="1.4"/>
<path d="M385.82 1460.58L394.82 1460.58L390.32 1469.4Z" stroke="#ff0000" stroke-width="1.4" fill="none" stroke-linejoin="miter"/>
<circle cx="414.53" cy="1465.2" r="4.4" fill="none" stroke="#30990a" stroke-width="1.4"/>
<path d="M410.03 1460.58L419.03 1460.58L414.53 1469.4Z" stroke="#ff0000" stroke-width="1.4" fill="none" stroke-linejoin="miter"/>
<circle cx="438.74" cy="1465.2" r="4.4" fill="none" stroke="#30990a" stroke-width="1.4"/>
<path d="M434.24 1460.58L443.24 1460.58L438.74 1469.4Z" stroke="#ff0000" stroke-width="1.4" fill="none" stroke-linejoin="miter"/>
<circle cx="462.95" cy="1466" r="4.4" fill="none" stroke="#30990a" stroke-width="1.4"/>
<path d="M458.45 1460.58L467.45 1460.58L462.95 1469.4Z" stroke="#ff0000" stroke-width="1.4" fill="none" stroke-linejoin="miter"/>
<line x1="487.16" y1="1464" x2="487.16" y2="1468" stroke="#30990a" stroke-width="1.8"/>
<line x1="487.16" y1="1462.8" x2="487.16" y2="1466.8" stroke="#ff0000" stroke-width="1.8"/>
<circle cx="487.16" cy="1466" r="4.4" fill="none" stroke="#30990a" stroke-width="1.4"/>
<path d="M482.66 1461.38L491.66 1461.38L487.16 1470.2Z" stroke="#ff0000" stroke-width="1.4" fill="none" stroke-linejoin="miter"/>
<line x1="511.37" y1="1476.8" x2="511.37" y2="1480.8" stroke="#30990a" stroke-width="1.8"/>
<line x1="511.37" y1="1473.2" x2="511.37" y2="1477.2" stroke="#ff0000" stroke-width="1.8"/>
<circle cx="511.37" cy="1478.8" r="4.4" fill="none" stroke="#30990a" stroke-width="1.4"/>
<path d="M506.87 1471.78L515.87 1471.78L511.37 1480.6Z" stroke="#ff0000" stroke-width="1.4" fill="none" stroke-linejoin="miter"/>
<line x1="535.58" y1="1455.8" x2="535.58" y2="1461.8" stroke="#30990a" stroke-width="1.8"/>
<line x1="535.58" y1="1455" x2="535.58" y2="1461" stroke="#ff0000" stroke-width="1.8"/>
<circle cx="535.58" cy="1458.8" r="4.4" fill="none" stroke="#30990a" stroke-width="1.4"/>
<path d="M531.08 1454.58L540.08 1454.58L535.58 1463.4Z" stroke="#ff0000" stroke-width="1.4" fill="none" stroke-linejoin="miter"/>
<line x1="559.79" y1="1472" x2="559.79" y2="1488" stroke="#30990a" stroke-width="1.8"/>
<line x1="559.79" y1="1464" x2="559.79" y2="1480" stroke="#ff0000" stroke-width="1.8"/>
<circle cx="559.79" cy="1480" r="4.4" fill="none" stroke="#30990a" stroke-width="1.4"/>
<path d="M555.29 1468.58L564.29 1468.58L559.79 1477.4Z" stroke="#ff0000" stroke-width="1.4" fill="none" stroke-linejoin="miter"/>
<g transform="translate(119.68 1590)"><text xml:space="preserve" x="0" y="0" font-size="26.8" font-family='"Liberation Sans", sans-serif'>20</text></g>
<g transform="translate(178.36 1590)"><text xml:space="preserve" x="0" y="0" font-size="26.8" font-family='"Liberation Sans", sans-serif'>30</text></g>
<g transform="translate(220.08 1590)"><text xml:space="preserve" x="0" y="0" font-size="26.8" font-family='"Liberation Sans", sans-serif'>40</text></g>
<g transform="translate(346.99 1590) scale(0.9983 1)"><path d="M10 0L7.64 0L7.64 -15.01C7.07 -14.46 6.32 -13.91 5.4 -13.36C4.49 -12.81 3.66 -12.39 2.92 -12.1L2.92 -14.38C4.21 -15 5.35 -15.74 6.33 -16.62C7.32 -17.5 8.01 -18.35 8.41 -19.18L10 -19.18Z" fill="#000" stroke="#000" stroke-width="0.3"/><text xml:space="preserve" x="14.9" y="0" font-size="26.8" font-family='"Liberation Sans", sans-serif'>0</text></g>
<g transform="translate(375.97 1577.8) scale(1.0536 1)"><text xml:space="preserve" x="0" y="0" font-size="17.5" font-family='"Liberation Sans", sans-serif'>2</text></g>
<g transform="translate(432.72 1590) scale(0.9712 1)"><text xml:space="preserve" x="0" y="0" font-size="26.8" font-family='"Liberation Sans", sans-serif'>2</text><path d="M16.61 -13.35L28.85 -0.79M16.61 -0.79L28.85 -13.35" stroke="#000" stroke-width="1.25" fill="none"/><path d="M40.55 0L38.2 0L38.2 -15.01C37.62 -14.46 36.88 -13.91 35.96 -13.36C35.04 -12.81 34.22 -12.39 33.47 -12.1L33.47 -14.38C34.77 -15 35.91 -15.74 36.89 -16.62C37.87 -17.5 38.56 -18.35 38.97 -19.18L40.55 -19.18Z" fill="#000" stroke="#000" stroke-width="0.3"/><text xml:space="preserve" x="45.46" y="0" font-size="26.8" font-family='"Liberation Sans", sans-serif'>0</text></g>
<g transform="translate(490.04 1577.8) scale(1.1289 1)"><text xml:space="preserve" x="0" y="0" font-size="17.5" font-family='"Liberation Sans", sans-serif'>2</text></g>
<g transform="translate(438.61 1619) scale(0.9671 1)"><text xml:space="preserve" x="0" y="0" font-size="25.6" font-family='"Liberation Sans", sans-serif'>Jet p</text></g>
<g transform="translate(491.87 1631.75) scale(1.0039 1)"><text xml:space="preserve" x="0" y="0" font-size="17" font-family='"Liberation Sans", sans-serif'>T</text></g>
<g transform="translate(508.64 1619) scale(0.9644 1)"><text xml:space="preserve" x="0" y="0" font-size="25.6" font-family='"Liberation Sans", sans-serif'>[GeV]</text></g>
<text x="18" y="975.52" font-size="24.3" font-family='"Liberation Sans", sans-serif' textLength="75.41" lengthAdjust="spacingAndGlyphs" transform="rotate(-90 18 975.52)">Events</text>
<text x="36" y="1414.73" font-size="25.3" font-family='"Liberation Sans", sans-serif' textLength="111.37" lengthAdjust="spacingAndGlyphs" transform="rotate(-90 36 1414.73)">Data / MC</text>
<text x="37.3" y="1562.74" font-size="25.3" font-family='"Liberation Sans", sans-serif' textLength="130.72" lengthAdjust="spacingAndGlyphs" transform="rotate(-90 37.3 1562.74)">Cut / No-cut</text>
<g transform="translate(86.56 897.3) scale(1.0243 1)"><path d="M1.7 -13.35L13.95 -0.79M1.7 -0.79L13.95 -13.35" stroke="#000" stroke-width="1.25" fill="none"/></g>
<g transform="translate(101.69 897.3) scale(0.9983 1)"><path d="M10 0L7.64 0L7.64 -15.01C7.07 -14.46 6.32 -13.91 5.4 -13.36C4.49 -12.81 3.66 -12.39 2.92 -12.1L2.92 -14.38C4.21 -15 5.35 -15.74 6.33 -16.62C7.32 -17.5 8.01 -18.35 8.41 -19.18L10 -19.18Z" fill="#000" stroke="#000" stroke-width="0.3"/><text xml:space="preserve" x="14.9" y="0" font-size="26.8" font-family='"Liberation Sans", sans-serif'>0</text></g>
<g transform="translate(130.35 884.3) scale(1.0963 1)"><text xml:space="preserve" x="0" y="0" font-size="17" font-family='"Liberation Sans", sans-serif'>6</text></g>
<g transform="translate(112.41 930.3) scale(0.9526 1)"><text xml:space="preserve" x="0" y="0" font-size="31.4" font-family='"Liberation Sans", sans-serif' font-weight="bold" font-style="italic">ATLAS</text></g>
<path d="M115.3 950.5L118.9 963.3L121.8 942.6L136 942.6" stroke="#000000" stroke-width="1.3" fill="none"/>
<g transform="translate(124.55 963) scale(0.9699 1)"><text xml:space="preserve" x="0" y="0" font-size="24.2" font-family='"Liberation Sans", sans-serif'>s= </text><path d="M41.98 0L39.86 0L39.86 -13.55C39.34 -13.06 38.66 -12.56 37.84 -12.06C37.01 -11.57 36.26 -11.19 35.59 -10.93L35.59 -12.99C36.76 -13.54 37.79 -14.22 38.68 -15.01C39.56 -15.8 40.19 -16.57 40.55 -17.32L41.98 -17.32Z" fill="#000" stroke="#000" stroke-width="0.3"/><text xml:space="preserve" x="46.41" y="0" font-size="24.2" font-family='"Liberation Sans", sans-serif'>3 TeV, L</text></g>
<g transform="translate(256.92 973.2) scale(0.9752 1)"><text xml:space="preserve" x="0" y="0" font-size="16.5" font-family='"Liberation Sans", sans-serif'>int</text></g>
<g transform="translate(280.22 963) scale(0.9947 1)"><text xml:space="preserve" x="0" y="0" font-size="24.2" font-family='"Liberation Sans", sans-serif'>= 7</text><path d="M43.34 0L41.22 0L41.22 -13.55C40.7 -13.06 40.02 -12.56 39.2 -12.06C38.37 -11.57 37.62 -11.19 36.95 -10.93L36.95 -12.99C38.12 -13.54 39.15 -14.22 40.03 -15.01C40.92 -15.8 41.55 -16.57 41.91 -17.32L43.34 -17.32Z" fill="#000" stroke="#000" stroke-width="0.3"/><text xml:space="preserve" x="47.77" y="0" font-size="24.2" font-family='"Liberation Sans", sans-serif'> pb</text></g>
<g transform="translate(360.69 951.3) scale(0.9618 1)"><text xml:space="preserve" x="0" y="0" font-size="16.5" font-family='"Liberation Sans", sans-serif'>-</text><path d="M11.65 0L10.2 0L10.2 -9.24C9.85 -8.9 9.39 -8.56 8.82 -8.23C8.26 -7.89 7.75 -7.63 7.29 -7.45L7.29 -8.85C8.09 -9.23 8.79 -9.69 9.39 -10.23C10 -10.77 10.43 -11.3 10.68 -11.81L11.65 -11.81Z" fill="#000" stroke="#000" stroke-width="0.3"/></g>
<g transform="translate(112.07 995.8) scale(0.9721 1)"><text xml:space="preserve" x="0" y="0" font-size="24.2" font-family='"Liberation Sans", sans-serif'>HLT_j45</text></g>
<g transform="translate(112.45 1028.4) scale(0.9766 1)"><text xml:space="preserve" x="0" y="0" font-size="24.2" font-family='"Liberation Sans", sans-serif'>Anti-</text></g>
<g transform="translate(160.64 1028.4) scale(0.9045 1)"><text xml:space="preserve" x="0" y="0" font-size="24.2" font-family='"Liberation Sans", sans-serif' font-style="italic">k</text></g>
<g transform="translate(174.45 1034.4) scale(1.1346 1)"><text xml:space="preserve" x="0" y="0" font-size="16.5" font-family='"Liberation Sans", sans-serif' font-style="italic">t</text></g>
<g transform="translate(187.06 1028.4) scale(0.9759 1)"><text xml:space="preserve" x="0" y="0" font-size="24.2" font-family='"Liberation Sans", sans-serif'>R=0.4 EM+JES</text></g>
<line x1="293.2" y1="1052.9" x2="331" y2="1052.9" stroke="#000099" stroke-width="2" stroke-dasharray="1.3 2.0"/>
<line x1="293.2" y1="1079" x2="329.4" y2="1079" stroke="#30990a" stroke-width="2.4" stroke-dasharray="3.7 2.9"/>
<line x1="293.2" y1="1105" x2="328.8" y2="1105" stroke="#ff0000" stroke-width="2.4" stroke-dasharray="3.9 3.9 1.5 3.7"/>
<circle cx="311.5" cy="1052.9" r="5" fill="#000099"/>
<circle cx="311.5" cy="1079" r="4.45" fill="none" stroke="#30990a" stroke-width="1.4"/>
<path d="M306.9 1100.7L316.1 1100.7L311.5 1109.72Z" stroke="#ff0000" stroke-width="1.4" fill="none" stroke-linejoin="miter"/>
<g transform="translate(343.47 1056.4) scale(0.9843 1)"><text xml:space="preserve" x="0" y="0" font-size="22" font-family='"Liberation Sans", sans-serif'>No cut</text></g>
<g transform="translate(344.27 1083.2) scale(0.9766 1)"><text xml:space="preserve" x="0" y="0" font-size="22" font-family='"Liberation Sans", sans-serif'>Seed Ext. cut</text></g>
<g transform="translate(344.27 1108.4) scale(0.9764 1)"><text xml:space="preserve" x="0" y="0" font-size="22" font-family='"Liberation Sans", sans-serif'>Seed Ext. cut + UL 20</text></g>
<circle cx="311.9" cy="1131" r="4.2" fill="none" stroke="#000000" stroke-width="1.3"/>
<g transform="translate(324.75 1139.6) scale(0.9896 1)"><text xml:space="preserve" x="0" y="0" font-size="21.6" font-family='"Liberation Sans", sans-serif'>Data</text></g>
<line x1="394.8" y1="1135" x2="413.2" y2="1135" stroke="#000000" stroke-width="3.5"/>
<g transform="translate(422.82 1139.6) scale(1.0062 1)"><text xml:space="preserve" x="0" y="0" font-size="21.6" font-family='"Liberation Sans", sans-serif'>Pythia 8.230</text></g>
<g transform="translate(270.78 1699.4) scale(1.0651 1)"><text xml:space="preserve" x="0" y="0" font-size="26" font-family='"Liberation Serif", serif'>(c)</text></g>
<clipPath id="cd0"><rect x="716.5" y="900.4" width="483" height="401.8"/></clipPath>
<clipPath id="cd1"><rect x="710.5" y="1305.5" width="495" height="119.2"/></clipPath>
<clipPath id="cd2"><rect x="716.5" y="1432.8" width="483" height="124.9"/></clipPath>
<line x1="716.5" y1="1289.5" x2="725.2" y2="1289.5" stroke="#262626" stroke-width="1.5"/>
<line x1="1199.5" y1="1289.5" x2="1190.8" y2="1289.5" stroke="#262626" stroke-width="1.5"/>
<line x1="716.5" y1="1280.5" x2="725.2" y2="1280.5" stroke="#262626" stroke-width="1.5"/>
<line x1="1199.5" y1="1280.5" x2="1190.8" y2="1280.5" stroke="#262626" stroke-width="1.5"/>
<line x1="716.5" y1="1272.5" x2="725.2" y2="1272.5" stroke="#262626" stroke-width="1.5"/>
<line x1="1199.5" y1="1272.5" x2="1190.8" y2="1272.5" stroke="#262626" stroke-width="1.5"/>
<line x1="716.5" y1="1264.5" x2="725.2" y2="1264.5" stroke="#262626" stroke-width="1.5"/>
<line x1="1199.5" y1="1264.5" x2="1190.8" y2="1264.5" stroke="#262626" stroke-width="1.5"/>
<line x1="716.5" y1="1248.5" x2="725.2" y2="1248.5" stroke="#262626" stroke-width="1.5"/>
<line x1="1199.5" y1="1248.5" x2="1190.8" y2="1248.5" stroke="#262626" stroke-width="1.5"/>
<line x1="716.5" y1="1240.5" x2="725.2" y2="1240.5" stroke="#262626" stroke-width="1.5"/>
<line x1="1199.5" y1="1240.5" x2="1190.8" y2="1240.5" stroke="#262626" stroke-width="1.5"/>
<line x1="716.5" y1="1232.5" x2="725.2" y2="1232.5" stroke="#262626" stroke-width="1.5"/>
<line x1="1199.5" y1="1232.5" x2="1190.8" y2="1232.5" stroke="#262626" stroke-width="1.5"/>
<line x1="716.5" y1="1224.5" x2="725.2" y2="1224.5" stroke="#262626" stroke-width="1.5"/>
<line x1="1199.5" y1="1224.5" x2="1190.8" y2="1224.5" stroke="#262626" stroke-width="1.5"/>
<line x1="716.5" y1="1207.5" x2="725.2" y2="1207.5" stroke="#262626" stroke-width="1.5"/>
<line x1="1199.5" y1="1207.5" x2="1190.8" y2="1207.5" stroke="#262626" stroke-width="1.5"/>
<line x1="716.5" y1="1199.5" x2="725.2" y2="1199.5" stroke="#262626" stroke-width="1.5"/>
<line x1="1199.5" y1="1199.5" x2="1190.8" y2="1199.5" stroke="#262626" stroke-width="1.5"/>
<line x1="716.5" y1="1191.5" x2="725.2" y2="1191.5" stroke="#262626" stroke-width="1.5"/>
<line x1="1199.5" y1="1191.5" x2="1190.8" y2="1191.5" stroke="#262626" stroke-width="1.5"/>
<line x1="716.5" y1="1183.5" x2="725.2" y2="1183.5" stroke="#262626" stroke-width="1.5"/>
<line x1="1199.5" y1="1183.5" x2="1190.8" y2="1183.5" stroke="#262626" stroke-width="1.5"/>
<line x1="716.5" y1="1167.5" x2="725.2" y2="1167.5" stroke="#262626" stroke-width="1.5"/>
<line x1="1199.5" y1="1167.5" x2="1190.8" y2="1167.5" stroke="#262626" stroke-width="1.5"/>
<line x1="716.5" y1="1159.5" x2="725.2" y2="1159.5" stroke="#262626" stroke-width="1.5"/>
<line x1="1199.5" y1="1159.5" x2="1190.8" y2="1159.5" stroke="#262626" stroke-width="1.5"/>
<line x1="716.5" y1="1151.5" x2="725.2" y2="1151.5" stroke="#262626" stroke-width="1.5"/>
<line x1="1199.5" y1="1151.5" x2="1190.8" y2="1151.5" stroke="#262626" stroke-width="1.5"/>
<line x1="716.5" y1="1142.5" x2="725.2" y2="1142.5" stroke="#262626" stroke-width="1.5"/>
<line x1="1199.5" y1="1142.5" x2="1190.8" y2="1142.5" stroke="#262626" stroke-width="1.5"/>
<line x1="716.5" y1="1126.5" x2="725.2" y2="1126.5" stroke="#262626" stroke-width="1.5"/>
<line x1="1199.5" y1="1126.5" x2="1190.8" y2="1126.5" stroke="#262626" stroke-width="1.5"/>
<line x1="716.5" y1="1118.5" x2="725.2" y2="1118.5" stroke="#262626" stroke-width="1.5"/>
<line x1="1199.5" y1="1118.5" x2="1190.8" y2="1118.5" stroke="#262626" stroke-width="1.5"/>
<line x1="716.5" y1="1110.5" x2="725.2" y2="1110.5" stroke="#262626" stroke-width="1.5"/>
<line x1="1199.5" y1="1110.5" x2="1190.8" y2="1110.5" stroke="#262626" stroke-width="1.5"/>
<line x1="716.5" y1="1102.5" x2="725.2" y2="1102.5" stroke="#262626" stroke-width="1.5"/>
<line x1="1199.5" y1="1102.5" x2="1190.8" y2="1102.5" stroke="#262626" stroke-width="1.5"/>
<line x1="716.5" y1="1086.5" x2="725.2" y2="1086.5" stroke="#262626" stroke-width="1.5"/>
<line x1="1199.5" y1="1086.5" x2="1190.8" y2="1086.5" stroke="#262626" stroke-width="1.5"/>
<line x1="716.5" y1="1078.5" x2="725.2" y2="1078.5" stroke="#262626" stroke-width="1.5"/>
<line x1="1199.5" y1="1078.5" x2="1190.8" y2="1078.5" stroke="#262626" stroke-width="1.5"/>
<line x1="716.5" y1="1069.5" x2="725.2" y2="1069.5" stroke="#262626" stroke-width="1.5"/>
<line x1="1199.5" y1="1069.5" x2="1190.8" y2="1069.5" stroke="#262626" stroke-width="1.5"/>
<line x1="716.5" y1="1061.5" x2="725.2" y2="1061.5" stroke="#262626" stroke-width="1.5"/>
<line x1="1199.5" y1="1061.5" x2="1190.8" y2="1061.5" stroke="#262626" stroke-width="1.5"/>
<line x1="716.5" y1="1045.5" x2="725.2" y2="1045.5" stroke="#262626" stroke-width="1.5"/>
<line x1="1199.5" y1="1045.5" x2="1190.8" y2="1045.5" stroke="#262626" stroke-width="1.5"/>
<line x1="716.5" y1="1037.5" x2="725.2" y2="1037.5" stroke="#262626" stroke-width="1.5"/>
<line x1="1199.5" y1="1037.5" x2="1190.8" y2="1037.5" stroke="#262626" stroke-width="1.5"/>
<line x1="716.5" y1="1029.5" x2="725.2" y2="1029.5" stroke="#262626" stroke-width="1.5"/>
<line x1="1199.5" y1="1029.5" x2="1190.8" y2="1029.5" stroke="#262626" stroke-width="1.5"/>
<line x1="716.5" y1="1021.5" x2="725.2" y2="1021.5" stroke="#262626" stroke-width="1.5"/>
<line x1="1199.5" y1="1021.5" x2="1190.8" y2="1021.5" stroke="#262626" stroke-width="1.5"/>
<line x1="716.5" y1="1005.5" x2="725.2" y2="1005.5" stroke="#262626" stroke-width="1.5"/>
<line x1="1199.5" y1="1005.5" x2="1190.8" y2="1005.5" stroke="#262626" stroke-width="1.5"/>
<line x1="716.5" y1="996.5" x2="725.2" y2="996.5" stroke="#262626" stroke-width="1.5"/>
<line x1="1199.5" y1="996.5" x2="1190.8" y2="996.5" stroke="#262626" stroke-width="1.5"/>
<line x1="716.5" y1="988.5" x2="725.2" y2="988.5" stroke="#262626" stroke-width="1.5"/>
<line x1="1199.5" y1="988.5" x2="1190.8" y2="988.5" stroke="#262626" stroke-width="1.5"/>
<line x1="716.5" y1="980.5" x2="725.2" y2="980.5" stroke="#262626" stroke-width="1.5"/>
<line x1="1199.5" y1="980.5" x2="1190.8" y2="980.5" stroke="#262626" stroke-width="1.5"/>
<line x1="716.5" y1="964.5" x2="725.2" y2="964.5" stroke="#262626" stroke-width="1.5"/>
<line x1="1199.5" y1="964.5" x2="1190.8" y2="964.5" stroke="#262626" stroke-width="1.5"/>
<line x1="716.5" y1="956.5" x2="725.2" y2="956.5" stroke="#262626" stroke-width="1.5"/>
<line x1="1199.5" y1="956.5" x2="1190.8" y2="956.5" stroke="#262626" stroke-width="1.5"/>
<line x1="716.5" y1="948.5" x2="725.2" y2="948.5" stroke="#262626" stroke-width="1.5"/>
<line x1="1199.5" y1="948.5" x2="1190.8" y2="948.5" stroke="#262626" stroke-width="1.5"/>
<line x1="716.5" y1="940.5" x2="725.2" y2="940.5" stroke="#262626" stroke-width="1.5"/>
<line x1="1199.5" y1="940.5" x2="1190.8" y2="940.5" stroke="#262626" stroke-width="1.5"/>
<line x1="716.5" y1="923.5" x2="725.2" y2="923.5" stroke="#262626" stroke-width="1.5"/>
<line x1="1199.5" y1="923.5" x2="1190.8" y2="923.5" stroke="#262626" stroke-width="1.5"/>
<line x1="716.5" y1="915.5" x2="725.2" y2="915.5" stroke="#262626" stroke-width="1.5"/>
<line x1="1199.5" y1="915.5" x2="1190.8" y2="915.5" stroke="#262626" stroke-width="1.5"/>
<line x1="716.5" y1="907.5" x2="725.2" y2="907.5" stroke="#262626" stroke-width="1.5"/>
<line x1="1199.5" y1="907.5" x2="1190.8" y2="907.5" stroke="#262626" stroke-width="1.5"/>
<line x1="716.5" y1="1297.5" x2="733.5" y2="1297.5" stroke="#262626" stroke-width="1.5"/>
<line x1="1199.5" y1="1297.5" x2="1182.5" y2="1297.5" stroke="#262626" stroke-width="1.5"/>
<line x1="716.5" y1="1256.5" x2="733.5" y2="1256.5" stroke="#262626" stroke-width="1.5"/>
<line x1="1199.5" y1="1256.5" x2="1182.5" y2="1256.5" stroke="#262626" stroke-width="1.5"/>
<line x1="716.5" y1="1216.5" x2="733.5" y2="1216.5" stroke="#262626" stroke-width="1.5"/>
<line x1="1199.5" y1="1216.5" x2="1182.5" y2="1216.5" stroke="#262626" stroke-width="1.5"/>
<line x1="716.5" y1="1175.5" x2="733.5" y2="1175.5" stroke="#262626" stroke-width="1.5"/>
<line x1="1199.5" y1="1175.5" x2="1182.5" y2="1175.5" stroke="#262626" stroke-width="1.5"/>
<line x1="716.5" y1="1134.5" x2="733.5" y2="1134.5" stroke="#262626" stroke-width="1.5"/>
<line x1="1199.5" y1="1134.5" x2="1182.5" y2="1134.5" stroke="#262626" stroke-width="1.5"/>
<line x1="716.5" y1="1094.5" x2="733.5" y2="1094.5" stroke="#262626" stroke-width="1.5"/>
<line x1="1199.5" y1="1094.5" x2="1182.5" y2="1094.5" stroke="#262626" stroke-width="1.5"/>
<line x1="716.5" y1="1053.5" x2="733.5" y2="1053.5" stroke="#262626" stroke-width="1.5"/>
<line x1="1199.5" y1="1053.5" x2="1182.5" y2="1053.5" stroke="#262626" stroke-width="1.5"/>
<line x1="716.5" y1="1013.5" x2="733.5" y2="1013.5" stroke="#262626" stroke-width="1.5"/>
<line x1="1199.5" y1="1013.5" x2="1182.5" y2="1013.5" stroke="#262626" stroke-width="1.5"/>
<line x1="716.5" y1="972.5" x2="733.5" y2="972.5" stroke="#262626" stroke-width="1.5"/>
<line x1="1199.5" y1="972.5" x2="1182.5" y2="972.5" stroke="#262626" stroke-width="1.5"/>
<line x1="716.5" y1="931.5" x2="733.5" y2="931.5" stroke="#262626" stroke-width="1.5"/>
<line x1="1199.5" y1="931.5" x2="1182.5" y2="931.5" stroke="#262626" stroke-width="1.5"/>
<g transform="translate(668.63 1267.22)"><text xml:space="preserve" x="0" y="0" font-size="26.8" font-family='"Liberation Sans", sans-serif'>500</text></g>
<g transform="translate(653.73 1226.64)"><path d="M10 0L7.64 0L7.64 -15.01C7.07 -14.46 6.32 -13.91 5.4 -13.36C4.49 -12.81 3.66 -12.39 2.92 -12.1L2.92 -14.38C4.21 -15 5.35 -15.74 6.33 -16.62C7.32 -17.5 8.01 -18.35 8.41 -19.18L10 -19.18Z" fill="#000" stroke="#000" stroke-width="0.3"/><text xml:space="preserve" x="14.9" y="0" font-size="26.8" font-family='"Liberation Sans", sans-serif'>000</text></g>
<g transform="translate(653.73 1186.06)"><path d="M10 0L7.64 0L7.64 -15.01C7.07 -14.46 6.32 -13.91 5.4 -13.36C4.49 -12.81 3.66 -12.39 2.92 -12.1L2.92 -14.38C4.21 -15 5.35 -15.74 6.33 -16.62C7.32 -17.5 8.01 -18.35 8.41 -19.18L10 -19.18Z" fill="#000" stroke="#000" stroke-width="0.3"/><text xml:space="preserve" x="14.9" y="0" font-size="26.8" font-family='"Liberation Sans", sans-serif'>500</text></g>
<g transform="translate(653.73 1145.48)"><text xml:space="preserve" x="0" y="0" font-size="26.8" font-family='"Liberation Sans", sans-serif'>2000</text></g>
<g transform="translate(653.73 1104.9)"><text xml:space="preserve" x="0" y="0" font-size="26.8" font-family='"Liberation Sans", sans-serif'>2500</text></g>
<g transform="translate(653.73 1064.32)"><text xml:space="preserve" x="0" y="0" font-size="26.8" font-family='"Liberation Sans", sans-serif'>3000</text></g>
<g transform="translate(653.73 1023.74)"><text xml:space="preserve" x="0" y="0" font-size="26.8" font-family='"Liberation Sans", sans-serif'>3500</text></g>
<g transform="translate(653.73 983.16)"><text xml:space="preserve" x="0" y="0" font-size="26.8" font-family='"Liberation Sans", sans-serif'>4000</text></g>
<g transform="translate(653.73 942.58)"><text xml:space="preserve" x="0" y="0" font-size="26.8" font-family='"Liberation Sans", sans-serif'>4500</text></g>
<line x1="763.5" y1="1297.2" x2="763.5" y2="1292.2" stroke="#262626" stroke-width="1.5"/>
<line x1="763.5" y1="901.4" x2="763.5" y2="906.4" stroke="#262626" stroke-width="1.5"/>
<line x1="821.5" y1="1297.2" x2="821.5" y2="1292.2" stroke="#262626" stroke-width="1.5"/>
<line x1="821.5" y1="901.4" x2="821.5" y2="906.4" stroke="#262626" stroke-width="1.5"/>
<line x1="863.5" y1="1297.2" x2="863.5" y2="1292.2" stroke="#262626" stroke-width="1.5"/>
<line x1="863.5" y1="901.4" x2="863.5" y2="906.4" stroke="#262626" stroke-width="1.5"/>
<line x1="895.5" y1="1297.2" x2="895.5" y2="1292.2" stroke="#262626" stroke-width="1.5"/>
<line x1="895.5" y1="901.4" x2="895.5" y2="906.4" stroke="#262626" stroke-width="1.5"/>
<line x1="921.5" y1="1297.2" x2="921.5" y2="1292.2" stroke="#262626" stroke-width="1.5"/>
<line x1="921.5" y1="901.4" x2="921.5" y2="906.4" stroke="#262626" stroke-width="1.5"/>
<line x1="944.5" y1="1297.2" x2="944.5" y2="1292.2" stroke="#262626" stroke-width="1.5"/>
<line x1="944.5" y1="901.4" x2="944.5" y2="906.4" stroke="#262626" stroke-width="1.5"/>
<line x1="963.5" y1="1297.2" x2="963.5" y2="1292.2" stroke="#262626" stroke-width="1.5"/>
<line x1="963.5" y1="901.4" x2="963.5" y2="906.4" stroke="#262626" stroke-width="1.5"/>
<line x1="980.5" y1="1297.2" x2="980.5" y2="1292.2" stroke="#262626" stroke-width="1.5"/>
<line x1="980.5" y1="901.4" x2="980.5" y2="906.4" stroke="#262626" stroke-width="1.5"/>
<line x1="1154.5" y1="1297.2" x2="1154.5" y2="1292.2" stroke="#262626" stroke-width="1.5"/>
<line x1="1154.5" y1="901.4" x2="1154.5" y2="906.4" stroke="#262626" stroke-width="1.5"/>
<line x1="1195.5" y1="1297.2" x2="1195.5" y2="1292.2" stroke="#262626" stroke-width="1.5"/>
<line x1="1195.5" y1="901.4" x2="1195.5" y2="906.4" stroke="#262626" stroke-width="1.5"/>
<line x1="995.5" y1="1297.2" x2="995.5" y2="1287.2" stroke="#262626" stroke-width="1.5"/>
<line x1="995.5" y1="901.4" x2="995.5" y2="911.4" stroke="#262626" stroke-width="1.5"/>
<line x1="1095.5" y1="1297.2" x2="1095.5" y2="1287.2" stroke="#262626" stroke-width="1.5"/>
<line x1="1095.5" y1="901.4" x2="1095.5" y2="911.4" stroke="#262626" stroke-width="1.5"/>
<rect x="716.5" y="901.4" width="483" height="395.8" fill="none" stroke="#262626" stroke-width="1.7"/>
<g clip-path="url(#cd0)">
<path d="M716.5 1297.2L739.9 1297.2L739.9 1279.75L764.11 1279.75L764.11 1093.8L788.32 1093.8L788.32 1147.4L812.53 1147.4L812.53 1188.5L836.74 1188.5L836.74 1218L860.95 1218L860.95 1235.8L885.16 1235.8L885.16 1171.4L909.37 1171.4L909.37 1189.6L933.58 1189.6L933.58 1240.5L957.79 1240.5L957.79 1268.4L982.01 1268.4L982.01 1282.8L1006.22 1282.8L1006.22 1290.5L1030.43 1290.5L1030.43 1294.5L1054.64 1294.5L1054.64 1296L1078.85 1296L1078.85 1296L1103.06 1296L1103.06 1296L1127.27 1296L1127.27 1296L1151.48 1296L1151.48 1296L1175.69 1296L1175.69 1296L1199.9 1296" stroke="#000099" stroke-width="1.8" fill="none" stroke-dasharray="1.3 2.0" stroke-linejoin="miter"/>
<path d="M716.5 1297.2L739.9 1297.2L739.9 1283L764.11 1283L764.11 1126.8L788.32 1126.8L788.32 1170.8L812.53 1170.8L812.53 1203.3L836.74 1203.3L836.74 1226L860.95 1226L860.95 1240L885.16 1240L885.16 1177.3L909.37 1177.3L909.37 1192L933.58 1192L933.58 1241.2L957.79 1241.2L957.79 1268.6L982.01 1268.6L982.01 1283L1006.22 1283L1006.22 1290.6L1030.43 1290.6L1030.43 1294.5L1054.64 1294.5L1054.64 1296L1078.85 1296L1078.85 1296L1103.06 1296L1103.06 1296L1127.27 1296L1127.27 1296L1151.48 1296L1151.48 1296L1175.69 1296L1175.69 1296L1199.9 1296" stroke="#30990a" stroke-width="2" fill="none" stroke-dasharray="4 2.8" stroke-linejoin="miter"/>
<path d="M716.5 1297.2L739.9 1297.2L739.9 1284.5L764.11 1284.5L764.11 1128.5L788.32 1128.5L788.32 1175.5L812.53 1175.5L812.53 1207L836.74 1207L836.74 1229.7L860.95 1229.7L860.95 1240L885.16 1240L885.16 1184.8L909.37 1184.8L909.37 1197.8L933.58 1197.8L933.58 1241.8L957.79 1241.8L957.79 1268.8L982.01 1268.8L982.01 1283.2L1006.22 1283.2L1006.22 1290.8L1030.43 1290.8L1030.43 1294.6L1054.64 1294.6L1054.64 1296L1078.85 1296L1078.85 1296L1103.06 1296L1103.06 1296L1127.27 1296L1127.27 1296L1151.48 1296L1151.48 1296L1175.69 1296L1175.69 1296L1199.9 1296" stroke="#ff0000" stroke-width="2" fill="none" stroke-dasharray="3.9 3.9 1.5 3.7" stroke-linejoin="miter"/>
<line x1="752.51" y1="1278.75" x2="752.51" y2="1280.75" stroke="#000099" stroke-width="1.6" stroke-dasharray="1.3 2.0"/>
<line x1="776.72" y1="1089.8" x2="776.72" y2="1097.8" stroke="#000099" stroke-width="1.6" stroke-dasharray="1.3 2.0"/>
<line x1="800.93" y1="1144.4" x2="800.93" y2="1150.4" stroke="#000099" stroke-width="1.6" stroke-dasharray="1.3 2.0"/>
<line x1="825.14" y1="1186.5" x2="825.14" y2="1190.5" stroke="#000099" stroke-width="1.6" stroke-dasharray="1.3 2.0"/>
<line x1="849.35" y1="1217" x2="849.35" y2="1219" stroke="#000099" stroke-width="1.6" stroke-dasharray="1.3 2.0"/>
<line x1="873.56" y1="1234.8" x2="873.56" y2="1236.8" stroke="#000099" stroke-width="1.6" stroke-dasharray="1.3 2.0"/>
<line x1="897.77" y1="1168.4" x2="897.77" y2="1174.4" stroke="#000099" stroke-width="1.6" stroke-dasharray="1.3 2.0"/>
<line x1="921.98" y1="1186.6" x2="921.98" y2="1192.6" stroke="#000099" stroke-width="1.6" stroke-dasharray="1.3 2.0"/>
<line x1="946.19" y1="1239.5" x2="946.19" y2="1241.5" stroke="#000099" stroke-width="1.6" stroke-dasharray="1.3 2.0"/>
<line x1="752.51" y1="1282" x2="752.51" y2="1284" stroke="#30990a" stroke-width="1.6"/>
<line x1="776.72" y1="1122.8" x2="776.72" y2="1130.8" stroke="#30990a" stroke-width="1.6"/>
<line x1="800.93" y1="1166.8" x2="800.93" y2="1174.8" stroke="#30990a" stroke-width="1.6"/>
<line x1="825.14" y1="1200.3" x2="825.14" y2="1206.3" stroke="#30990a" stroke-width="1.6"/>
<line x1="849.35" y1="1224" x2="849.35" y2="1228" stroke="#30990a" stroke-width="1.6"/>
<line x1="873.56" y1="1239" x2="873.56" y2="1241" stroke="#30990a" stroke-width="1.6"/>
<line x1="897.77" y1="1174.3" x2="897.77" y2="1180.3" stroke="#30990a" stroke-width="1.6"/>
<line x1="921.98" y1="1189" x2="921.98" y2="1195" stroke="#30990a" stroke-width="1.6"/>
<line x1="946.19" y1="1240.2" x2="946.19" y2="1242.2" stroke="#30990a" stroke-width="1.6"/>
<line x1="752.51" y1="1283.5" x2="752.51" y2="1285.5" stroke="#ff0000" stroke-width="1.6"/>
<line x1="776.72" y1="1124.5" x2="776.72" y2="1132.5" stroke="#ff0000" stroke-width="1.6"/>
<line x1="800.93" y1="1171.5" x2="800.93" y2="1179.5" stroke="#ff0000" stroke-width="1.6"/>
<line x1="825.14" y1="1204" x2="825.14" y2="1210" stroke="#ff0000" stroke-width="1.6"/>
<line x1="849.35" y1="1227.7" x2="849.35" y2="1231.7" stroke="#ff0000" stroke-width="1.6"/>
<line x1="873.56" y1="1239" x2="873.56" y2="1241" stroke="#ff0000" stroke-width="1.6"/>
<line x1="897.77" y1="1181.8" x2="897.77" y2="1187.8" stroke="#ff0000" stroke-width="1.6"/>
<line x1="921.98" y1="1194.8" x2="921.98" y2="1200.8" stroke="#ff0000" stroke-width="1.6"/>
<line x1="946.19" y1="1240.8" x2="946.19" y2="1242.8" stroke="#ff0000" stroke-width="1.6"/>
</g>
<circle cx="752.51" cy="1283.4" r="4.6" fill="#000099"/>
<circle cx="752.51" cy="1289.3" r="4.4" fill="none" stroke="#30990a" stroke-width="1.4"/>
<path d="M748.01 1283.28L757.01 1283.28L752.51 1292.1Z" stroke="#ff0000" stroke-width="1.4" fill="none" stroke-linejoin="miter"/>
<circle cx="776.72" cy="1143.2" r="4.6" fill="#000099"/>
<circle cx="776.72" cy="1190.3" r="4.4" fill="none" stroke="#30990a" stroke-width="1.4"/>
<path d="M772.22 1178.78L781.22 1178.78L776.72 1187.6Z" stroke="#ff0000" stroke-width="1.4" fill="none" stroke-linejoin="miter"/>
<circle cx="800.93" cy="1187.4" r="4.6" fill="#000099"/>
<circle cx="800.93" cy="1219" r="4.4" fill="none" stroke="#30990a" stroke-width="1.4"/>
<path d="M796.43 1210.68L805.43 1210.68L800.93 1219.5Z" stroke="#ff0000" stroke-width="1.4" fill="none" stroke-linejoin="miter"/>
<circle cx="825.14" cy="1218.4" r="4.6" fill="#000099"/>
<circle cx="825.14" cy="1240.1" r="4.4" fill="none" stroke="#30990a" stroke-width="1.4"/>
<path d="M820.64 1232.98L829.64 1232.98L825.14 1241.8Z" stroke="#ff0000" stroke-width="1.4" fill="none" stroke-linejoin="miter"/>
<circle cx="849.35" cy="1240.1" r="4.6" fill="#000099"/>
<circle cx="849.35" cy="1252" r="4.4" fill="none" stroke="#30990a" stroke-width="1.4"/>
<path d="M844.85 1245.98L853.85 1245.98L849.35 1254.8Z" stroke="#ff0000" stroke-width="1.4" fill="none" stroke-linejoin="miter"/>
<circle cx="873.56" cy="1248.8" r="4.6" fill="#000099"/>
<circle cx="873.56" cy="1260" r="4.4" fill="none" stroke="#30990a" stroke-width="1.4"/>
<path d="M869.06 1253.98L878.06 1253.98L873.56 1262.8Z" stroke="#ff0000" stroke-width="1.4" fill="none" stroke-linejoin="miter"/>
<circle cx="897.77" cy="1186" r="4.6" fill="#000099"/>
<circle cx="897.77" cy="1212" r="4.4" fill="none" stroke="#30990a" stroke-width="1.4"/>
<path d="M893.27 1203.58L902.27 1203.58L897.77 1212.4Z" stroke="#ff0000" stroke-width="1.4" fill="none" stroke-linejoin="miter"/>
<circle cx="921.98" cy="1206.5" r="4.6" fill="#000099"/>
<circle cx="921.98" cy="1226.4" r="4.4" fill="none" stroke="#30990a" stroke-width="1.4"/>
<path d="M917.48 1218.28L926.48 1218.28L921.98 1227.1Z" stroke="#ff0000" stroke-width="1.4" fill="none" stroke-linejoin="miter"/>
<circle cx="946.19" cy="1251.2" r="4.6" fill="#000099"/>
<circle cx="946.19" cy="1261.1" r="4.4" fill="none" stroke="#30990a" stroke-width="1.4"/>
<path d="M941.69 1255.08L950.69 1255.08L946.19 1263.9Z" stroke="#ff0000" stroke-width="1.4" fill="none" stroke-linejoin="miter"/>
<circle cx="970.4" cy="1272.3" r="4.6" fill="#000099"/>
<circle cx="970.4" cy="1277.7" r="4.4" fill="none" stroke="#30990a" stroke-width="1.4"/>
<path d="M965.9 1271.68L974.9 1271.68L970.4 1280.5Z" stroke="#ff0000" stroke-width="1.4" fill="none" stroke-linejoin="miter"/>
<circle cx="994.61" cy="1287.5" r="4.6" fill="#000099"/>
<circle cx="994.61" cy="1288" r="4.4" fill="none" stroke="#30990a" stroke-width="1.4"/>
<path d="M990.11 1284.08L999.11 1284.08L994.61 1292.9Z" stroke="#ff0000" stroke-width="1.4" fill="none" stroke-linejoin="miter"/>
<circle cx="1018.82" cy="1292.2" r="4.6" fill="#000099"/>
<circle cx="1018.82" cy="1292.5" r="4.4" fill="none" stroke="#30990a" stroke-width="1.4"/>
<path d="M1014.32 1288.78L1023.32 1288.78L1018.82 1297.6Z" stroke="#ff0000" stroke-width="1.4" fill="none" stroke-linejoin="miter"/>
<circle cx="1043.03" cy="1294.5" r="4.6" fill="#000099"/>
<circle cx="1043.03" cy="1294.7" r="4.4" fill="none" stroke="#30990a" stroke-width="1.4"/>
<path d="M1038.53 1291.08L1047.53 1291.08L1043.03 1299.9Z" stroke="#ff0000" stroke-width="1.4" fill="none" stroke-linejoin="miter"/>
<circle cx="1067.24" cy="1296.4" r="4.6" fill="#000099"/>
<circle cx="1067.24" cy="1296.4" r="4.4" fill="none" stroke="#30990a" stroke-width="1.4"/>
<path d="M1062.74 1292.98L1071.74 1292.98L1067.24 1301.8Z" stroke="#ff0000" stroke-width="1.4" fill="none" stroke-linejoin="miter"/>
<circle cx="1091.45" cy="1296.4" r="4.6" fill="#000099"/>
<circle cx="1091.45" cy="1296.4" r="4.4" fill="none" stroke="#30990a" stroke-width="1.4"/>
<path d="M1086.95 1292.98L1095.95 1292.98L1091.45 1301.8Z" stroke="#ff0000" stroke-width="1.4" fill="none" stroke-linejoin="miter"/>
<circle cx="1115.66" cy="1296.4" r="4.6" fill="#000099"/>
<circle cx="1115.66" cy="1296.4" r="4.4" fill="none" stroke="#30990a" stroke-width="1.4"/>
<path d="M1111.16 1292.98L1120.16 1292.98L1115.66 1301.8Z" stroke="#ff0000" stroke-width="1.4" fill="none" stroke-linejoin="miter"/>
<circle cx="1139.87" cy="1296.4" r="4.6" fill="#000099"/>
<circle cx="1139.87" cy="1296.4" r="4.4" fill="none" stroke="#30990a" stroke-width="1.4"/>
<path d="M1135.37 1292.98L1144.37 1292.98L1139.87 1301.8Z" stroke="#ff0000" stroke-width="1.4" fill="none" stroke-linejoin="miter"/>
<circle cx="1164.08" cy="1296.4" r="4.6" fill="#000099"/>
<circle cx="1164.08" cy="1296.4" r="4.4" fill="none" stroke="#30990a" stroke-width="1.4"/>
<path d="M1159.58 1292.98L1168.58 1292.98L1164.08 1301.8Z" stroke="#ff0000" stroke-width="1.4" fill="none" stroke-linejoin="miter"/>
<circle cx="1188.29" cy="1296.4" r="4.6" fill="#000099"/>
<circle cx="1188.29" cy="1296.4" r="4.4" fill="none" stroke="#30990a" stroke-width="1.4"/>
<path d="M1183.79 1292.98L1192.79 1292.98L1188.29 1301.8Z" stroke="#ff0000" stroke-width="1.4" fill="none" stroke-linejoin="miter"/>
<line x1="716.5" y1="1415.5" x2="725.2" y2="1415.5" stroke="#262626" stroke-width="1.5"/>
<line x1="1199.5" y1="1415.5" x2="1190.8" y2="1415.5" stroke="#262626" stroke-width="1.5"/>
<line x1="716.5" y1="1392.5" x2="725.2" y2="1392.5" stroke="#262626" stroke-width="1.5"/>
<line x1="1199.5" y1="1392.5" x2="1190.8" y2="1392.5" stroke="#262626" stroke-width="1.5"/>
<line x1="716.5" y1="1381.5" x2="725.2" y2="1381.5" stroke="#262626" stroke-width="1.5"/>
<line x1="1199.5" y1="1381.5" x2="1190.8" y2="1381.5" stroke="#262626" stroke-width="1.5"/>
<line x1="716.5" y1="1370.5" x2="725.2" y2="1370.5" stroke="#262626" stroke-width="1.5"/>
<line x1="1199.5" y1="1370.5" x2="1190.8" y2="1370.5" stroke="#262626" stroke-width="1.5"/>
<line x1="716.5" y1="1359.5" x2="725.2" y2="1359.5" stroke="#262626" stroke-width="1.5"/>
<line x1="1199.5" y1="1359.5" x2="1190.8" y2="1359.5" stroke="#262626" stroke-width="1.5"/>
<line x1="716.5" y1="1337.5" x2="725.2" y2="1337.5" stroke="#262626" stroke-width="1.5"/>
<line x1="1199.5" y1="1337.5" x2="1190.8" y2="1337.5" stroke="#262626" stroke-width="1.5"/>
<line x1="716.5" y1="1326.5" x2="725.2" y2="1326.5" stroke="#262626" stroke-width="1.5"/>
<line x1="1199.5" y1="1326.5" x2="1190.8" y2="1326.5" stroke="#262626" stroke-width="1.5"/>
<line x1="716.5" y1="1315.5" x2="725.2" y2="1315.5" stroke="#262626" stroke-width="1.5"/>
<line x1="1199.5" y1="1315.5" x2="1190.8" y2="1315.5" stroke="#262626" stroke-width="1.5"/>
<line x1="716.5" y1="1403.5" x2="733.5" y2="1403.5" stroke="#262626" stroke-width="1.5"/>
<line x1="1199.5" y1="1403.5" x2="1182.5" y2="1403.5" stroke="#262626" stroke-width="1.5"/>
<line x1="716.5" y1="1348.5" x2="733.5" y2="1348.5" stroke="#262626" stroke-width="1.5"/>
<line x1="1199.5" y1="1348.5" x2="1182.5" y2="1348.5" stroke="#262626" stroke-width="1.5"/>
<g transform="translate(702.3 1358)"><path d="M10 0L7.64 0L7.64 -15.01C7.07 -14.46 6.32 -13.91 5.4 -13.36C4.49 -12.81 3.66 -12.39 2.92 -12.1L2.92 -14.38C4.21 -15 5.35 -15.74 6.33 -16.62C7.32 -17.5 8.01 -18.35 8.41 -19.18L10 -19.18Z" fill="#000" stroke="#000" stroke-width="0.3"/></g>
<g transform="translate(676.17 1413.5)"><text xml:space="preserve" x="0" y="0" font-size="26.8" font-family='"Liberation Sans", sans-serif'>0.5</text></g>
<line x1="763.5" y1="1424.7" x2="763.5" y2="1422.7" stroke="#262626" stroke-width="1.5"/>
<line x1="763.5" y1="1305.5" x2="763.5" y2="1307.5" stroke="#262626" stroke-width="1.5"/>
<line x1="821.5" y1="1424.7" x2="821.5" y2="1422.7" stroke="#262626" stroke-width="1.5"/>
<line x1="821.5" y1="1305.5" x2="821.5" y2="1307.5" stroke="#262626" stroke-width="1.5"/>
<line x1="863.5" y1="1424.7" x2="863.5" y2="1422.7" stroke="#262626" stroke-width="1.5"/>
<line x1="863.5" y1="1305.5" x2="863.5" y2="1307.5" stroke="#262626" stroke-width="1.5"/>
<line x1="895.5" y1="1424.7" x2="895.5" y2="1422.7" stroke="#262626" stroke-width="1.5"/>
<line x1="895.5" y1="1305.5" x2="895.5" y2="1307.5" stroke="#262626" stroke-width="1.5"/>
<line x1="921.5" y1="1424.7" x2="921.5" y2="1422.7" stroke="#262626" stroke-width="1.5"/>
<line x1="921.5" y1="1305.5" x2="921.5" y2="1307.5" stroke="#262626" stroke-width="1.5"/>
<line x1="944.5" y1="1424.7" x2="944.5" y2="1422.7" stroke="#262626" stroke-width="1.5"/>
<line x1="944.5" y1="1305.5" x2="944.5" y2="1307.5" stroke="#262626" stroke-width="1.5"/>
<line x1="963.5" y1="1424.7" x2="963.5" y2="1422.7" stroke="#262626" stroke-width="1.5"/>
<line x1="963.5" y1="1305.5" x2="963.5" y2="1307.5" stroke="#262626" stroke-width="1.5"/>
<line x1="980.5" y1="1424.7" x2="980.5" y2="1422.7" stroke="#262626" stroke-width="1.5"/>
<line x1="980.5" y1="1305.5" x2="980.5" y2="1307.5" stroke="#262626" stroke-width="1.5"/>
<line x1="1154.5" y1="1424.7" x2="1154.5" y2="1422.7" stroke="#262626" stroke-width="1.5"/>
<line x1="1154.5" y1="1305.5" x2="1154.5" y2="1307.5" stroke="#262626" stroke-width="1.5"/>
<line x1="1195.5" y1="1424.7" x2="1195.5" y2="1422.7" stroke="#262626" stroke-width="1.5"/>
<line x1="1195.5" y1="1305.5" x2="1195.5" y2="1307.5" stroke="#262626" stroke-width="1.5"/>
<line x1="995.5" y1="1424.7" x2="995.5" y2="1421.2" stroke="#262626" stroke-width="1.5"/>
<line x1="995.5" y1="1305.5" x2="995.5" y2="1309" stroke="#262626" stroke-width="1.5"/>
<line x1="1095.5" y1="1424.7" x2="1095.5" y2="1421.2" stroke="#262626" stroke-width="1.5"/>
<line x1="1095.5" y1="1305.5" x2="1095.5" y2="1309" stroke="#262626" stroke-width="1.5"/>
<line x1="716.5" y1="1348.4" x2="1199.5" y2="1348.4" stroke="#000000" stroke-width="1.6" stroke-dasharray="3.4 3.06"/>
<rect x="716.5" y="1305.5" width="483" height="119.2" fill="none" stroke="#262626" stroke-width="1.7"/>
<g clip-path="url(#cd1)">
<circle cx="752.51" cy="1375.2" r="4.6" fill="#000099"/>
<circle cx="776.72" cy="1374.8" r="4.6" fill="#000099"/>
<circle cx="800.93" cy="1377.2" r="4.6" fill="#000099"/>
<circle cx="825.14" cy="1378.8" r="4.6" fill="#000099"/>
<circle cx="849.35" cy="1378.8" r="4.6" fill="#000099"/>
<circle cx="873.56" cy="1371.2" r="4.6" fill="#000099"/>
<circle cx="897.77" cy="1360.8" r="4.6" fill="#000099"/>
<circle cx="921.98" cy="1365.2" r="4.6" fill="#000099"/>
<circle cx="946.19" cy="1370" r="4.6" fill="#000099"/>
<circle cx="970.4" cy="1368" r="4.6" fill="#000099"/>
<circle cx="994.61" cy="1374.4" r="4.6" fill="#000099"/>
<line x1="1018.82" y1="1360" x2="1018.82" y2="1372" stroke="#000099" stroke-width="1.8"/>
<circle cx="1018.82" cy="1368" r="4.6" fill="#000099"/>
<line x1="1043.03" y1="1349" x2="1043.03" y2="1362" stroke="#000099" stroke-width="1.8"/>
<circle cx="1043.03" cy="1359.2" r="4.6" fill="#000099"/>
<line x1="1067.24" y1="1361.5" x2="1067.24" y2="1375" stroke="#000099" stroke-width="1.8"/>
<circle cx="1067.24" cy="1374.8" r="4.6" fill="#000099"/>
<line x1="1091.45" y1="1384.4" x2="1091.45" y2="1401" stroke="#000099" stroke-width="1.8"/>
<circle cx="1091.45" cy="1400.8" r="4.6" fill="#000099"/>
<line x1="1115.66" y1="1357.8" x2="1115.66" y2="1385" stroke="#000099" stroke-width="1.8"/>
<circle cx="1115.66" cy="1384.8" r="4.6" fill="#000099"/>
<circle cx="1139.87" cy="1411.2" r="4.6" fill="#000099"/>
<circle cx="1164.08" cy="1403.2" r="4.6" fill="#000099"/>
<circle cx="752.51" cy="1392.8" r="4.4" fill="none" stroke="#30990a" stroke-width="1.4"/>
<circle cx="776.72" cy="1390" r="4.4" fill="none" stroke="#30990a" stroke-width="1.4"/>
<circle cx="800.93" cy="1390.8" r="4.4" fill="none" stroke="#30990a" stroke-width="1.4"/>
<circle cx="825.14" cy="1391.2" r="4.4" fill="none" stroke="#30990a" stroke-width="1.4"/>
<circle cx="849.35" cy="1388" r="4.4" fill="none" stroke="#30990a" stroke-width="1.4"/>
<circle cx="873.56" cy="1386" r="4.4" fill="none" stroke="#30990a" stroke-width="1.4"/>
<circle cx="897.77" cy="1380" r="4.4" fill="none" stroke="#30990a" stroke-width="1.4"/>
<circle cx="921.98" cy="1384.8" r="4.4" fill="none" stroke="#30990a" stroke-width="1.4"/>
<circle cx="946.19" cy="1387.2" r="4.4" fill="none" stroke="#30990a" stroke-width="1.4"/>
<circle cx="970.4" cy="1380" r="4.4" fill="none" stroke="#30990a" stroke-width="1.4"/>
<circle cx="994.61" cy="1384" r="4.4" fill="none" stroke="#30990a" stroke-width="1.4"/>
<line x1="1018.82" y1="1372" x2="1018.82" y2="1384" stroke="#30990a" stroke-width="1.8"/>
<circle cx="1018.82" cy="1376" r="4.4" fill="none" stroke="#30990a" stroke-width="1.4"/>
<line x1="1043.03" y1="1362" x2="1043.03" y2="1374" stroke="#30990a" stroke-width="1.8"/>
<circle cx="1043.03" cy="1366" r="4.4" fill="none" stroke="#30990a" stroke-width="1.4"/>
<line x1="1067.24" y1="1386" x2="1067.24" y2="1404.6" stroke="#30990a" stroke-width="1.8"/>
<circle cx="1067.24" cy="1392.8" r="4.4" fill="none" stroke="#30990a" stroke-width="1.4"/>
<line x1="1091.45" y1="1402.8" x2="1091.45" y2="1426" stroke="#30990a" stroke-width="1.8"/>
<circle cx="1091.45" cy="1409.2" r="4.4" fill="none" stroke="#30990a" stroke-width="1.4"/>
<circle cx="1115.66" cy="1395.2" r="4.4" fill="none" stroke="#30990a" stroke-width="1.4"/>
<circle cx="1139.87" cy="1412" r="4.4" fill="none" stroke="#30990a" stroke-width="1.4"/>
<circle cx="1164.08" cy="1404" r="4.4" fill="none" stroke="#30990a" stroke-width="1.4"/>
<line x1="752.51" y1="1371" x2="752.51" y2="1384" stroke="#ff0000" stroke-width="1.8"/>
<path d="M748.01 1372.58L757.01 1372.58L752.51 1381.4Z" stroke="#ff0000" stroke-width="1.4" fill="none" stroke-linejoin="miter"/>
<path d="M772.22 1379.78L781.22 1379.78L776.72 1388.6Z" stroke="#ff0000" stroke-width="1.4" fill="none" stroke-linejoin="miter"/>
<path d="M796.43 1379.38L805.43 1379.38L800.93 1388.2Z" stroke="#ff0000" stroke-width="1.4" fill="none" stroke-linejoin="miter"/>
<path d="M820.64 1380.58L829.64 1380.58L825.14 1389.4Z" stroke="#ff0000" stroke-width="1.4" fill="none" stroke-linejoin="miter"/>
<path d="M844.85 1375.38L853.85 1375.38L849.35 1384.2Z" stroke="#ff0000" stroke-width="1.4" fill="none" stroke-linejoin="miter"/>
<path d="M869.06 1379.78L878.06 1379.78L873.56 1388.6Z" stroke="#ff0000" stroke-width="1.4" fill="none" stroke-linejoin="miter"/>
<path d="M893.27 1365.78L902.27 1365.78L897.77 1374.6Z" stroke="#ff0000" stroke-width="1.4" fill="none" stroke-linejoin="miter"/>
<path d="M917.48 1370.58L926.48 1370.58L921.98 1379.4Z" stroke="#ff0000" stroke-width="1.4" fill="none" stroke-linejoin="miter"/>
<path d="M941.69 1379.78L950.69 1379.78L946.19 1388.6Z" stroke="#ff0000" stroke-width="1.4" fill="none" stroke-linejoin="miter"/>
<path d="M965.9 1375.78L974.9 1375.78L970.4 1384.6Z" stroke="#ff0000" stroke-width="1.4" fill="none" stroke-linejoin="miter"/>
<path d="M990.11 1379.38L999.11 1379.38L994.61 1388.2Z" stroke="#ff0000" stroke-width="1.4" fill="none" stroke-linejoin="miter"/>
<line x1="1018.82" y1="1365" x2="1018.82" y2="1385" stroke="#ff0000" stroke-width="1.8"/>
<path d="M1014.32 1368.58L1023.32 1368.58L1018.82 1377.4Z" stroke="#ff0000" stroke-width="1.4" fill="none" stroke-linejoin="miter"/>
<line x1="1043.03" y1="1355" x2="1043.03" y2="1377" stroke="#ff0000" stroke-width="1.8"/>
<path d="M1038.53 1360.58L1047.53 1360.58L1043.03 1369.4Z" stroke="#ff0000" stroke-width="1.4" fill="none" stroke-linejoin="miter"/>
<line x1="1067.24" y1="1373" x2="1067.24" y2="1399" stroke="#ff0000" stroke-width="1.8"/>
<path d="M1062.74 1380.58L1071.74 1380.58L1067.24 1389.4Z" stroke="#ff0000" stroke-width="1.4" fill="none" stroke-linejoin="miter"/>
<line x1="1091.45" y1="1389" x2="1091.45" y2="1426" stroke="#ff0000" stroke-width="1.8"/>
<path d="M1086.95 1399.78L1095.95 1399.78L1091.45 1408.6Z" stroke="#ff0000" stroke-width="1.4" fill="none" stroke-linejoin="miter"/>
<line x1="1115.66" y1="1369.7" x2="1115.66" y2="1422" stroke="#ff0000" stroke-width="1.8"/>
<path d="M1111.16 1390.58L1120.16 1390.58L1115.66 1399.4Z" stroke="#ff0000" stroke-width="1.4" fill="none" stroke-linejoin="miter"/>
<line x1="1139.87" y1="1379" x2="1139.87" y2="1426" stroke="#ff0000" stroke-width="1.8"/>
<path d="M1135.37 1407.78L1144.37 1407.78L1139.87 1416.6Z" stroke="#ff0000" stroke-width="1.4" fill="none" stroke-linejoin="miter"/>
<line x1="1164.08" y1="1349.5" x2="1164.08" y2="1426" stroke="#ff0000" stroke-width="1.8"/>
<path d="M1159.58 1399.78L1168.58 1399.78L1164.08 1408.6Z" stroke="#ff0000" stroke-width="1.4" fill="none" stroke-linejoin="miter"/>
</g>
<line x1="716.5" y1="1544.5" x2="721.5" y2="1544.5" stroke="#262626" stroke-width="1.5"/>
<line x1="1199.5" y1="1544.5" x2="1194.5" y2="1544.5" stroke="#262626" stroke-width="1.5"/>
<line x1="716.5" y1="1532.5" x2="721.5" y2="1532.5" stroke="#262626" stroke-width="1.5"/>
<line x1="1199.5" y1="1532.5" x2="1194.5" y2="1532.5" stroke="#262626" stroke-width="1.5"/>
<line x1="716.5" y1="1521.5" x2="721.5" y2="1521.5" stroke="#262626" stroke-width="1.5"/>
<line x1="1199.5" y1="1521.5" x2="1194.5" y2="1521.5" stroke="#262626" stroke-width="1.5"/>
<line x1="716.5" y1="1497.5" x2="721.5" y2="1497.5" stroke="#262626" stroke-width="1.5"/>
<line x1="1199.5" y1="1497.5" x2="1194.5" y2="1497.5" stroke="#262626" stroke-width="1.5"/>
<line x1="716.5" y1="1485.5" x2="721.5" y2="1485.5" stroke="#262626" stroke-width="1.5"/>
<line x1="1199.5" y1="1485.5" x2="1194.5" y2="1485.5" stroke="#262626" stroke-width="1.5"/>
<line x1="716.5" y1="1474.5" x2="721.5" y2="1474.5" stroke="#262626" stroke-width="1.5"/>
<line x1="1199.5" y1="1474.5" x2="1194.5" y2="1474.5" stroke="#262626" stroke-width="1.5"/>
<line x1="716.5" y1="1450.5" x2="721.5" y2="1450.5" stroke="#262626" stroke-width="1.5"/>
<line x1="1199.5" y1="1450.5" x2="1194.5" y2="1450.5" stroke="#262626" stroke-width="1.5"/>
<line x1="716.5" y1="1438.5" x2="721.5" y2="1438.5" stroke="#262626" stroke-width="1.5"/>
<line x1="1199.5" y1="1438.5" x2="1194.5" y2="1438.5" stroke="#262626" stroke-width="1.5"/>
<line x1="716.5" y1="1556.5" x2="726.5" y2="1556.5" stroke="#262626" stroke-width="1.5"/>
<line x1="1199.5" y1="1556.5" x2="1189.5" y2="1556.5" stroke="#262626" stroke-width="1.5"/>
<line x1="716.5" y1="1509.5" x2="726.5" y2="1509.5" stroke="#262626" stroke-width="1.5"/>
<line x1="1199.5" y1="1509.5" x2="1189.5" y2="1509.5" stroke="#262626" stroke-width="1.5"/>
<line x1="716.5" y1="1462.5" x2="726.5" y2="1462.5" stroke="#262626" stroke-width="1.5"/>
<line x1="1199.5" y1="1462.5" x2="1189.5" y2="1462.5" stroke="#262626" stroke-width="1.5"/>
<g transform="translate(702.3 1472)"><path d="M10 0L7.64 0L7.64 -15.01C7.07 -14.46 6.32 -13.91 5.4 -13.36C4.49 -12.81 3.66 -12.39 2.92 -12.1L2.92 -14.38C4.21 -15 5.35 -15.74 6.33 -16.62C7.32 -17.5 8.01 -18.35 8.41 -19.18L10 -19.18Z" fill="#000" stroke="#000" stroke-width="0.3"/></g>
<g transform="translate(676.21 1519)"><text xml:space="preserve" x="0" y="0" font-size="26.8" font-family='"Liberation Sans", sans-serif'>0.8</text></g>
<g transform="translate(676.22 1566)"><text xml:space="preserve" x="0" y="0" font-size="26.8" font-family='"Liberation Sans", sans-serif'>0.6</text></g>
<line x1="763.5" y1="1556.2" x2="763.5" y2="1553.7" stroke="#262626" stroke-width="1.5"/>
<line x1="763.5" y1="1432.8" x2="763.5" y2="1435.3" stroke="#262626" stroke-width="1.5"/>
<line x1="821.5" y1="1556.2" x2="821.5" y2="1553.7" stroke="#262626" stroke-width="1.5"/>
<line x1="821.5" y1="1432.8" x2="821.5" y2="1435.3" stroke="#262626" stroke-width="1.5"/>
<line x1="863.5" y1="1556.2" x2="863.5" y2="1553.7" stroke="#262626" stroke-width="1.5"/>
<line x1="863.5" y1="1432.8" x2="863.5" y2="1435.3" stroke="#262626" stroke-width="1.5"/>
<line x1="895.5" y1="1556.2" x2="895.5" y2="1553.7" stroke="#262626" stroke-width="1.5"/>
<line x1="895.5" y1="1432.8" x2="895.5" y2="1435.3" stroke="#262626" stroke-width="1.5"/>
<line x1="921.5" y1="1556.2" x2="921.5" y2="1553.7" stroke="#262626" stroke-width="1.5"/>
<line x1="921.5" y1="1432.8" x2="921.5" y2="1435.3" stroke="#262626" stroke-width="1.5"/>
<line x1="944.5" y1="1556.2" x2="944.5" y2="1553.7" stroke="#262626" stroke-width="1.5"/>
<line x1="944.5" y1="1432.8" x2="944.5" y2="1435.3" stroke="#262626" stroke-width="1.5"/>
<line x1="963.5" y1="1556.2" x2="963.5" y2="1553.7" stroke="#262626" stroke-width="1.5"/>
<line x1="963.5" y1="1432.8" x2="963.5" y2="1435.3" stroke="#262626" stroke-width="1.5"/>
<line x1="980.5" y1="1556.2" x2="980.5" y2="1553.7" stroke="#262626" stroke-width="1.5"/>
<line x1="980.5" y1="1432.8" x2="980.5" y2="1435.3" stroke="#262626" stroke-width="1.5"/>
<line x1="1154.5" y1="1556.2" x2="1154.5" y2="1553.7" stroke="#262626" stroke-width="1.5"/>
<line x1="1154.5" y1="1432.8" x2="1154.5" y2="1435.3" stroke="#262626" stroke-width="1.5"/>
<line x1="1195.5" y1="1556.2" x2="1195.5" y2="1553.7" stroke="#262626" stroke-width="1.5"/>
<line x1="1195.5" y1="1432.8" x2="1195.5" y2="1435.3" stroke="#262626" stroke-width="1.5"/>
<line x1="995.5" y1="1556.2" x2="995.5" y2="1551.2" stroke="#262626" stroke-width="1.5"/>
<line x1="995.5" y1="1432.8" x2="995.5" y2="1437.8" stroke="#262626" stroke-width="1.5"/>
<line x1="1095.5" y1="1556.2" x2="1095.5" y2="1551.2" stroke="#262626" stroke-width="1.5"/>
<line x1="1095.5" y1="1432.8" x2="1095.5" y2="1437.8" stroke="#262626" stroke-width="1.5"/>
<line x1="716.5" y1="1462.4" x2="1199.5" y2="1462.4" stroke="#000000" stroke-width="1.6" stroke-dasharray="3.4 3.06"/>
<rect x="716.5" y="1432.8" width="483" height="123.4" fill="none" stroke="#262626" stroke-width="1.7"/>
<g clip-path="url(#cd2)">
<path d="M716.5 1556.2L739.9 1556.2L739.9 1497.2L764.11 1497.2L764.11 1500L788.32 1500L788.32 1498.8L812.53 1498.8L812.53 1494L836.74 1494L836.74 1487.2L860.95 1487.2L860.95 1478.8L885.16 1478.8L885.16 1473.2L909.37 1473.2L909.37 1468.8L933.58 1468.8L933.58 1466L957.79 1466L957.79 1464.8L982.01 1464.8L982.01 1464L1006.22 1464L1006.22 1464L1030.43 1464L1030.43 1463.8L1054.64 1463.8L1054.64 1463.6L1078.85 1463.6L1078.85 1463.5L1103.06 1463.5L1103.06 1463.4L1127.27 1463.4L1127.27 1463.3L1151.48 1463.3L1151.48 1463.2L1175.69 1463.2L1175.69 1463.2L1199.9 1463.2" stroke="#30990a" stroke-width="2" fill="none" stroke-dasharray="4 2.8" stroke-linejoin="miter"/>
<path d="M716.5 1556.2L739.9 1556.2L739.9 1526L764.11 1526L764.11 1501.2L788.32 1501.2L788.32 1505.2L812.53 1505.2L812.53 1502L836.74 1502L836.74 1496L860.95 1496L860.95 1478.8L885.16 1478.8L885.16 1486L909.37 1486L909.37 1480L933.58 1480L933.58 1468.8L957.79 1468.8L957.79 1460L982.01 1460L982.01 1461.2L1006.22 1461.2L1006.22 1460L1030.43 1460L1030.43 1464L1054.64 1464L1054.64 1464L1078.85 1464L1078.85 1466L1103.06 1466L1103.06 1459.2L1127.27 1459.2L1127.27 1459.2L1151.48 1459.2L1151.48 1461.2L1175.69 1461.2L1175.69 1463.2L1199.9 1463.2" stroke="#ff0000" stroke-width="2" fill="none" stroke-dasharray="3.9 3.9 1.5 3.7" stroke-linejoin="miter"/>
<line x1="752.51" y1="1509" x2="752.51" y2="1543" stroke="#ff0000" stroke-width="1.7" stroke-dasharray="3.9 3.9 1.5 3.7"/>
<line x1="776.72" y1="1491.2" x2="776.72" y2="1511.2" stroke="#ff0000" stroke-width="1.7" stroke-dasharray="3.9 3.9 1.5 3.7"/>
<line x1="800.93" y1="1495.2" x2="800.93" y2="1515.2" stroke="#ff0000" stroke-width="1.7" stroke-dasharray="3.9 3.9 1.5 3.7"/>
<line x1="825.14" y1="1492" x2="825.14" y2="1512" stroke="#ff0000" stroke-width="1.7" stroke-dasharray="3.9 3.9 1.5 3.7"/>
<line x1="849.35" y1="1486" x2="849.35" y2="1506" stroke="#ff0000" stroke-width="1.7" stroke-dasharray="3.9 3.9 1.5 3.7"/>
<line x1="873.56" y1="1469.8" x2="873.56" y2="1487.8" stroke="#ff0000" stroke-width="1.7" stroke-dasharray="3.9 3.9 1.5 3.7"/>
<line x1="897.77" y1="1477" x2="897.77" y2="1495" stroke="#ff0000" stroke-width="1.7" stroke-dasharray="3.9 3.9 1.5 3.7"/>
<line x1="921.98" y1="1471" x2="921.98" y2="1489" stroke="#ff0000" stroke-width="1.7" stroke-dasharray="3.9 3.9 1.5 3.7"/>
<line x1="946.19" y1="1462.8" x2="946.19" y2="1474.8" stroke="#ff0000" stroke-width="1.7" stroke-dasharray="3.9 3.9 1.5 3.7"/>
<line x1="970.4" y1="1456" x2="970.4" y2="1464" stroke="#ff0000" stroke-width="1.7" stroke-dasharray="3.9 3.9 1.5 3.7"/>
<line x1="994.61" y1="1458.2" x2="994.61" y2="1464.2" stroke="#ff0000" stroke-width="1.7" stroke-dasharray="3.9 3.9 1.5 3.7"/>
<line x1="1018.82" y1="1457" x2="1018.82" y2="1463" stroke="#ff0000" stroke-width="1.7" stroke-dasharray="3.9 3.9 1.5 3.7"/>
<line x1="1043.03" y1="1461" x2="1043.03" y2="1467" stroke="#ff0000" stroke-width="1.7" stroke-dasharray="3.9 3.9 1.5 3.7"/>
<line x1="1067.24" y1="1461" x2="1067.24" y2="1467" stroke="#ff0000" stroke-width="1.7" stroke-dasharray="3.9 3.9 1.5 3.7"/>
<line x1="1091.45" y1="1463" x2="1091.45" y2="1469" stroke="#ff0000" stroke-width="1.7" stroke-dasharray="3.9 3.9 1.5 3.7"/>
<line x1="1115.66" y1="1456.2" x2="1115.66" y2="1462.2" stroke="#ff0000" stroke-width="1.7" stroke-dasharray="3.9 3.9 1.5 3.7"/>
<line x1="1139.87" y1="1456.2" x2="1139.87" y2="1462.2" stroke="#ff0000" stroke-width="1.7" stroke-dasharray="3.9 3.9 1.5 3.7"/>
<line x1="1164.08" y1="1458.2" x2="1164.08" y2="1464.2" stroke="#ff0000" stroke-width="1.7" stroke-dasharray="3.9 3.9 1.5 3.7"/>
<line x1="1188.29" y1="1460.2" x2="1188.29" y2="1466.2" stroke="#ff0000" stroke-width="1.7" stroke-dasharray="3.9 3.9 1.5 3.7"/>
</g>
<line x1="752.51" y1="1525.2" x2="752.51" y2="1549.2" stroke="#30990a" stroke-width="1.8"/>
<line x1="752.51" y1="1508" x2="752.51" y2="1548" stroke="#ff0000" stroke-width="1.8"/>
<circle cx="752.51" cy="1537.2" r="4.4" fill="none" stroke="#30990a" stroke-width="1.4"/>
<path d="M748.01 1524.58L757.01 1524.58L752.51 1533.4Z" stroke="#ff0000" stroke-width="1.4" fill="none" stroke-linejoin="miter"/>
<circle cx="776.72" cy="1534" r="4.4" fill="none" stroke="#30990a" stroke-width="1.4"/>
<path d="M772.22 1518.58L781.22 1518.58L776.72 1527.4Z" stroke="#ff0000" stroke-width="1.4" fill="none" stroke-linejoin="miter"/>
<circle cx="800.93" cy="1530" r="4.4" fill="none" stroke="#30990a" stroke-width="1.4"/>
<path d="M796.43 1516.58L805.43 1516.58L800.93 1525.4Z" stroke="#ff0000" stroke-width="1.4" fill="none" stroke-linejoin="miter"/>
<circle cx="825.14" cy="1525.2" r="4.4" fill="none" stroke="#30990a" stroke-width="1.4"/>
<path d="M820.64 1511.78L829.64 1511.78L825.14 1520.6Z" stroke="#ff0000" stroke-width="1.4" fill="none" stroke-linejoin="miter"/>
<circle cx="849.35" cy="1512" r="4.4" fill="none" stroke="#30990a" stroke-width="1.4"/>
<path d="M844.85 1497.78L853.85 1497.78L849.35 1506.6Z" stroke="#ff0000" stroke-width="1.4" fill="none" stroke-linejoin="miter"/>
<circle cx="873.56" cy="1515.2" r="4.4" fill="none" stroke="#30990a" stroke-width="1.4"/>
<path d="M869.06 1504.58L878.06 1504.58L873.56 1513.4Z" stroke="#ff0000" stroke-width="1.4" fill="none" stroke-linejoin="miter"/>
<circle cx="897.77" cy="1516.8" r="4.4" fill="none" stroke="#30990a" stroke-width="1.4"/>
<path d="M893.27 1502.58L902.27 1502.58L897.77 1511.4Z" stroke="#ff0000" stroke-width="1.4" fill="none" stroke-linejoin="miter"/>
<circle cx="921.98" cy="1514.8" r="4.4" fill="none" stroke="#30990a" stroke-width="1.4"/>
<path d="M917.48 1498.58L926.48 1498.58L921.98 1507.4Z" stroke="#ff0000" stroke-width="1.4" fill="none" stroke-linejoin="miter"/>
<circle cx="946.19" cy="1510" r="4.4" fill="none" stroke="#30990a" stroke-width="1.4"/>
<path d="M941.69 1499.38L950.69 1499.38L946.19 1508.2Z" stroke="#ff0000" stroke-width="1.4" fill="none" stroke-linejoin="miter"/>
<circle cx="970.4" cy="1496" r="4.4" fill="none" stroke="#30990a" stroke-width="1.4"/>
<path d="M965.9 1485.78L974.9 1485.78L970.4 1494.6Z" stroke="#ff0000" stroke-width="1.4" fill="none" stroke-linejoin="miter"/>
<line x1="994.61" y1="1487.8" x2="994.61" y2="1493.8" stroke="#30990a" stroke-width="1.8"/>
<circle cx="994.61" cy="1490.8" r="4.4" fill="none" stroke="#30990a" stroke-width="1.4"/>
<path d="M990.11 1479.38L999.11 1479.38L994.61 1488.2Z" stroke="#ff0000" stroke-width="1.4" fill="none" stroke-linejoin="miter"/>
<line x1="1018.82" y1="1482" x2="1018.82" y2="1490" stroke="#30990a" stroke-width="1.8"/>
<line x1="1018.82" y1="1471.2" x2="1018.82" y2="1479.2" stroke="#ff0000" stroke-width="1.8"/>
<circle cx="1018.82" cy="1486" r="4.4" fill="none" stroke="#30990a" stroke-width="1.4"/>
<path d="M1014.32 1471.78L1023.32 1471.78L1018.82 1480.6Z" stroke="#ff0000" stroke-width="1.4" fill="none" stroke-linejoin="miter"/>
<line x1="1043.03" y1="1474" x2="1043.03" y2="1486" stroke="#30990a" stroke-width="1.8"/>
<line x1="1043.03" y1="1468" x2="1043.03" y2="1480" stroke="#ff0000" stroke-width="1.8"/>
<circle cx="1043.03" cy="1480" r="4.4" fill="none" stroke="#30990a" stroke-width="1.4"/>
<path d="M1038.53 1470.58L1047.53 1470.58L1043.03 1479.4Z" stroke="#ff0000" stroke-width="1.4" fill="none" stroke-linejoin="miter"/>
<line x1="1067.24" y1="1499.2" x2="1067.24" y2="1527.2" stroke="#30990a" stroke-width="1.8"/>
<line x1="1067.24" y1="1481.2" x2="1067.24" y2="1505.2" stroke="#ff0000" stroke-width="1.8"/>
<circle cx="1067.24" cy="1513.2" r="4.4" fill="none" stroke="#30990a" stroke-width="1.4"/>
<path d="M1062.74 1489.78L1071.74 1489.78L1067.24 1498.6Z" stroke="#ff0000" stroke-width="1.4" fill="none" stroke-linejoin="miter"/>
<line x1="1091.45" y1="1475.2" x2="1091.45" y2="1527.2" stroke="#30990a" stroke-width="1.8"/>
<line x1="1091.45" y1="1449.2" x2="1091.45" y2="1513.2" stroke="#ff0000" stroke-width="1.8"/>
<circle cx="1091.45" cy="1501.2" r="4.4" fill="none" stroke="#30990a" stroke-width="1.4"/>
<path d="M1086.95 1477.78L1095.95 1477.78L1091.45 1486.6Z" stroke="#ff0000" stroke-width="1.4" fill="none" stroke-linejoin="miter"/>
<line x1="1115.66" y1="1485.2" x2="1115.66" y2="1505.2" stroke="#30990a" stroke-width="1.8"/>
<line x1="1115.66" y1="1463.2" x2="1115.66" y2="1527.2" stroke="#ff0000" stroke-width="1.8"/>
<circle cx="1115.66" cy="1495.2" r="4.4" fill="none" stroke="#30990a" stroke-width="1.4"/>
<path d="M1111.16 1491.78L1120.16 1491.78L1115.66 1500.6Z" stroke="#ff0000" stroke-width="1.4" fill="none" stroke-linejoin="miter"/>
<circle cx="1139.87" cy="1462.8" r="4.4" fill="none" stroke="#30990a" stroke-width="1.4"/>
<path d="M1135.37 1458.58L1144.37 1458.58L1139.87 1467.4Z" stroke="#ff0000" stroke-width="1.4" fill="none" stroke-linejoin="miter"/>
<circle cx="1164.08" cy="1462" r="4.4" fill="none" stroke="#30990a" stroke-width="1.4"/>
<path d="M1159.58 1457.78L1168.58 1457.78L1164.08 1466.6Z" stroke="#ff0000" stroke-width="1.4" fill="none" stroke-linejoin="miter"/>
<circle cx="1188.29" cy="1462" r="4.4" fill="none" stroke="#30990a" stroke-width="1.4"/>
<path d="M1183.79 1457.78L1192.79 1457.78L1188.29 1466.6Z" stroke="#ff0000" stroke-width="1.4" fill="none" stroke-linejoin="miter"/>
<g transform="translate(748.18 1590)"><text xml:space="preserve" x="0" y="0" font-size="26.8" font-family='"Liberation Sans", sans-serif'>20</text></g>
<g transform="translate(806.86 1590)"><text xml:space="preserve" x="0" y="0" font-size="26.8" font-family='"Liberation Sans", sans-serif'>30</text></g>
<g transform="translate(848.58 1590)"><text xml:space="preserve" x="0" y="0" font-size="26.8" font-family='"Liberation Sans", sans-serif'>40</text></g>
<g transform="translate(975.49 1590) scale(0.9983 1)"><path d="M10 0L7.64 0L7.64 -15.01C7.07 -14.46 6.32 -13.91 5.4 -13.36C4.49 -12.81 3.66 -12.39 2.92 -12.1L2.92 -14.38C4.21 -15 5.35 -15.74 6.33 -16.62C7.32 -17.5 8.01 -18.35 8.41 -19.18L10 -19.18Z" fill="#000" stroke="#000" stroke-width="0.3"/><text xml:space="preserve" x="14.9" y="0" font-size="26.8" font-family='"Liberation Sans", sans-serif'>0</text></g>
<g transform="translate(1004.47 1577.8) scale(1.0536 1)"><text xml:space="preserve" x="0" y="0" font-size="17.5" font-family='"Liberation Sans", sans-serif'>2</text></g>
<g transform="translate(1061.22 1590) scale(0.9712 1)"><text xml:space="preserve" x="0" y="0" font-size="26.8" font-family='"Liberation Sans", sans-serif'>2</text><path d="M16.61 -13.35L28.85 -0.79M16.61 -0.79L28.85 -13.35" stroke="#000" stroke-width="1.25" fill="none"/><path d="M40.55 0L38.2 0L38.2 -15.01C37.62 -14.46 36.88 -13.91 35.96 -13.36C35.04 -12.81 34.22 -12.39 33.47 -12.1L33.47 -14.38C34.77 -15 35.91 -15.74 36.89 -16.62C37.87 -17.5 38.56 -18.35 38.97 -19.18L40.55 -19.18Z" fill="#000" stroke="#000" stroke-width="0.3"/><text xml:space="preserve" x="45.46" y="0" font-size="26.8" font-family='"Liberation Sans", sans-serif'>0</text></g>
<g transform="translate(1118.54 1577.8) scale(1.1289 1)"><text xml:space="preserve" x="0" y="0" font-size="17.5" font-family='"Liberation Sans", sans-serif'>2</text></g>
<g transform="translate(1067.11 1619) scale(0.9671 1)"><text xml:space="preserve" x="0" y="0" font-size="25.6" font-family='"Liberation Sans", sans-serif'>Jet p</text></g>
<g transform="translate(1120.37 1631.75) scale(1.0039 1)"><text xml:space="preserve" x="0" y="0" font-size="17" font-family='"Liberation Sans", sans-serif'>T</text></g>
<g transform="translate(1137.14 1619) scale(0.9644 1)"><text xml:space="preserve" x="0" y="0" font-size="25.6" font-family='"Liberation Sans", sans-serif'>[GeV]</text></g>
<text x="646.5" y="975.52" font-size="24.3" font-family='"Liberation Sans", sans-serif' textLength="75.41" lengthAdjust="spacingAndGlyphs" transform="rotate(-90 646.5 975.52)">Events</text>
<text x="664.5" y="1414.73" font-size="25.3" font-family='"Liberation Sans", sans-serif' textLength="111.37" lengthAdjust="spacingAndGlyphs" transform="rotate(-90 664.5 1414.73)">Data / MC</text>
<text x="665.8" y="1562.74" font-size="25.3" font-family='"Liberation Sans", sans-serif' textLength="130.72" lengthAdjust="spacingAndGlyphs" transform="rotate(-90 665.8 1562.74)">Cut / No-cut</text>
<g transform="translate(715.06 897.3) scale(1.0243 1)"><path d="M1.7 -13.35L13.95 -0.79M1.7 -0.79L13.95 -13.35" stroke="#000" stroke-width="1.25" fill="none"/></g>
<g transform="translate(730.19 897.3) scale(0.9983 1)"><path d="M10 0L7.64 0L7.64 -15.01C7.07 -14.46 6.32 -13.91 5.4 -13.36C4.49 -12.81 3.66 -12.39 2.92 -12.1L2.92 -14.38C4.21 -15 5.35 -15.74 6.33 -16.62C7.32 -17.5 8.01 -18.35 8.41 -19.18L10 -19.18Z" fill="#000" stroke="#000" stroke-width="0.3"/><text xml:space="preserve" x="14.9" y="0" font-size="26.8" font-family='"Liberation Sans", sans-serif'>0</text></g>
<g transform="translate(758.85 884.3) scale(1.0963 1)"><text xml:space="preserve" x="0" y="0" font-size="17" font-family='"Liberation Sans", sans-serif'>6</text></g>
<g transform="translate(740.91 930.3) scale(0.9526 1)"><text xml:space="preserve" x="0" y="0" font-size="31.4" font-family='"Liberation Sans", sans-serif' font-weight="bold" font-style="italic">ATLAS</text></g>
<path d="M743.8 950.5L747.4 963.3L750.3 942.6L764.5 942.6" stroke="#000000" stroke-width="1.3" fill="none"/>
<g transform="translate(753.05 963) scale(0.9699 1)"><text xml:space="preserve" x="0" y="0" font-size="24.2" font-family='"Liberation Sans", sans-serif'>s= </text><path d="M41.98 0L39.86 0L39.86 -13.55C39.34 -13.06 38.66 -12.56 37.84 -12.06C37.01 -11.57 36.26 -11.19 35.59 -10.93L35.59 -12.99C36.76 -13.54 37.79 -14.22 38.68 -15.01C39.56 -15.8 40.19 -16.57 40.55 -17.32L41.98 -17.32Z" fill="#000" stroke="#000" stroke-width="0.3"/><text xml:space="preserve" x="46.41" y="0" font-size="24.2" font-family='"Liberation Sans", sans-serif'>3 TeV, L</text></g>
<g transform="translate(885.42 973.2) scale(0.9752 1)"><text xml:space="preserve" x="0" y="0" font-size="16.5" font-family='"Liberation Sans", sans-serif'>int</text></g>
<g transform="translate(908.72 963) scale(0.9947 1)"><text xml:space="preserve" x="0" y="0" font-size="24.2" font-family='"Liberation Sans", sans-serif'>= 7</text><path d="M43.34 0L41.22 0L41.22 -13.55C40.7 -13.06 40.02 -12.56 39.2 -12.06C38.37 -11.57 37.62 -11.19 36.95 -10.93L36.95 -12.99C38.12 -13.54 39.15 -14.22 40.03 -15.01C40.92 -15.8 41.55 -16.57 41.91 -17.32L43.34 -17.32Z" fill="#000" stroke="#000" stroke-width="0.3"/><text xml:space="preserve" x="47.77" y="0" font-size="24.2" font-family='"Liberation Sans", sans-serif'> pb</text></g>
<g transform="translate(989.19 951.3) scale(0.9618 1)"><text xml:space="preserve" x="0" y="0" font-size="16.5" font-family='"Liberation Sans", sans-serif'>-</text><path d="M11.65 0L10.2 0L10.2 -9.24C9.85 -8.9 9.39 -8.56 8.82 -8.23C8.26 -7.89 7.75 -7.63 7.29 -7.45L7.29 -8.85C8.09 -9.23 8.79 -9.69 9.39 -10.23C10 -10.77 10.43 -11.3 10.68 -11.81L11.65 -11.81Z" fill="#000" stroke="#000" stroke-width="0.3"/></g>
<g transform="translate(740.57 996) scale(0.9739 1)"><text xml:space="preserve" x="0" y="0" font-size="24.2" font-family='"Liberation Sans", sans-serif'>HLT_j45_L</text><path d="M127.42 0L125.29 0L125.29 -13.55C124.77 -13.06 124.1 -12.56 123.27 -12.06C122.44 -11.57 121.7 -11.19 121.02 -10.93L121.02 -12.99C122.19 -13.54 123.22 -14.22 124.11 -15.01C124.99 -15.8 125.62 -16.57 125.99 -17.32L127.42 -17.32Z" fill="#000" stroke="#000" stroke-width="0.3"/><text xml:space="preserve" x="131.85" y="0" font-size="24.2" font-family='"Liberation Sans", sans-serif'>RD0_FILLED</text></g>
<g transform="translate(740.95 1028.4) scale(0.9766 1)"><text xml:space="preserve" x="0" y="0" font-size="24.2" font-family='"Liberation Sans", sans-serif'>Anti-</text></g>
<g transform="translate(789.14 1028.4) scale(0.9045 1)"><text xml:space="preserve" x="0" y="0" font-size="24.2" font-family='"Liberation Sans", sans-serif' font-style="italic">k</text></g>
<g transform="translate(802.95 1034.4) scale(1.1346 1)"><text xml:space="preserve" x="0" y="0" font-size="16.5" font-family='"Liberation Sans", sans-serif' font-style="italic">t</text></g>
<g transform="translate(815.56 1028.4) scale(0.9759 1)"><text xml:space="preserve" x="0" y="0" font-size="24.2" font-family='"Liberation Sans", sans-serif'>R=0.4 EM+JES</text></g>
<line x1="921.7" y1="1052.9" x2="959.5" y2="1052.9" stroke="#000099" stroke-width="2" stroke-dasharray="1.3 2.0"/>
<line x1="921.7" y1="1079" x2="957.9" y2="1079" stroke="#30990a" stroke-width="2.4" stroke-dasharray="3.7 2.9"/>
<line x1="921.7" y1="1105" x2="957.3" y2="1105" stroke="#ff0000" stroke-width="2.4" stroke-dasharray="3.9 3.9 1.5 3.7"/>
<circle cx="940" cy="1052.9" r="5" fill="#000099"/>
<circle cx="940" cy="1079" r="4.45" fill="none" stroke="#30990a" stroke-width="1.4"/>
<path d="M935.4 1100.7L944.6 1100.7L940 1109.72Z" stroke="#ff0000" stroke-width="1.4" fill="none" stroke-linejoin="miter"/>
<g transform="translate(971.97 1056.4) scale(0.9843 1)"><text xml:space="preserve" x="0" y="0" font-size="22" font-family='"Liberation Sans", sans-serif'>No cut</text></g>
<g transform="translate(972.77 1083.2) scale(0.9766 1)"><text xml:space="preserve" x="0" y="0" font-size="22" font-family='"Liberation Sans", sans-serif'>Seed Ext. cut</text></g>
<g transform="translate(972.77 1108.4) scale(0.9764 1)"><text xml:space="preserve" x="0" y="0" font-size="22" font-family='"Liberation Sans", sans-serif'>Seed Ext. cut + UL 20</text></g>
<circle cx="940.4" cy="1131" r="4.2" fill="none" stroke="#000000" stroke-width="1.3"/>
<g transform="translate(953.25 1139.6) scale(0.9896 1)"><text xml:space="preserve" x="0" y="0" font-size="21.6" font-family='"Liberation Sans", sans-serif'>Data</text></g>
<line x1="1023.3" y1="1135" x2="1041.7" y2="1135" stroke="#000000" stroke-width="3.5"/>
<g transform="translate(1051.32 1139.6) scale(1.0062 1)"><text xml:space="preserve" x="0" y="0" font-size="21.6" font-family='"Liberation Sans", sans-serif'>Pythia 8.230</text></g>
<g transform="translate(899.35 1699.4) scale(1.0096 1)"><text xml:space="preserve" x="0" y="0" font-size="26" font-family='"Liberation Serif", serif'>(d)</text></g>
</svg>
</body></html>
